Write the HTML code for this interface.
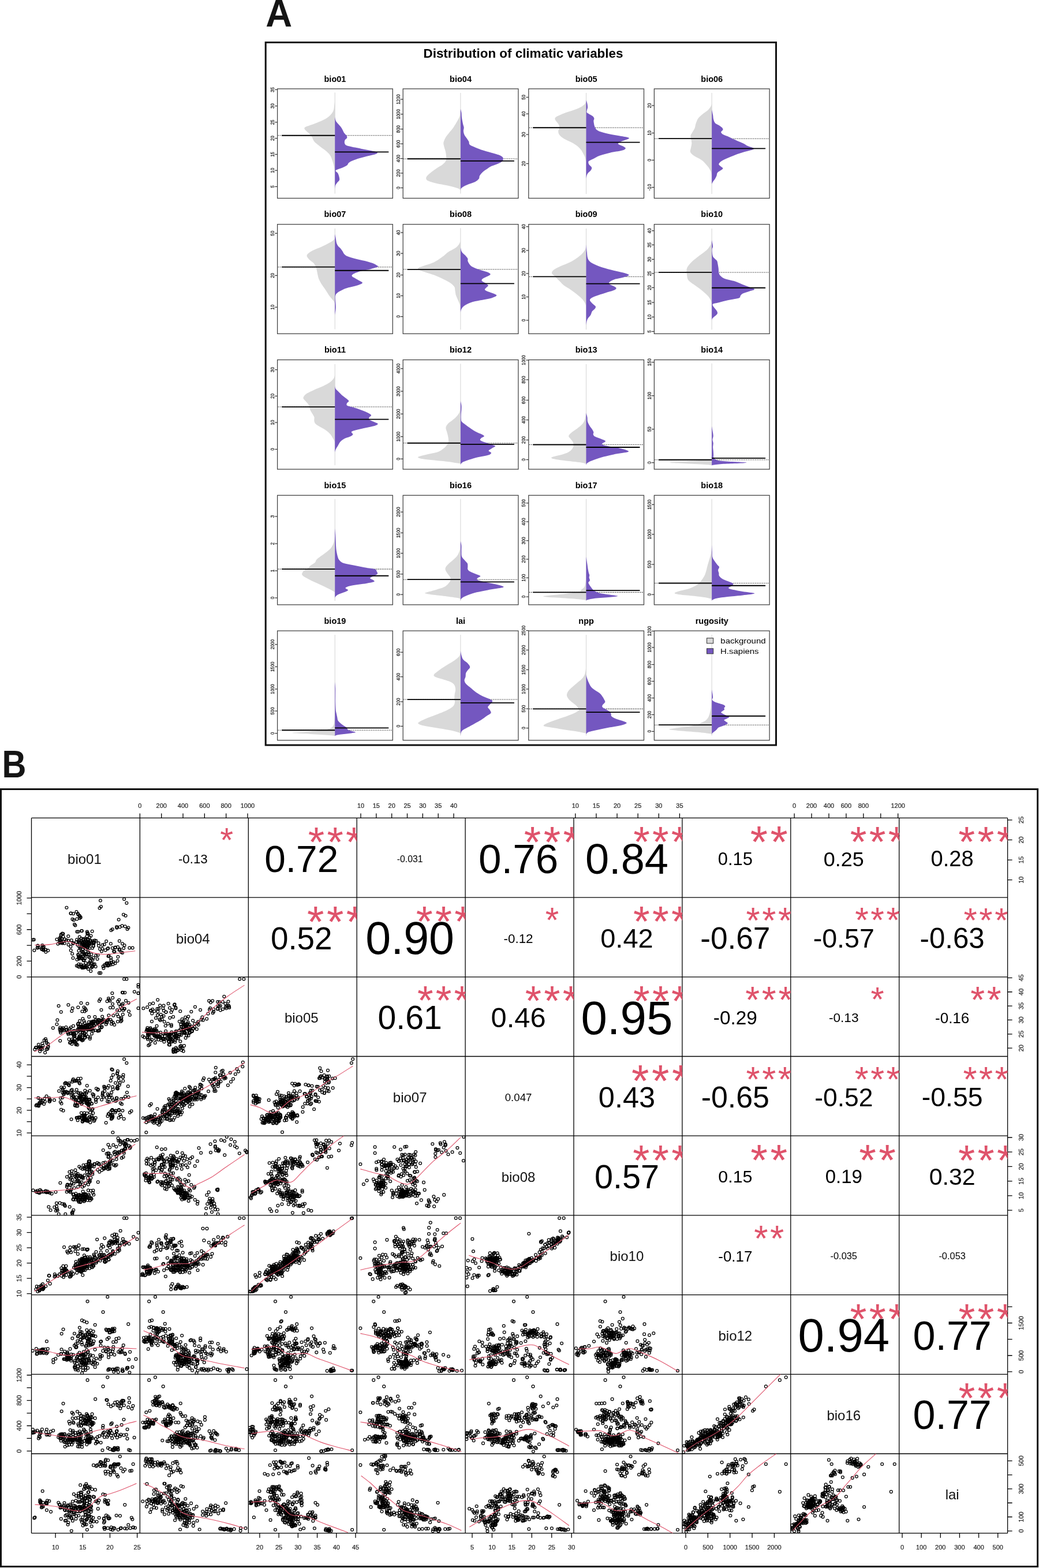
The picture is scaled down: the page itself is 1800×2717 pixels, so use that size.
<!DOCTYPE html>
<html><head><meta charset="utf-8"><title>Distribution of climatic variables</title>
<style>html,body{margin:0;padding:0;background:#fff;}svg{display:block;}.pt{fill:none;stroke:none;marker-start:url(#m);marker-mid:url(#m);marker-end:url(#m);}.lo{fill:none;stroke:#df536b;stroke-width:1.1;}</style></head>
<body><svg width="1800" height="2717" viewBox="0 0 1800 2717" font-family="'Liberation Sans', Arial, Helvetica, sans-serif">
<rect width="1800" height="2717" fill="#fff"/>
<defs><clipPath id="c12"><rect x="242.4" y="1417.4" width="187.9" height="137.7"/></clipPath><clipPath id="c13"><rect x="430.3" y="1417.4" width="187.9" height="137.7"/></clipPath><clipPath id="c14"><rect x="618.2" y="1417.4" width="187.9" height="137.7"/></clipPath><clipPath id="c15"><rect x="806.1" y="1417.4" width="187.9" height="137.7"/></clipPath><clipPath id="c16"><rect x="994" y="1417.4" width="187.9" height="137.7"/></clipPath><clipPath id="c17"><rect x="1181.9" y="1417.4" width="187.9" height="137.7"/></clipPath><clipPath id="c18"><rect x="1369.8" y="1417.4" width="187.9" height="137.7"/></clipPath><clipPath id="c19"><rect x="1557.7" y="1417.4" width="187.9" height="137.7"/></clipPath><clipPath id="c23"><rect x="430.3" y="1555.1" width="187.9" height="137.7"/></clipPath><clipPath id="c24"><rect x="618.2" y="1555.1" width="187.9" height="137.7"/></clipPath><clipPath id="c25"><rect x="806.1" y="1555.1" width="187.9" height="137.7"/></clipPath><clipPath id="c26"><rect x="994" y="1555.1" width="187.9" height="137.7"/></clipPath><clipPath id="c27"><rect x="1181.9" y="1555.1" width="187.9" height="137.7"/></clipPath><clipPath id="c28"><rect x="1369.8" y="1555.1" width="187.9" height="137.7"/></clipPath><clipPath id="c29"><rect x="1557.7" y="1555.1" width="187.9" height="137.7"/></clipPath><clipPath id="c34"><rect x="618.2" y="1692.8" width="187.9" height="137.7"/></clipPath><clipPath id="c35"><rect x="806.1" y="1692.8" width="187.9" height="137.7"/></clipPath><clipPath id="c36"><rect x="994" y="1692.8" width="187.9" height="137.7"/></clipPath><clipPath id="c37"><rect x="1181.9" y="1692.8" width="187.9" height="137.7"/></clipPath><clipPath id="c38"><rect x="1369.8" y="1692.8" width="187.9" height="137.7"/></clipPath><clipPath id="c39"><rect x="1557.7" y="1692.8" width="187.9" height="137.7"/></clipPath><clipPath id="c45"><rect x="806.1" y="1830.5" width="187.9" height="137.7"/></clipPath><clipPath id="c46"><rect x="994" y="1830.5" width="187.9" height="137.7"/></clipPath><clipPath id="c47"><rect x="1181.9" y="1830.5" width="187.9" height="137.7"/></clipPath><clipPath id="c48"><rect x="1369.8" y="1830.5" width="187.9" height="137.7"/></clipPath><clipPath id="c49"><rect x="1557.7" y="1830.5" width="187.9" height="137.7"/></clipPath><clipPath id="c56"><rect x="994" y="1968.2" width="187.9" height="137.7"/></clipPath><clipPath id="c57"><rect x="1181.9" y="1968.2" width="187.9" height="137.7"/></clipPath><clipPath id="c58"><rect x="1369.8" y="1968.2" width="187.9" height="137.7"/></clipPath><clipPath id="c59"><rect x="1557.7" y="1968.2" width="187.9" height="137.7"/></clipPath><clipPath id="c67"><rect x="1181.9" y="2105.9" width="187.9" height="137.7"/></clipPath><clipPath id="c68"><rect x="1369.8" y="2105.9" width="187.9" height="137.7"/></clipPath><clipPath id="c69"><rect x="1557.7" y="2105.9" width="187.9" height="137.7"/></clipPath><clipPath id="c78"><rect x="1369.8" y="2243.6" width="187.9" height="137.7"/></clipPath><clipPath id="c79"><rect x="1557.7" y="2243.6" width="187.9" height="137.7"/></clipPath><clipPath id="c89"><rect x="1557.7" y="2381.3" width="187.9" height="137.7"/></clipPath><clipPath id="s21"><rect x="54.5" y="1555.1" width="187.9" height="137.7"/></clipPath><clipPath id="s31"><rect x="54.5" y="1692.8" width="187.9" height="137.7"/></clipPath><clipPath id="s32"><rect x="242.4" y="1692.8" width="187.9" height="137.7"/></clipPath><clipPath id="s41"><rect x="54.5" y="1830.5" width="187.9" height="137.7"/></clipPath><clipPath id="s42"><rect x="242.4" y="1830.5" width="187.9" height="137.7"/></clipPath><clipPath id="s43"><rect x="430.3" y="1830.5" width="187.9" height="137.7"/></clipPath><clipPath id="s51"><rect x="54.5" y="1968.2" width="187.9" height="137.7"/></clipPath><clipPath id="s52"><rect x="242.4" y="1968.2" width="187.9" height="137.7"/></clipPath><clipPath id="s53"><rect x="430.3" y="1968.2" width="187.9" height="137.7"/></clipPath><clipPath id="s54"><rect x="618.2" y="1968.2" width="187.9" height="137.7"/></clipPath><clipPath id="s61"><rect x="54.5" y="2105.9" width="187.9" height="137.7"/></clipPath><clipPath id="s62"><rect x="242.4" y="2105.9" width="187.9" height="137.7"/></clipPath><clipPath id="s63"><rect x="430.3" y="2105.9" width="187.9" height="137.7"/></clipPath><clipPath id="s64"><rect x="618.2" y="2105.9" width="187.9" height="137.7"/></clipPath><clipPath id="s65"><rect x="806.1" y="2105.9" width="187.9" height="137.7"/></clipPath><clipPath id="s71"><rect x="54.5" y="2243.6" width="187.9" height="137.7"/></clipPath><clipPath id="s72"><rect x="242.4" y="2243.6" width="187.9" height="137.7"/></clipPath><clipPath id="s73"><rect x="430.3" y="2243.6" width="187.9" height="137.7"/></clipPath><clipPath id="s74"><rect x="618.2" y="2243.6" width="187.9" height="137.7"/></clipPath><clipPath id="s75"><rect x="806.1" y="2243.6" width="187.9" height="137.7"/></clipPath><clipPath id="s76"><rect x="994" y="2243.6" width="187.9" height="137.7"/></clipPath><clipPath id="s81"><rect x="54.5" y="2381.3" width="187.9" height="137.7"/></clipPath><clipPath id="s82"><rect x="242.4" y="2381.3" width="187.9" height="137.7"/></clipPath><clipPath id="s83"><rect x="430.3" y="2381.3" width="187.9" height="137.7"/></clipPath><clipPath id="s84"><rect x="618.2" y="2381.3" width="187.9" height="137.7"/></clipPath><clipPath id="s85"><rect x="806.1" y="2381.3" width="187.9" height="137.7"/></clipPath><clipPath id="s86"><rect x="994" y="2381.3" width="187.9" height="137.7"/></clipPath><clipPath id="s87"><rect x="1181.9" y="2381.3" width="187.9" height="137.7"/></clipPath><clipPath id="s91"><rect x="54.5" y="2519" width="187.9" height="137.7"/></clipPath><clipPath id="s92"><rect x="242.4" y="2519" width="187.9" height="137.7"/></clipPath><clipPath id="s93"><rect x="430.3" y="2519" width="187.9" height="137.7"/></clipPath><clipPath id="s94"><rect x="618.2" y="2519" width="187.9" height="137.7"/></clipPath><clipPath id="s95"><rect x="806.1" y="2519" width="187.9" height="137.7"/></clipPath><clipPath id="s96"><rect x="994" y="2519" width="187.9" height="137.7"/></clipPath><clipPath id="s97"><rect x="1181.9" y="2519" width="187.9" height="137.7"/></clipPath><clipPath id="s98"><rect x="1369.8" y="2519" width="187.9" height="137.7"/></clipPath><marker id="m" markerUnits="userSpaceOnUse" markerWidth="8" markerHeight="8" refX="4" refY="4" overflow="visible"><circle cx="4" cy="4" r="2.4" fill="none" stroke="#000" stroke-width="1.25"/></marker></defs>
<rect x="460.2" y="73.5" width="884.3" height="1217.6" fill="none" stroke="#111" stroke-width="3"/>
<text x="0" y="0" transform="translate(460.3,45.5) scale(0.96,1)" font-size="66.2" font-weight="bold" fill="#151515">A</text>
<text x="0" y="0" transform="translate(3.6,1347.4) scale(0.87,1)" font-size="66.7" font-weight="bold" fill="#151515">B</text>
<text x="733.5" y="100.3" font-size="22.4" font-weight="bold">Distribution of climatic variables</text>
<text x="580.45" y="141.5" font-size="14.5" font-weight="bold" text-anchor="middle">bio01</text>
<line x1="481.6" y1="234.77" x2="679.3" y2="234.77" stroke="#222" stroke-width="1.1" stroke-dasharray="1.5 1.6"/>
<line x1="580.23" y1="160.31" x2="580.23" y2="335.52" stroke="#d4d4d4" stroke-width="1"/>
<path d="M580.23 175.77C580.06 176.84 579.7 179.42 579.2 182.21C578.71 185 578.77 189.29 577.27 192.51C575.77 195.74 573.08 198.96 570.18 201.53C567.28 204.11 564.17 205.83 559.88 207.97C555.58 210.12 549.35 212.48 544.42 214.42C539.48 216.35 533.08 218.17 530.24 219.57C527.41 220.97 527.3 221.5 527.41 222.79C527.52 224.08 529.34 225.69 530.89 227.3C532.43 228.91 535.08 230.74 536.69 232.45C538.3 234.17 539.26 235.46 540.55 237.61C541.84 239.75 542.27 242.76 544.42 245.34C546.56 247.91 550.21 250.49 553.43 253.07C556.66 255.64 560.74 258.22 563.74 260.8C566.75 263.37 569.43 265.52 571.47 268.53C573.51 271.53 574.69 274.97 575.98 278.83C577.27 282.7 578.49 287.42 579.2 291.72C579.91 296.01 580.06 302.45 580.23 304.6Z" fill="#d9d9d9"/>
<path d="M580.23 202.82C580.49 203.9 580.88 207.33 581.78 209.26C582.68 211.2 584.25 212.7 585.64 214.42C587.04 216.13 588.86 217.85 590.15 219.57C591.44 221.29 592.41 223.01 593.37 224.72C594.34 226.44 594.77 228.16 595.95 229.88C597.13 231.59 599.6 233.53 600.46 235.03C601.32 236.53 601.6 237.61 601.1 238.89C600.61 240.18 598.18 241.26 597.5 242.76C596.81 244.26 596.59 246.41 596.98 247.91C597.37 249.42 597.84 250.7 599.81 251.78C601.79 252.85 604.11 253.28 608.83 254.35C613.56 255.43 621.72 256.93 628.16 258.22C634.6 259.51 643.19 261.01 647.48 262.08C651.78 263.16 653.49 263.8 653.92 264.66C654.35 265.52 653.28 266.16 650.06 267.24C646.84 268.31 640.18 269.6 634.6 271.1C629.02 272.61 621.5 274.54 616.56 276.26C611.62 277.97 607.54 279.69 604.97 281.41C602.39 283.13 603.04 285.06 601.1 286.56C599.17 288.07 596.38 289.14 593.37 290.43C590.37 291.72 585 293.22 583.07 294.29C581.13 295.37 581.35 295.8 581.78 296.87C582.21 297.94 584.57 298.37 585.64 300.73C586.72 303.1 588.43 308.46 588.22 311.04C588 313.62 585.54 314.48 584.35 316.19C583.17 317.91 581.82 319.42 581.13 321.35C580.45 323.28 580.38 326.72 580.23 327.79Z" fill="#7457c0"/>
<line x1="488.1" y1="234.77" x2="580.23" y2="234.77" stroke="#000" stroke-width="1.8"/>
<line x1="580.23" y1="263.37" x2="673.3" y2="263.37" stroke="#000" stroke-width="1.8"/>
<rect x="480.6" y="153.9" width="199.7" height="189.6" fill="none" stroke="#404040" stroke-width="1.25"/>
<line x1="476.2" y1="155.3" x2="480.6" y2="155.3" stroke="#333" stroke-width="1.2"/>
<text transform="translate(475.1,155.3) rotate(-90) scale(0.85,1)" font-size="9.2" text-anchor="middle" fill="#111" stroke="#111" stroke-width="0.25">35</text>
<line x1="476.2" y1="183.6" x2="480.6" y2="183.6" stroke="#333" stroke-width="1.2"/>
<text transform="translate(475.1,183.6) rotate(-90) scale(0.85,1)" font-size="9.2" text-anchor="middle" fill="#111" stroke="#111" stroke-width="0.25">30</text>
<line x1="476.2" y1="211.8" x2="480.6" y2="211.8" stroke="#333" stroke-width="1.2"/>
<text transform="translate(475.1,211.8) rotate(-90) scale(0.85,1)" font-size="9.2" text-anchor="middle" fill="#111" stroke="#111" stroke-width="0.25">25</text>
<line x1="476.2" y1="239.6" x2="480.6" y2="239.6" stroke="#333" stroke-width="1.2"/>
<text transform="translate(475.1,239.6) rotate(-90) scale(0.85,1)" font-size="9.2" text-anchor="middle" fill="#111" stroke="#111" stroke-width="0.25">20</text>
<line x1="476.2" y1="267.5" x2="480.6" y2="267.5" stroke="#333" stroke-width="1.2"/>
<text transform="translate(475.1,267.5) rotate(-90) scale(0.85,1)" font-size="9.2" text-anchor="middle" fill="#111" stroke="#111" stroke-width="0.25">15</text>
<line x1="476.2" y1="295.3" x2="480.6" y2="295.3" stroke="#333" stroke-width="1.2"/>
<text transform="translate(475.1,295.3) rotate(-90) scale(0.85,1)" font-size="9.2" text-anchor="middle" fill="#111" stroke="#111" stroke-width="0.25">10</text>
<line x1="476.2" y1="323.4" x2="480.6" y2="323.4" stroke="#333" stroke-width="1.2"/>
<text transform="translate(475.1,323.4) rotate(-90) scale(0.85,1)" font-size="9.2" text-anchor="middle" fill="#111" stroke="#111" stroke-width="0.25">5</text>
<text x="798.05" y="141.5" font-size="14.5" font-weight="bold" text-anchor="middle">bio04</text>
<line x1="699.2" y1="275.23" x2="896.9" y2="275.23" stroke="#222" stroke-width="1.1" stroke-dasharray="1.5 1.6"/>
<line x1="797.88" y1="160.95" x2="797.88" y2="335.52" stroke="#d4d4d4" stroke-width="1"/>
<path d="M797.88 188.65C797.6 190.8 797.34 197.67 796.2 201.53C795.06 205.4 792.98 208.4 791.05 211.84C789.12 215.28 786.75 219.14 784.61 222.15C782.46 225.15 780.2 227.3 778.16 229.88C776.12 232.45 773.98 234.81 772.37 237.61C770.76 240.4 769.04 244.05 768.5 246.62C767.97 249.2 768.61 250.49 769.15 253.07C769.68 255.64 771.08 259.08 771.72 262.08C772.37 265.09 772.9 268.31 773.01 271.1C773.12 273.89 773.44 276.47 772.37 278.83C771.29 281.19 769.25 283.13 766.57 285.27C763.89 287.42 759.48 289.57 756.26 291.72C753.04 293.86 749.93 296.01 747.24 298.16C744.56 300.3 741.66 302.67 740.16 304.6C738.66 306.53 737.9 308.25 738.23 309.75C738.55 311.26 739.3 312.33 742.09 313.62C744.88 314.91 749.61 316.19 754.97 317.48C760.34 318.77 768.5 320.06 774.3 321.35C780.1 322.64 786.11 324.14 789.76 325.21C793.41 326.29 794.85 326.93 796.2 327.79C797.55 328.65 797.6 329.94 797.88 330.37Z" fill="#d9d9d9"/>
<path d="M797.88 188.65C798.13 189.72 799.06 192.51 799.42 195.09C799.79 197.67 799.64 200.89 800.07 204.11C800.5 207.33 801.4 211.63 802 214.42C802.6 217.21 803.52 218.71 803.67 220.86C803.82 223.01 802.75 225.15 802.9 227.3C803.05 229.45 803.54 231.59 804.58 233.74C805.61 235.89 807.8 238.25 809.08 240.18C810.37 242.12 811.55 243.62 812.31 245.34C813.06 247.05 812.2 248.99 813.59 250.49C814.99 251.99 817.35 252.85 820.68 254.35C824.01 255.86 828.41 257.79 833.56 259.51C838.72 261.23 846.45 263.16 851.6 264.66C856.75 266.16 861.26 267.24 864.48 268.53C867.7 269.81 869.74 271.1 870.92 272.39C872.11 273.68 871.78 274.97 871.57 276.26C871.35 277.54 871.25 278.83 869.64 280.12C868.03 281.41 864.91 282.7 861.91 283.99C858.9 285.27 854.39 286.56 851.6 287.85C848.81 289.14 847.73 290 845.16 291.72C842.58 293.43 838.5 296.01 836.14 298.16C833.78 300.3 832.06 302.67 830.99 304.6C829.91 306.53 830.99 308.03 829.7 309.75C828.41 311.47 826.05 313.4 823.26 314.91C820.46 316.41 816.17 317.48 812.95 318.77C809.73 320.06 806.29 321.35 803.93 322.64C801.57 323.92 799.79 325.21 798.78 326.5C797.77 327.79 798.03 329.72 797.88 330.37Z" fill="#7457c0"/>
<line x1="705.7" y1="275.23" x2="797.88" y2="275.23" stroke="#000" stroke-width="1.8"/>
<line x1="797.88" y1="278.83" x2="890.9" y2="278.83" stroke="#000" stroke-width="1.8"/>
<rect x="698.2" y="153.9" width="199.7" height="189.6" fill="none" stroke="#404040" stroke-width="1.25"/>
<line x1="693.8" y1="172.1" x2="698.2" y2="172.1" stroke="#333" stroke-width="1.2"/>
<text transform="translate(692.7,172.1) rotate(-90) scale(0.85,1)" font-size="9.2" text-anchor="middle" fill="#111" stroke="#111" stroke-width="0.25">1200</text>
<line x1="693.8" y1="197.9" x2="698.2" y2="197.9" stroke="#333" stroke-width="1.2"/>
<text transform="translate(692.7,197.9) rotate(-90) scale(0.85,1)" font-size="9.2" text-anchor="middle" fill="#111" stroke="#111" stroke-width="0.25">1000</text>
<line x1="693.8" y1="223.7" x2="698.2" y2="223.7" stroke="#333" stroke-width="1.2"/>
<text transform="translate(692.7,223.7) rotate(-90) scale(0.85,1)" font-size="9.2" text-anchor="middle" fill="#111" stroke="#111" stroke-width="0.25">800</text>
<line x1="693.8" y1="249.2" x2="698.2" y2="249.2" stroke="#333" stroke-width="1.2"/>
<text transform="translate(692.7,249.2) rotate(-90) scale(0.85,1)" font-size="9.2" text-anchor="middle" fill="#111" stroke="#111" stroke-width="0.25">600</text>
<line x1="693.8" y1="274.7" x2="698.2" y2="274.7" stroke="#333" stroke-width="1.2"/>
<text transform="translate(692.7,274.7) rotate(-90) scale(0.85,1)" font-size="9.2" text-anchor="middle" fill="#111" stroke="#111" stroke-width="0.25">400</text>
<line x1="693.8" y1="300" x2="698.2" y2="300" stroke="#333" stroke-width="1.2"/>
<text transform="translate(692.7,300) rotate(-90) scale(0.85,1)" font-size="9.2" text-anchor="middle" fill="#111" stroke="#111" stroke-width="0.25">200</text>
<line x1="693.8" y1="325.5" x2="698.2" y2="325.5" stroke="#333" stroke-width="1.2"/>
<text transform="translate(692.7,325.5) rotate(-90) scale(0.85,1)" font-size="9.2" text-anchor="middle" fill="#111" stroke="#111" stroke-width="0.25">0</text>
<text x="1015.65" y="141.5" font-size="14.5" font-weight="bold" text-anchor="middle">bio05</text>
<line x1="916.8" y1="221.24" x2="1114.5" y2="221.24" stroke="#222" stroke-width="1.1" stroke-dasharray="1.5 1.6"/>
<line x1="1015.49" y1="160.95" x2="1015.49" y2="336.16" stroke="#d4d4d4" stroke-width="1"/>
<path d="M1015.49 173.19C1015.17 174.26 1015.27 177.48 1013.56 179.63C1011.84 181.78 1008.73 184.14 1005.18 186.07C1001.64 188.01 997.02 189.51 992.3 191.23C987.58 192.94 981.35 194.66 976.84 196.38C972.33 198.1 967.82 200.03 965.24 201.53C962.67 203.04 961.59 203.9 961.38 205.4C961.17 206.9 962.88 208.83 963.96 210.55C965.03 212.27 966.96 213.99 967.82 215.7C968.68 217.42 969.22 218.93 969.11 220.86C969 222.79 967.18 225.15 967.18 227.3C967.18 229.45 967.5 231.59 969.11 233.74C970.72 235.89 973.4 238.04 976.84 240.18C980.28 242.33 985.86 244.48 989.72 246.62C993.59 248.77 997.24 250.92 1000.03 253.07C1002.82 255.21 1004.75 257.36 1006.47 259.51C1008.19 261.66 1009.16 263.8 1010.34 265.95C1011.52 268.1 1012.81 270.24 1013.56 272.39C1014.31 274.54 1014.52 276.69 1014.85 278.83C1015.17 280.98 1015.38 284.2 1015.49 285.27Z" fill="#d9d9d9"/>
<path d="M1015.49 173.19C1015.81 174.26 1016.99 177.48 1017.42 179.63C1017.85 181.78 1018.17 184.14 1018.07 186.07C1017.96 188.01 1016.99 189.72 1016.78 191.23C1016.56 192.73 1016.13 194.02 1016.78 195.09C1017.42 196.17 1018.93 196.59 1020.64 197.67C1022.36 198.74 1025.62 200.24 1027.08 201.53C1028.54 202.82 1029.19 204.11 1029.4 205.4C1029.62 206.69 1028.44 207.76 1028.37 209.26C1028.31 210.77 1028.69 212.7 1029.02 214.42C1029.34 216.13 1029.55 217.85 1030.31 219.57C1031.06 221.29 1031.7 223.22 1033.53 224.72C1035.35 226.23 1037.39 227.3 1041.26 228.59C1045.12 229.88 1050.49 231.16 1056.72 232.45C1062.94 233.74 1073.14 235.24 1078.62 236.32C1084.09 237.39 1088.28 238.04 1089.57 238.89C1090.86 239.75 1088.6 240.4 1086.35 241.47C1084.09 242.54 1078.62 244.05 1076.04 245.34C1073.46 246.62 1070.46 247.91 1070.89 249.2C1071.32 250.49 1076.47 251.78 1078.62 253.07C1080.76 254.35 1083.99 255.64 1083.77 256.93C1083.56 258.22 1081.84 259.51 1077.33 260.8C1072.82 262.08 1063.16 263.16 1056.72 264.66C1050.27 266.16 1043.4 268.1 1038.68 269.81C1033.96 271.53 1031.38 273.46 1028.37 274.97C1025.37 276.47 1022.15 277.76 1020.64 278.83C1019.14 279.91 1019.35 280.34 1019.35 281.41C1019.35 282.48 1019.68 283.77 1020.64 285.27C1021.61 286.78 1024.72 288.71 1025.15 290.43C1025.58 292.15 1024.4 293.86 1023.22 295.58C1022.04 297.3 1019.25 299.02 1018.07 300.73C1016.89 302.45 1016.56 304.38 1016.13 305.89C1015.7 307.39 1015.6 309.11 1015.49 309.75Z" fill="#7457c0"/>
<line x1="923.3" y1="221.24" x2="1015.49" y2="221.24" stroke="#000" stroke-width="1.8"/>
<line x1="1015.49" y1="246.62" x2="1108.5" y2="246.62" stroke="#000" stroke-width="1.8"/>
<rect x="915.8" y="153.9" width="199.7" height="189.6" fill="none" stroke="#404040" stroke-width="1.25"/>
<line x1="911.4" y1="168.5" x2="915.8" y2="168.5" stroke="#333" stroke-width="1.2"/>
<text transform="translate(910.3,168.5) rotate(-90) scale(0.85,1)" font-size="9.2" text-anchor="middle" fill="#111" stroke="#111" stroke-width="0.25">50</text>
<line x1="911.4" y1="197.3" x2="915.8" y2="197.3" stroke="#333" stroke-width="1.2"/>
<text transform="translate(910.3,197.3) rotate(-90) scale(0.85,1)" font-size="9.2" text-anchor="middle" fill="#111" stroke="#111" stroke-width="0.25">40</text>
<line x1="911.4" y1="233.1" x2="915.8" y2="233.1" stroke="#333" stroke-width="1.2"/>
<text transform="translate(910.3,233.1) rotate(-90) scale(0.85,1)" font-size="9.2" text-anchor="middle" fill="#111" stroke="#111" stroke-width="0.25">30</text>
<line x1="911.4" y1="283.5" x2="915.8" y2="283.5" stroke="#333" stroke-width="1.2"/>
<text transform="translate(910.3,283.5) rotate(-90) scale(0.85,1)" font-size="9.2" text-anchor="middle" fill="#111" stroke="#111" stroke-width="0.25">20</text>
<text x="1233.25" y="141.5" font-size="14.5" font-weight="bold" text-anchor="middle">bio06</text>
<line x1="1134.4" y1="240.18" x2="1332.1" y2="240.18" stroke="#222" stroke-width="1.1" stroke-dasharray="1.5 1.6"/>
<line x1="1233.13" y1="160.95" x2="1233.13" y2="336.16" stroke="#d4d4d4" stroke-width="1"/>
<path d="M1233.13 179.63C1232.81 180.49 1232.38 182.85 1231.2 184.78C1230.02 186.72 1228.62 188.86 1226.05 191.23C1223.47 193.59 1218.53 196.59 1215.74 198.96C1212.95 201.32 1211.02 202.82 1209.3 205.4C1207.58 207.97 1206.4 211.63 1205.43 214.42C1204.47 217.21 1204.58 219.57 1203.5 222.15C1202.43 224.72 1200.17 227.73 1198.99 229.88C1197.81 232.02 1196.74 233.31 1196.42 235.03C1196.09 236.75 1196.74 238.04 1197.06 240.18C1197.38 242.33 1198.35 245.34 1198.35 247.91C1198.35 250.49 1197.49 253.28 1197.06 255.64C1196.63 258 1195.66 260.37 1195.77 262.08C1195.88 263.8 1196.31 264.45 1197.7 265.95C1199.1 267.45 1201.14 269.17 1204.15 271.1C1207.15 273.04 1212.52 275.18 1215.74 277.54C1218.96 279.91 1221.32 282.91 1223.47 285.27C1225.62 287.64 1227.23 289.57 1228.62 291.72C1230.02 293.86 1231.09 296.01 1231.85 298.16C1232.6 300.3 1232.92 303.53 1233.13 304.6Z" fill="#d9d9d9"/>
<path d="M1233.13 189.94C1233.46 191.44 1234.57 196.17 1235.07 198.96C1235.56 201.75 1235.45 204.32 1236.1 206.69C1236.74 209.05 1237.39 211.41 1238.93 213.13C1240.48 214.85 1243.44 215.7 1245.37 216.99C1247.31 218.28 1249.35 219.57 1250.53 220.86C1251.71 222.15 1252.67 223.43 1252.46 224.72C1252.24 226.01 1249.35 227.3 1249.24 228.59C1249.13 229.88 1249.88 231.16 1251.81 232.45C1253.75 233.74 1258.04 235.03 1260.83 236.32C1263.62 237.61 1265.34 238.68 1268.56 240.18C1271.78 241.69 1276.72 243.83 1280.16 245.34C1283.59 246.84 1286.6 247.91 1289.18 249.2C1291.75 250.49 1292.83 251.78 1295.62 253.07C1298.41 254.35 1304.64 255.86 1305.92 256.93C1307.21 258 1306.14 258.43 1303.35 259.51C1300.56 260.58 1294.11 261.87 1289.18 263.37C1284.24 264.88 1278.44 266.81 1273.72 268.53C1268.99 270.24 1264.7 271.96 1260.83 273.68C1256.97 275.4 1253.1 277.12 1250.53 278.83C1247.95 280.55 1245.8 282.48 1245.37 283.99C1244.94 285.49 1246.77 286.56 1247.95 287.85C1249.13 289.14 1252.46 290.43 1252.46 291.72C1252.46 293 1249.56 294.29 1247.95 295.58C1246.34 296.87 1243.87 297.94 1242.8 299.45C1241.72 300.95 1242.15 302.88 1241.51 304.6C1240.86 306.32 1240 308.03 1238.93 309.75C1237.86 311.47 1236.03 313.4 1235.07 314.91C1234.1 316.41 1233.46 318.13 1233.13 318.77Z" fill="#7457c0"/>
<line x1="1140.9" y1="240.18" x2="1233.13" y2="240.18" stroke="#000" stroke-width="1.8"/>
<line x1="1233.13" y1="257.32" x2="1326.1" y2="257.32" stroke="#000" stroke-width="1.8"/>
<rect x="1133.4" y="153.9" width="199.7" height="189.6" fill="none" stroke="#404040" stroke-width="1.25"/>
<line x1="1129" y1="182.9" x2="1133.4" y2="182.9" stroke="#333" stroke-width="1.2"/>
<text transform="translate(1127.9,182.9) rotate(-90) scale(0.85,1)" font-size="9.2" text-anchor="middle" fill="#111" stroke="#111" stroke-width="0.25">20</text>
<line x1="1129" y1="230.5" x2="1133.4" y2="230.5" stroke="#333" stroke-width="1.2"/>
<text transform="translate(1127.9,230.5) rotate(-90) scale(0.85,1)" font-size="9.2" text-anchor="middle" fill="#111" stroke="#111" stroke-width="0.25">10</text>
<line x1="1129" y1="277.5" x2="1133.4" y2="277.5" stroke="#333" stroke-width="1.2"/>
<text transform="translate(1127.9,277.5) rotate(-90) scale(0.85,1)" font-size="9.2" text-anchor="middle" fill="#111" stroke="#111" stroke-width="0.25">0</text>
<line x1="1129" y1="324.6" x2="1133.4" y2="324.6" stroke="#333" stroke-width="1.2"/>
<text transform="translate(1127.9,324.6) rotate(-90) scale(0.85,1)" font-size="9.2" text-anchor="middle" fill="#111" stroke="#111" stroke-width="0.25">-10</text>
<text x="580.45" y="376.3" font-size="14.5" font-weight="bold" text-anchor="middle">bio07</text>
<line x1="481.6" y1="462.69" x2="679.3" y2="462.69" stroke="#222" stroke-width="1.1" stroke-dasharray="1.5 1.6"/>
<line x1="580.23" y1="395.95" x2="580.23" y2="570.52" stroke="#d4d4d4" stroke-width="1"/>
<path d="M580.23 412.05C579.85 412.7 579.59 414.42 577.91 415.92C576.24 417.42 573.62 419.14 570.18 421.07C566.75 423.01 562.02 425.37 557.3 427.51C552.58 429.66 545.7 432.02 541.84 433.96C537.97 435.89 535.83 437.5 534.11 439.11C532.39 440.72 531.32 441.9 531.53 443.62C531.75 445.34 533.47 447.38 535.4 449.42C537.33 451.46 541.2 453.71 543.13 455.86C545.06 458.01 546.03 460.15 546.99 462.3C547.96 464.45 548.39 466.59 548.93 468.74C549.46 470.89 549.68 472.82 550.21 475.18C550.75 477.54 551.18 480.34 552.15 482.91C553.11 485.49 554.51 488.07 556.01 490.64C557.51 493.22 559.45 495.8 561.16 498.37C562.88 500.95 564.6 503.53 566.32 506.1C568.04 508.68 569.54 511.26 571.47 513.83C573.4 516.41 576.45 519.42 577.91 521.56C579.37 523.71 579.85 525.86 580.23 526.72Z" fill="#d9d9d9"/>
<path d="M580.23 405.61C580.49 406.9 581.31 410.77 581.78 413.34C582.25 415.92 582.42 418.93 583.07 421.07C583.71 423.22 584.57 424.72 585.64 426.23C586.72 427.73 588.22 428.59 589.51 430.09C590.8 431.59 592.19 433.53 593.37 435.24C594.55 436.96 595.09 438.9 596.59 440.4C598.1 441.9 599.28 442.97 602.39 444.26C605.5 445.55 610.34 446.84 615.27 448.13C620.21 449.42 627.08 450.7 632.02 451.99C636.96 453.28 641.47 454.57 644.91 455.86C648.34 457.15 651.03 458.65 652.64 459.72C654.25 460.8 656.29 461.23 654.57 462.3C652.85 463.37 647.38 464.88 642.33 466.16C637.28 467.45 629.45 468.53 624.29 470.03C619.14 471.53 613.77 473.68 611.41 475.18C609.05 476.69 609.26 477.76 610.12 479.05C610.98 480.34 613.99 481.41 616.56 482.91C619.14 484.42 623.76 486.78 625.58 488.07C627.41 489.35 628.59 489.57 627.51 490.64C626.44 491.72 623.11 493.22 619.14 494.51C615.17 495.8 607.97 497.08 603.68 498.37C599.39 499.66 596.59 500.73 593.37 502.24C590.15 503.74 586.39 505.67 584.35 507.39C582.31 509.11 581.67 510.4 581.13 512.54C580.6 514.69 581.03 516.84 581.13 520.27C581.24 523.71 581.93 528.86 581.78 533.16C581.63 537.45 580.49 543.89 580.23 546.04Z" fill="#7457c0"/>
<line x1="488.1" y1="462.69" x2="580.23" y2="462.69" stroke="#000" stroke-width="1.8"/>
<line x1="580.23" y1="468.74" x2="673.3" y2="468.74" stroke="#000" stroke-width="1.8"/>
<rect x="480.6" y="388.7" width="199.7" height="189.6" fill="none" stroke="#404040" stroke-width="1.25"/>
<line x1="476.2" y1="404.3" x2="480.6" y2="404.3" stroke="#333" stroke-width="1.2"/>
<text transform="translate(475.1,404.3) rotate(-90) scale(0.85,1)" font-size="9.2" text-anchor="middle" fill="#111" stroke="#111" stroke-width="0.25">50</text>
<line x1="476.2" y1="477.4" x2="480.6" y2="477.4" stroke="#333" stroke-width="1.2"/>
<text transform="translate(475.1,477.4) rotate(-90) scale(0.85,1)" font-size="9.2" text-anchor="middle" fill="#111" stroke="#111" stroke-width="0.25">20</text>
<line x1="476.2" y1="532.3" x2="480.6" y2="532.3" stroke="#333" stroke-width="1.2"/>
<text transform="translate(475.1,532.3) rotate(-90) scale(0.85,1)" font-size="9.2" text-anchor="middle" fill="#111" stroke="#111" stroke-width="0.25">10</text>
<text x="798.05" y="376.3" font-size="14.5" font-weight="bold" text-anchor="middle">bio08</text>
<line x1="699.2" y1="466.81" x2="896.9" y2="466.81" stroke="#222" stroke-width="1.1" stroke-dasharray="1.5 1.6"/>
<line x1="797.88" y1="395.31" x2="797.88" y2="571.16" stroke="#d4d4d4" stroke-width="1"/>
<path d="M797.88 417.21C797.38 418.28 796.48 421.5 794.91 423.65C793.35 425.8 791.48 427.94 788.47 430.09C785.47 432.24 780.1 434.39 776.88 436.53C773.66 438.68 771.94 440.83 769.15 442.97C766.35 445.12 763.56 447.27 760.13 449.42C756.69 451.56 753.04 453.93 748.53 455.86C744.02 457.79 737.05 459.62 733.07 461.01C729.1 462.41 725.99 463.16 724.7 464.23C723.41 465.31 723.52 466.27 725.34 467.45C727.17 468.63 730.71 469.6 735.65 471.32C740.59 473.04 749.39 475.61 754.97 477.76C760.56 479.91 764.85 482.05 769.15 484.2C773.44 486.35 777.74 488.5 780.74 490.64C783.75 492.79 785.89 494.94 787.18 497.08C788.47 499.23 788.04 501.16 788.47 503.53C788.9 505.89 789.01 508.68 789.76 511.26C790.51 513.83 791.91 516.41 792.98 518.99C794.05 521.56 795.39 524.14 796.2 526.72C797.02 529.29 797.6 533.16 797.88 534.45Z" fill="#d9d9d9"/>
<path d="M797.88 428.8C798.24 430.09 798.63 434.17 800.07 436.53C801.5 438.9 804.79 441.04 806.51 442.97C808.23 444.91 809.73 446.63 810.37 448.13C811.02 449.63 809.94 450.49 810.37 451.99C810.8 453.5 811.66 455.43 812.95 457.15C814.24 458.86 815.1 460.58 818.1 462.3C821.11 464.02 826.69 465.95 830.99 467.45C835.28 468.96 840.76 470.03 843.87 471.32C846.98 472.61 849.67 473.89 849.67 475.18C849.67 476.47 846.12 477.76 843.87 479.05C841.61 480.34 837.64 481.62 836.14 482.91C834.64 484.2 833.99 485.49 834.85 486.78C835.71 488.07 839.47 489.35 841.29 490.64C843.12 491.93 845.59 493.22 845.8 494.51C846.02 495.8 843.55 497.08 842.58 498.37C841.61 499.66 839.15 500.95 840 502.24C840.86 503.53 844.73 504.81 847.73 506.1C850.74 507.39 856 508.89 858.04 509.97C860.08 511.04 861.05 511.47 859.97 512.54C858.9 513.62 856.22 515.12 851.6 516.41C846.98 517.7 838.29 518.99 832.27 520.27C826.26 521.56 820.04 522.64 815.53 524.14C811.02 525.64 807.8 527.57 805.22 529.29C802.64 531.01 801.25 532.73 800.07 534.45C798.89 536.16 798.5 537.88 798.13 539.6C797.77 541.32 797.92 543.89 797.88 544.75Z" fill="#7457c0"/>
<line x1="705.7" y1="466.81" x2="797.88" y2="466.81" stroke="#000" stroke-width="1.8"/>
<line x1="797.88" y1="491.29" x2="890.9" y2="491.29" stroke="#000" stroke-width="1.8"/>
<rect x="698.2" y="388.7" width="199.7" height="189.6" fill="none" stroke="#404040" stroke-width="1.25"/>
<line x1="693.8" y1="403" x2="698.2" y2="403" stroke="#333" stroke-width="1.2"/>
<text transform="translate(692.7,403) rotate(-90) scale(0.85,1)" font-size="9.2" text-anchor="middle" fill="#111" stroke="#111" stroke-width="0.25">40</text>
<line x1="693.8" y1="439.1" x2="698.2" y2="439.1" stroke="#333" stroke-width="1.2"/>
<text transform="translate(692.7,439.1) rotate(-90) scale(0.85,1)" font-size="9.2" text-anchor="middle" fill="#111" stroke="#111" stroke-width="0.25">30</text>
<line x1="693.8" y1="476.5" x2="698.2" y2="476.5" stroke="#333" stroke-width="1.2"/>
<text transform="translate(692.7,476.5) rotate(-90) scale(0.85,1)" font-size="9.2" text-anchor="middle" fill="#111" stroke="#111" stroke-width="0.25">20</text>
<line x1="693.8" y1="512.5" x2="698.2" y2="512.5" stroke="#333" stroke-width="1.2"/>
<text transform="translate(692.7,512.5) rotate(-90) scale(0.85,1)" font-size="9.2" text-anchor="middle" fill="#111" stroke="#111" stroke-width="0.25">10</text>
<line x1="693.8" y1="548.6" x2="698.2" y2="548.6" stroke="#333" stroke-width="1.2"/>
<text transform="translate(692.7,548.6) rotate(-90) scale(0.85,1)" font-size="9.2" text-anchor="middle" fill="#111" stroke="#111" stroke-width="0.25">0</text>
<text x="1015.65" y="376.3" font-size="14.5" font-weight="bold" text-anchor="middle">bio09</text>
<line x1="916.8" y1="479.43" x2="1114.5" y2="479.43" stroke="#222" stroke-width="1.1" stroke-dasharray="1.5 1.6"/>
<line x1="1015.49" y1="395.95" x2="1015.49" y2="571.16" stroke="#d4d4d4" stroke-width="1"/>
<path d="M1015.49 424.94C1015.27 426.01 1015.27 429.02 1014.2 431.38C1013.13 433.74 1011.41 436.53 1009.05 439.11C1006.69 441.69 1003.68 444.26 1000.03 446.84C996.38 449.42 991.87 452.21 987.15 454.57C982.42 456.93 975.98 459.08 971.69 461.01C967.39 462.94 963.85 464.66 961.38 466.16C958.91 467.67 957.73 468.74 956.87 470.03C956.01 471.32 955.69 472.61 956.23 473.89C956.76 475.18 958.59 476.26 960.09 477.76C961.59 479.26 963.53 481.2 965.24 482.91C966.96 484.63 968.47 486.13 970.4 488.07C972.33 490 974.05 492.36 976.84 494.51C979.63 496.66 983.93 498.8 987.15 500.95C990.37 503.1 993.37 505.24 996.16 507.39C998.96 509.54 1001.53 511.69 1003.89 513.83C1006.26 515.98 1008.62 518.13 1010.34 520.27C1012.05 522.42 1013.34 524.57 1014.2 526.72C1015.06 528.86 1015.27 532.08 1015.49 533.16Z" fill="#d9d9d9"/>
<path d="M1015.49 423.65C1015.7 425.8 1016.35 432.67 1016.78 436.53C1017.21 440.4 1017.21 444.05 1018.07 446.84C1018.93 449.63 1019.78 451.35 1021.93 453.28C1024.08 455.21 1027.3 456.72 1030.95 458.43C1034.6 460.15 1038.46 461.87 1043.83 463.59C1049.2 465.31 1057.15 467.24 1063.16 468.74C1069.17 470.24 1075.5 471.32 1079.91 472.61C1084.31 473.89 1089.35 475.18 1089.57 476.47C1089.78 477.76 1085.38 479.05 1081.19 480.34C1077.01 481.62 1068.53 482.91 1064.45 484.2C1060.37 485.49 1058.22 486.78 1056.72 488.07C1055.21 489.35 1054.35 490.64 1055.43 491.93C1056.5 493.22 1061.12 494.51 1063.16 495.8C1065.2 497.08 1067.88 498.37 1067.67 499.66C1067.45 500.95 1064.98 502.24 1061.87 503.53C1058.76 504.81 1053.71 505.89 1048.99 507.39C1044.26 508.89 1037.61 511.04 1033.53 512.54C1029.45 514.05 1026.44 515.12 1024.51 516.41C1022.58 517.7 1021.72 518.77 1021.93 520.27C1022.15 521.78 1024.19 523.71 1025.8 525.43C1027.41 527.15 1030.73 529.08 1031.59 530.58C1032.45 532.08 1031.92 532.94 1030.95 534.45C1029.98 535.95 1027.08 537.67 1025.8 539.6C1024.51 541.53 1024.51 543.89 1023.22 546.04C1021.93 548.19 1019.25 550.34 1018.07 552.48C1016.89 554.63 1016.56 556.99 1016.13 558.92C1015.7 560.86 1015.6 563.22 1015.49 564.08Z" fill="#7457c0"/>
<line x1="923.3" y1="479.43" x2="1015.49" y2="479.43" stroke="#000" stroke-width="1.8"/>
<line x1="1015.49" y1="491.67" x2="1108.5" y2="491.67" stroke="#000" stroke-width="1.8"/>
<rect x="915.8" y="388.7" width="199.7" height="189.6" fill="none" stroke="#404040" stroke-width="1.25"/>
<line x1="911.4" y1="392.7" x2="915.8" y2="392.7" stroke="#333" stroke-width="1.2"/>
<text transform="translate(910.3,392.7) rotate(-90) scale(0.85,1)" font-size="9.2" text-anchor="middle" fill="#111" stroke="#111" stroke-width="0.25">40</text>
<line x1="911.4" y1="434" x2="915.8" y2="434" stroke="#333" stroke-width="1.2"/>
<text transform="translate(910.3,434) rotate(-90) scale(0.85,1)" font-size="9.2" text-anchor="middle" fill="#111" stroke="#111" stroke-width="0.25">30</text>
<line x1="911.4" y1="473.9" x2="915.8" y2="473.9" stroke="#333" stroke-width="1.2"/>
<text transform="translate(910.3,473.9) rotate(-90) scale(0.85,1)" font-size="9.2" text-anchor="middle" fill="#111" stroke="#111" stroke-width="0.25">20</text>
<line x1="911.4" y1="514.5" x2="915.8" y2="514.5" stroke="#333" stroke-width="1.2"/>
<text transform="translate(910.3,514.5) rotate(-90) scale(0.85,1)" font-size="9.2" text-anchor="middle" fill="#111" stroke="#111" stroke-width="0.25">10</text>
<line x1="911.4" y1="555" x2="915.8" y2="555" stroke="#333" stroke-width="1.2"/>
<text transform="translate(910.3,555) rotate(-90) scale(0.85,1)" font-size="9.2" text-anchor="middle" fill="#111" stroke="#111" stroke-width="0.25">0</text>
<text x="1233.25" y="376.3" font-size="14.5" font-weight="bold" text-anchor="middle">bio10</text>
<line x1="1134.4" y1="471.96" x2="1332.1" y2="471.96" stroke="#222" stroke-width="1.1" stroke-dasharray="1.5 1.6"/>
<line x1="1233.13" y1="395.95" x2="1233.13" y2="571.16" stroke="#d4d4d4" stroke-width="1"/>
<path d="M1233.13 415.92C1232.81 417.21 1232.38 421.07 1231.2 423.65C1230.02 426.23 1228.41 428.8 1226.05 431.38C1223.69 433.96 1220.25 436.53 1217.03 439.11C1213.81 441.69 1209.94 444.26 1206.72 446.84C1203.5 449.42 1200.28 451.99 1197.7 454.57C1195.13 457.15 1192.66 459.94 1191.26 462.3C1189.87 464.66 1189.55 466.59 1189.33 468.74C1189.12 470.89 1189.65 472.82 1189.97 475.18C1190.3 477.54 1190.4 480.77 1191.26 482.91C1192.12 485.06 1192.98 486.13 1195.13 488.07C1197.28 490 1201.14 492.36 1204.15 494.51C1207.15 496.66 1210.37 498.8 1213.16 500.95C1215.96 503.1 1218.53 505.24 1220.89 507.39C1223.26 509.54 1225.62 511.69 1227.34 513.83C1229.05 515.98 1230.23 518.13 1231.2 520.27C1232.17 522.42 1232.81 525.64 1233.13 526.72Z" fill="#d9d9d9"/>
<path d="M1233.13 415.92C1233.35 416.99 1234.1 420.43 1234.42 422.36C1234.74 424.29 1235.17 426.01 1235.07 427.51C1234.96 429.02 1233.99 429.88 1233.78 431.38C1233.56 432.88 1233.56 434.39 1233.78 436.53C1233.99 438.68 1234.31 442.33 1235.07 444.26C1235.82 446.2 1237.11 446.84 1238.29 448.13C1239.47 449.42 1241.29 450.49 1242.15 451.99C1243.01 453.5 1243.01 455 1243.44 457.15C1243.87 459.29 1244.41 462.3 1244.73 464.88C1245.05 467.45 1244.84 470.46 1245.37 472.61C1245.91 474.75 1246.23 476.04 1247.95 477.76C1249.67 479.48 1251.81 481.41 1255.68 482.91C1259.54 484.42 1266.84 485.49 1271.14 486.78C1275.43 488.07 1278.23 489.35 1281.45 490.64C1284.67 491.93 1287.24 493.22 1290.46 494.51C1293.69 495.8 1297.98 497.19 1300.77 498.37C1303.56 499.55 1307.64 500.52 1307.21 501.59C1306.78 502.67 1301.63 503.63 1298.19 504.81C1294.76 506 1289.18 507.39 1286.6 508.68C1284.02 509.97 1283.81 511.26 1282.73 512.54C1281.66 513.83 1283.81 515.12 1280.16 516.41C1276.51 517.7 1266.63 518.99 1260.83 520.27C1255.04 521.56 1249.67 523.07 1245.37 524.14C1241.08 525.21 1236.57 525.43 1235.07 526.72C1233.56 528 1235.28 529.94 1236.35 531.87C1237.43 533.8 1240.43 536.38 1241.51 538.31C1242.58 540.24 1243.44 541.75 1242.8 543.46C1242.15 545.18 1239.15 547.11 1237.64 548.62C1236.14 550.12 1234.53 551.19 1233.78 552.48C1233.03 553.77 1233.24 555.7 1233.13 556.35Z" fill="#7457c0"/>
<line x1="1140.9" y1="471.96" x2="1233.13" y2="471.96" stroke="#000" stroke-width="1.8"/>
<line x1="1233.13" y1="498.76" x2="1326.1" y2="498.76" stroke="#000" stroke-width="1.8"/>
<rect x="1133.4" y="388.7" width="199.7" height="189.6" fill="none" stroke="#404040" stroke-width="1.25"/>
<line x1="1129" y1="399.8" x2="1133.4" y2="399.8" stroke="#333" stroke-width="1.2"/>
<text transform="translate(1127.9,399.8) rotate(-90) scale(0.85,1)" font-size="9.2" text-anchor="middle" fill="#111" stroke="#111" stroke-width="0.25">40</text>
<line x1="1129" y1="424.3" x2="1133.4" y2="424.3" stroke="#333" stroke-width="1.2"/>
<text transform="translate(1127.9,424.3) rotate(-90) scale(0.85,1)" font-size="9.2" text-anchor="middle" fill="#111" stroke="#111" stroke-width="0.25">35</text>
<line x1="1129" y1="449.4" x2="1133.4" y2="449.4" stroke="#333" stroke-width="1.2"/>
<text transform="translate(1127.9,449.4) rotate(-90) scale(0.85,1)" font-size="9.2" text-anchor="middle" fill="#111" stroke="#111" stroke-width="0.25">30</text>
<line x1="1129" y1="473.9" x2="1133.4" y2="473.9" stroke="#333" stroke-width="1.2"/>
<text transform="translate(1127.9,473.9) rotate(-90) scale(0.85,1)" font-size="9.2" text-anchor="middle" fill="#111" stroke="#111" stroke-width="0.25">25</text>
<line x1="1129" y1="498.4" x2="1133.4" y2="498.4" stroke="#333" stroke-width="1.2"/>
<text transform="translate(1127.9,498.4) rotate(-90) scale(0.85,1)" font-size="9.2" text-anchor="middle" fill="#111" stroke="#111" stroke-width="0.25">20</text>
<line x1="1129" y1="524.1" x2="1133.4" y2="524.1" stroke="#333" stroke-width="1.2"/>
<text transform="translate(1127.9,524.1) rotate(-90) scale(0.85,1)" font-size="9.2" text-anchor="middle" fill="#111" stroke="#111" stroke-width="0.25">15</text>
<line x1="1129" y1="549.3" x2="1133.4" y2="549.3" stroke="#333" stroke-width="1.2"/>
<text transform="translate(1127.9,549.3) rotate(-90) scale(0.85,1)" font-size="9.2" text-anchor="middle" fill="#111" stroke="#111" stroke-width="0.25">10</text>
<line x1="1129" y1="574.4" x2="1133.4" y2="574.4" stroke="#333" stroke-width="1.2"/>
<text transform="translate(1127.9,574.4) rotate(-90) scale(0.85,1)" font-size="9.2" text-anchor="middle" fill="#111" stroke="#111" stroke-width="0.25">5</text>
<text x="580.45" y="611.1" font-size="14.5" font-weight="bold" text-anchor="middle">bio11</text>
<line x1="481.6" y1="705.03" x2="679.3" y2="705.03" stroke="#222" stroke-width="1.1" stroke-dasharray="1.5 1.6"/>
<line x1="580.23" y1="630.95" x2="580.23" y2="806.16" stroke="#d4d4d4" stroke-width="1"/>
<path d="M580.23 649.63C579.85 650.71 579.37 653.93 577.91 656.07C576.45 658.22 574.48 660.37 571.47 662.51C568.47 664.66 564.39 666.81 559.88 668.96C555.37 671.1 549.14 673.25 544.42 675.4C539.69 677.55 534.54 679.91 531.53 681.84C528.53 683.77 527.35 685.49 526.38 686.99C525.41 688.5 525.09 689.35 525.74 690.86C526.38 692.36 528.63 694.08 530.24 696.01C531.86 697.94 534.22 700.09 535.4 702.45C536.58 704.81 536.26 707.61 537.33 710.18C538.4 712.76 540.66 715.77 541.84 717.91C543.02 720.06 543.99 721.13 544.42 723.07C544.85 725 543.99 727.58 544.42 729.51C544.85 731.44 545.28 732.94 546.99 734.66C548.71 736.38 551.93 738.1 554.72 739.81C557.51 741.53 560.95 743.04 563.74 744.97C566.53 746.9 569.32 749.05 571.47 751.41C573.62 753.77 575.23 756.78 576.62 759.14C578.02 761.5 579.24 763.65 579.85 765.58C580.45 767.51 580.17 769.88 580.23 770.73Z" fill="#d9d9d9"/>
<path d="M580.23 668.96C580.49 669.82 580.66 672.39 581.78 674.11C582.89 675.83 585.21 677.55 586.93 679.26C588.65 680.98 590.15 682.7 592.08 684.42C594.02 686.13 596.49 687.85 598.53 689.57C600.57 691.29 603.89 693.22 604.32 694.72C604.75 696.23 601.64 697.3 601.1 698.59C600.57 699.88 599.81 701.38 601.1 702.45C602.39 703.53 605.4 703.96 608.83 705.03C612.27 706.1 617.42 707.39 621.72 708.89C626.01 710.4 631.06 712.33 634.6 714.05C638.14 715.77 642.11 717.7 642.97 719.2C643.83 720.7 640.29 721.78 639.75 723.07C639.22 724.35 638.46 725.64 639.75 726.93C641.04 728.22 645.01 729.51 647.48 730.8C649.95 732.08 654.78 733.37 654.57 734.66C654.35 735.95 650.6 737.24 646.19 738.53C641.79 739.81 633.74 741.1 628.16 742.39C622.57 743.68 615.92 745.18 612.7 746.26C609.48 747.33 609.05 747.76 608.83 748.83C608.62 749.91 611.84 751.41 611.41 752.7C610.98 753.99 608.83 755.27 606.26 756.56C603.68 757.85 598.74 758.92 595.95 760.43C593.16 761.93 591.23 763.65 589.51 765.58C587.79 767.51 586.93 769.88 585.64 772.02C584.35 774.17 582.68 776.53 581.78 778.46C580.88 780.4 580.49 782.76 580.23 783.62Z" fill="#7457c0"/>
<line x1="488.1" y1="705.03" x2="580.23" y2="705.03" stroke="#000" stroke-width="1.8"/>
<line x1="580.23" y1="726.67" x2="673.3" y2="726.67" stroke="#000" stroke-width="1.8"/>
<rect x="480.6" y="623.5" width="199.7" height="189.6" fill="none" stroke="#404040" stroke-width="1.25"/>
<line x1="476.2" y1="640.6" x2="480.6" y2="640.6" stroke="#333" stroke-width="1.2"/>
<text transform="translate(475.1,640.6) rotate(-90) scale(0.85,1)" font-size="9.2" text-anchor="middle" fill="#111" stroke="#111" stroke-width="0.25">30</text>
<line x1="476.2" y1="686.3" x2="480.6" y2="686.3" stroke="#333" stroke-width="1.2"/>
<text transform="translate(475.1,686.3) rotate(-90) scale(0.85,1)" font-size="9.2" text-anchor="middle" fill="#111" stroke="#111" stroke-width="0.25">20</text>
<line x1="476.2" y1="732.1" x2="480.6" y2="732.1" stroke="#333" stroke-width="1.2"/>
<text transform="translate(475.1,732.1) rotate(-90) scale(0.85,1)" font-size="9.2" text-anchor="middle" fill="#111" stroke="#111" stroke-width="0.25">10</text>
<line x1="476.2" y1="778.5" x2="480.6" y2="778.5" stroke="#333" stroke-width="1.2"/>
<text transform="translate(475.1,778.5) rotate(-90) scale(0.85,1)" font-size="9.2" text-anchor="middle" fill="#111" stroke="#111" stroke-width="0.25">0</text>
<text x="798.05" y="611.1" font-size="14.5" font-weight="bold" text-anchor="middle">bio12</text>
<line x1="699.2" y1="767.77" x2="896.9" y2="767.77" stroke="#222" stroke-width="1.1" stroke-dasharray="1.5 1.6"/>
<line x1="797.88" y1="630.31" x2="797.88" y2="805.52" stroke="#d4d4d4" stroke-width="1"/>
<path d="M797.88 703.74C797.7 704.81 797.34 708.04 796.85 710.18C796.35 712.33 796.09 714.48 794.91 716.62C793.73 718.77 791.91 720.92 789.76 723.07C787.61 725.21 784.39 727.58 782.03 729.51C779.67 731.44 777.2 732.73 775.59 734.66C773.98 736.59 772.58 738.74 772.37 741.1C772.15 743.46 773.66 746.26 774.3 748.83C774.94 751.41 775.8 753.99 776.23 756.56C776.66 759.14 777.31 761.72 776.88 764.29C776.45 766.87 775.37 769.66 773.66 772.02C771.94 774.38 769.25 776.53 766.57 778.46C763.89 780.4 762.06 782.11 757.55 783.62C753.04 785.12 744.88 786.19 739.51 787.48C734.15 788.77 727.49 790.27 725.34 791.35C723.2 792.42 723.84 793.07 726.63 793.92C729.42 794.78 735.22 795.64 742.09 796.5C748.96 797.36 760.34 798.22 767.86 799.08C775.37 799.94 782.46 801.01 787.18 801.65C791.91 802.3 794.42 802.51 796.2 802.94C797.98 803.37 797.6 804.02 797.88 804.23Z" fill="#d9d9d9"/>
<path d="M797.88 694.72C798.13 696.01 799.16 699.88 799.42 702.45C799.68 705.03 799.53 707.61 799.42 710.18C799.31 712.76 798.89 715.34 798.78 717.91C798.67 720.49 798.56 723.5 798.78 725.64C798.99 727.79 798.78 729.08 800.07 730.8C801.35 732.51 803.93 734.02 806.51 735.95C809.08 737.88 812.31 740.24 815.53 742.39C818.75 744.54 822.61 747.12 825.83 748.83C829.05 750.55 832.7 751.52 834.85 752.7C837 753.88 838.93 754.84 838.72 755.92C838.5 756.99 834.64 757.96 833.56 759.14C832.49 760.32 830.99 761.72 832.27 763C833.56 764.29 837.86 765.58 841.29 766.87C844.73 768.16 850.1 769.66 852.89 770.73C855.68 771.81 858.26 772.24 858.04 773.31C857.83 774.38 853.53 775.89 851.6 777.18C849.67 778.46 846.55 779.75 846.45 781.04C846.34 782.33 851.17 783.62 850.96 784.91C850.74 786.19 849.34 787.48 845.16 788.77C840.97 790.06 831.2 791.35 825.83 792.64C820.46 793.92 816.81 795.21 812.95 796.5C809.08 797.79 805.16 799.08 802.64 800.37C800.13 801.65 798.67 803.59 797.88 804.23Z" fill="#7457c0"/>
<line x1="705.7" y1="767.77" x2="797.88" y2="767.77" stroke="#000" stroke-width="1.8"/>
<line x1="797.88" y1="769.83" x2="890.9" y2="769.83" stroke="#000" stroke-width="1.8"/>
<rect x="698.2" y="623.5" width="199.7" height="189.6" fill="none" stroke="#404040" stroke-width="1.25"/>
<line x1="693.8" y1="638.7" x2="698.2" y2="638.7" stroke="#333" stroke-width="1.2"/>
<text transform="translate(692.7,638.7) rotate(-90) scale(0.85,1)" font-size="9.2" text-anchor="middle" fill="#111" stroke="#111" stroke-width="0.25">4000</text>
<line x1="693.8" y1="678" x2="698.2" y2="678" stroke="#333" stroke-width="1.2"/>
<text transform="translate(692.7,678) rotate(-90) scale(0.85,1)" font-size="9.2" text-anchor="middle" fill="#111" stroke="#111" stroke-width="0.25">3000</text>
<line x1="693.8" y1="717.3" x2="698.2" y2="717.3" stroke="#333" stroke-width="1.2"/>
<text transform="translate(692.7,717.3) rotate(-90) scale(0.85,1)" font-size="9.2" text-anchor="middle" fill="#111" stroke="#111" stroke-width="0.25">2000</text>
<line x1="693.8" y1="756.6" x2="698.2" y2="756.6" stroke="#333" stroke-width="1.2"/>
<text transform="translate(692.7,756.6) rotate(-90) scale(0.85,1)" font-size="9.2" text-anchor="middle" fill="#111" stroke="#111" stroke-width="0.25">1000</text>
<line x1="693.8" y1="795.2" x2="698.2" y2="795.2" stroke="#333" stroke-width="1.2"/>
<text transform="translate(692.7,795.2) rotate(-90) scale(0.85,1)" font-size="9.2" text-anchor="middle" fill="#111" stroke="#111" stroke-width="0.25">0</text>
<text x="1015.65" y="611.1" font-size="14.5" font-weight="bold" text-anchor="middle">bio13</text>
<line x1="916.8" y1="770.48" x2="1114.5" y2="770.48" stroke="#222" stroke-width="1.1" stroke-dasharray="1.5 1.6"/>
<line x1="1015.49" y1="630.95" x2="1015.49" y2="805.52" stroke="#d4d4d4" stroke-width="1"/>
<path d="M1015.49 710.18C1015.32 711.9 1015 717.27 1014.46 720.49C1013.92 723.71 1013.39 726.93 1012.27 729.51C1011.15 732.08 1009.8 733.8 1007.76 735.95C1005.72 738.1 1002.82 740.24 1000.03 742.39C997.24 744.54 993.48 746.69 991.01 748.83C988.54 750.98 985.64 753.34 985.21 755.27C984.78 757.21 987.25 758.71 988.43 760.43C989.62 762.15 991.44 763.86 992.3 765.58C993.16 767.3 993.7 768.8 993.59 770.73C993.48 772.67 993.16 775.03 991.66 777.18C990.15 779.32 987.47 781.9 984.57 783.62C981.67 785.34 978.56 786.19 974.26 787.48C969.97 788.77 961.92 790.27 958.8 791.35C955.69 792.42 954.29 793.07 955.58 793.92C956.87 794.78 961.49 795.64 966.53 796.5C971.58 797.36 978.99 798.22 985.86 799.08C992.73 799.94 1002.82 800.9 1007.76 801.65C1012.7 802.41 1014.2 803.26 1015.49 803.59Z" fill="#d9d9d9"/>
<path d="M1015.49 715.34C1015.81 716.62 1016.99 720.49 1017.42 723.07C1017.85 725.64 1017.31 728.22 1018.07 730.8C1018.82 733.37 1020.64 736.38 1021.93 738.53C1023.22 740.67 1024.72 741.96 1025.8 743.68C1026.87 745.4 1028.05 747.33 1028.37 748.83C1028.69 750.34 1027.3 751.41 1027.73 752.7C1028.16 753.99 1028.69 755.27 1030.95 756.56C1033.2 757.85 1038.25 759.14 1041.26 760.43C1044.26 761.72 1048.56 763 1048.99 764.29C1049.42 765.58 1044.69 767.08 1043.83 768.16C1042.97 769.23 1042.12 769.88 1043.83 770.73C1045.55 771.59 1048.77 772.24 1054.14 773.31C1059.51 774.38 1070.46 775.89 1076.04 777.18C1081.62 778.46 1085.92 779.97 1087.64 781.04C1089.35 782.11 1090.43 782.54 1086.35 783.62C1082.27 784.69 1069.81 786.19 1063.16 787.48C1056.5 788.77 1051.35 790.06 1046.41 791.35C1041.47 792.64 1037.39 793.92 1033.53 795.21C1029.66 796.5 1026.01 797.79 1023.22 799.08C1020.43 800.37 1018.07 801.87 1016.78 802.94C1015.49 804.02 1015.7 805.09 1015.49 805.52Z" fill="#7457c0"/>
<line x1="923.3" y1="770.48" x2="1015.49" y2="770.48" stroke="#000" stroke-width="1.8"/>
<line x1="1015.49" y1="774.99" x2="1108.5" y2="774.99" stroke="#000" stroke-width="1.8"/>
<rect x="915.8" y="623.5" width="199.7" height="189.6" fill="none" stroke="#404040" stroke-width="1.25"/>
<line x1="911.4" y1="624" x2="915.8" y2="624" stroke="#333" stroke-width="1.2"/>
<text transform="translate(910.3,624) rotate(-90) scale(0.85,1)" font-size="9.2" text-anchor="middle" fill="#111" stroke="#111" stroke-width="0.25">1000</text>
<line x1="911.4" y1="658" x2="915.8" y2="658" stroke="#333" stroke-width="1.2"/>
<text transform="translate(910.3,658) rotate(-90) scale(0.85,1)" font-size="9.2" text-anchor="middle" fill="#111" stroke="#111" stroke-width="0.25">800</text>
<line x1="911.4" y1="693.4" x2="915.8" y2="693.4" stroke="#333" stroke-width="1.2"/>
<text transform="translate(910.3,693.4) rotate(-90) scale(0.85,1)" font-size="9.2" text-anchor="middle" fill="#111" stroke="#111" stroke-width="0.25">600</text>
<line x1="911.4" y1="727.6" x2="915.8" y2="727.6" stroke="#333" stroke-width="1.2"/>
<text transform="translate(910.3,727.6) rotate(-90) scale(0.85,1)" font-size="9.2" text-anchor="middle" fill="#111" stroke="#111" stroke-width="0.25">400</text>
<line x1="911.4" y1="762.4" x2="915.8" y2="762.4" stroke="#333" stroke-width="1.2"/>
<text transform="translate(910.3,762.4) rotate(-90) scale(0.85,1)" font-size="9.2" text-anchor="middle" fill="#111" stroke="#111" stroke-width="0.25">200</text>
<line x1="911.4" y1="796.5" x2="915.8" y2="796.5" stroke="#333" stroke-width="1.2"/>
<text transform="translate(910.3,796.5) rotate(-90) scale(0.85,1)" font-size="9.2" text-anchor="middle" fill="#111" stroke="#111" stroke-width="0.25">0</text>
<text x="1233.25" y="611.1" font-size="14.5" font-weight="bold" text-anchor="middle">bio14</text>
<line x1="1134.4" y1="796.76" x2="1332.1" y2="796.76" stroke="#222" stroke-width="1.1" stroke-dasharray="1.5 1.6"/>
<line x1="1233.13" y1="629.66" x2="1233.13" y2="806.16" stroke="#d4d4d4" stroke-width="1"/>
<path d="M1233.13 787.48C1232.92 788.34 1232.38 791.13 1231.85 792.64C1231.31 794.14 1237.96 795.32 1229.91 796.5C1221.86 797.68 1195.24 798.86 1183.53 799.72C1171.83 800.58 1159.7 801.12 1159.7 801.65C1159.7 802.19 1173.12 802.41 1183.53 802.94C1193.95 803.48 1213.92 804.34 1222.18 804.88C1230.45 805.41 1231.31 805.95 1233.13 806.16Z" fill="#d9d9d9"/>
<path d="M1233.13 738.53C1233.35 739.81 1233.99 743.46 1234.42 746.26C1234.85 749.05 1235.71 752.7 1235.71 755.27C1235.71 757.85 1234.42 759.57 1234.42 761.72C1234.42 763.86 1235.6 766.01 1235.71 768.16C1235.82 770.3 1235.07 772.45 1235.07 774.6C1235.07 776.75 1235.54 778.89 1235.71 781.04C1235.88 783.19 1235.99 785.55 1236.1 787.48C1236.2 789.42 1235.67 791.13 1236.35 792.64C1237.04 794.14 1238.29 795.53 1240.22 796.5C1242.15 797.47 1242.37 797.79 1247.95 798.43C1253.53 799.08 1266.2 799.83 1273.72 800.37C1281.23 800.9 1293.04 801.22 1293.04 801.65C1293.04 802.08 1281.23 802.51 1273.72 802.94C1266.2 803.37 1254.71 803.69 1247.95 804.23C1241.19 804.77 1235.6 805.84 1233.13 806.16Z" fill="#7457c0"/>
<line x1="1140.9" y1="796.76" x2="1233.13" y2="796.76" stroke="#000" stroke-width="1.8"/>
<line x1="1233.13" y1="793.92" x2="1326.1" y2="793.92" stroke="#000" stroke-width="1.8"/>
<rect x="1133.4" y="623.5" width="199.7" height="189.6" fill="none" stroke="#404040" stroke-width="1.25"/>
<line x1="1129" y1="627.7" x2="1133.4" y2="627.7" stroke="#333" stroke-width="1.2"/>
<text transform="translate(1127.9,627.7) rotate(-90) scale(0.85,1)" font-size="9.2" text-anchor="middle" fill="#111" stroke="#111" stroke-width="0.25">150</text>
<line x1="1129" y1="685.7" x2="1133.4" y2="685.7" stroke="#333" stroke-width="1.2"/>
<text transform="translate(1127.9,685.7) rotate(-90) scale(0.85,1)" font-size="9.2" text-anchor="middle" fill="#111" stroke="#111" stroke-width="0.25">100</text>
<line x1="1129" y1="743.7" x2="1133.4" y2="743.7" stroke="#333" stroke-width="1.2"/>
<text transform="translate(1127.9,743.7) rotate(-90) scale(0.85,1)" font-size="9.2" text-anchor="middle" fill="#111" stroke="#111" stroke-width="0.25">50</text>
<line x1="1129" y1="801.7" x2="1133.4" y2="801.7" stroke="#333" stroke-width="1.2"/>
<text transform="translate(1127.9,801.7) rotate(-90) scale(0.85,1)" font-size="9.2" text-anchor="middle" fill="#111" stroke="#111" stroke-width="0.25">0</text>
<text x="580.45" y="845.9" font-size="14.5" font-weight="bold" text-anchor="middle">bio15</text>
<line x1="481.6" y1="986.15" x2="679.3" y2="986.15" stroke="#222" stroke-width="1.1" stroke-dasharray="1.5 1.6"/>
<line x1="580.23" y1="864.66" x2="580.23" y2="1041.16" stroke="#d4d4d4" stroke-width="1"/>
<path d="M580.23 927.15C580.06 928.43 579.7 932.3 579.2 934.88C578.71 937.45 578.34 940.03 577.27 942.61C576.2 945.18 575.01 947.76 572.76 950.34C570.51 952.91 566.75 955.7 563.74 958.07C560.74 960.43 557.3 962.58 554.72 964.51C552.15 966.44 549.78 967.94 548.28 969.66C546.78 971.38 547.42 973.1 545.7 974.81C543.99 976.53 539.91 978.46 537.97 979.97C536.04 981.47 536.04 982.33 534.11 983.83C532.18 985.34 528.2 987.27 526.38 988.99C524.55 990.7 523.37 992.64 523.16 994.14C522.94 995.64 523.27 996.5 525.09 998C526.92 999.51 530.46 1001.23 534.11 1003.16C537.76 1005.09 542.48 1007.45 546.99 1009.6C551.5 1011.75 556.66 1013.89 561.16 1016.04C565.67 1018.19 570.87 1020.76 574.05 1022.48C577.23 1024.2 579.2 1025.7 580.23 1026.35Z" fill="#d9d9d9"/>
<path d="M580.23 915.55C580.38 917.27 580.88 921.99 581.13 925.86C581.39 929.72 581.56 934.45 581.78 938.74C581.99 943.04 581.89 947.33 582.42 951.62C582.96 955.92 584.03 961.29 585 964.51C585.96 967.73 586.39 969.02 588.22 970.95C590.04 972.88 591.44 974.6 595.95 976.1C600.46 977.61 608.83 978.68 615.27 979.97C621.72 981.26 628.8 982.76 634.6 983.83C640.4 984.91 647.05 985.34 650.06 986.41C653.07 987.48 651.99 988.99 652.64 990.27C653.28 991.56 654.78 992.85 653.92 994.14C653.07 995.43 649.63 996.72 647.48 998C645.34 999.29 641.04 1000.58 641.04 1001.87C641.04 1003.16 646.41 1004.66 647.48 1005.73C648.56 1006.81 649.63 1007.45 647.48 1008.31C645.34 1009.17 641.04 1009.81 634.6 1010.89C628.16 1011.96 614.84 1013.46 608.83 1014.75C602.82 1016.04 599.49 1017.33 598.53 1018.62C597.56 1019.91 603.46 1021.19 603.04 1022.48C602.61 1023.77 598.85 1025.06 595.95 1026.35C593.05 1027.64 588.11 1028.92 585.64 1030.21C583.17 1031.5 582.04 1033 581.13 1034.08C580.23 1035.15 580.38 1036.22 580.23 1036.65Z" fill="#7457c0"/>
<line x1="488.1" y1="986.15" x2="580.23" y2="986.15" stroke="#000" stroke-width="1.8"/>
<line x1="580.23" y1="997.75" x2="673.3" y2="997.75" stroke="#000" stroke-width="1.8"/>
<rect x="480.6" y="858.3" width="199.7" height="189.6" fill="none" stroke="#404040" stroke-width="1.25"/>
<line x1="476.2" y1="894.9" x2="480.6" y2="894.9" stroke="#333" stroke-width="1.2"/>
<text transform="translate(475.1,894.9) rotate(-90) scale(0.85,1)" font-size="9.2" text-anchor="middle" fill="#111" stroke="#111" stroke-width="0.25">3</text>
<line x1="476.2" y1="942" x2="480.6" y2="942" stroke="#333" stroke-width="1.2"/>
<text transform="translate(475.1,942) rotate(-90) scale(0.85,1)" font-size="9.2" text-anchor="middle" fill="#111" stroke="#111" stroke-width="0.25">2</text>
<line x1="476.2" y1="989" x2="480.6" y2="989" stroke="#333" stroke-width="1.2"/>
<text transform="translate(475.1,989) rotate(-90) scale(0.85,1)" font-size="9.2" text-anchor="middle" fill="#111" stroke="#111" stroke-width="0.25">1</text>
<line x1="476.2" y1="1036" x2="480.6" y2="1036" stroke="#333" stroke-width="1.2"/>
<text transform="translate(475.1,1036) rotate(-90) scale(0.85,1)" font-size="9.2" text-anchor="middle" fill="#111" stroke="#111" stroke-width="0.25">0</text>
<text x="798.05" y="845.9" font-size="14.5" font-weight="bold" text-anchor="middle">bio16</text>
<line x1="699.2" y1="1004.19" x2="896.9" y2="1004.19" stroke="#222" stroke-width="1.1" stroke-dasharray="1.5 1.6"/>
<line x1="797.88" y1="864.66" x2="797.88" y2="1041.16" stroke="#d4d4d4" stroke-width="1"/>
<path d="M797.88 942.61C797.7 944.11 797.55 948.62 796.85 951.62C796.14 954.63 795.23 957.85 793.62 960.64C792.01 963.43 789.76 965.8 787.18 968.37C784.61 970.95 780.63 973.74 778.16 976.1C775.7 978.46 773.44 980.61 772.37 982.54C771.29 984.48 771.19 985.77 771.72 987.7C772.26 989.63 774.3 992.21 775.59 994.14C776.88 996.07 778.59 997.57 779.45 999.29C780.31 1001.01 781.17 1002.51 780.74 1004.45C780.31 1006.38 778.81 1008.74 776.88 1010.89C774.94 1013.03 773.01 1015.4 769.15 1017.33C765.28 1019.26 758.63 1020.98 753.69 1022.48C748.75 1023.99 742.31 1025.38 739.51 1026.35C736.72 1027.31 735.01 1027.53 736.94 1028.28C738.87 1029.03 744.88 1030 751.11 1030.86C757.34 1031.72 767.43 1032.57 774.3 1033.43C781.17 1034.29 788.41 1035.26 792.34 1036.01C796.27 1036.76 796.95 1037.62 797.88 1037.94Z" fill="#d9d9d9"/>
<path d="M797.88 937.45C798.13 938.74 799.16 942.18 799.42 945.18C799.68 948.19 799.31 952.27 799.42 955.49C799.53 958.71 799.1 961.93 800.07 964.51C801.03 967.08 803.61 969.02 805.22 970.95C806.83 972.88 808.87 974.39 809.73 976.1C810.59 977.82 810.27 979.54 810.37 981.26C810.48 982.97 809.73 984.91 810.37 986.41C811.02 987.91 812.09 988.99 814.24 990.27C816.39 991.56 820.25 992.85 823.26 994.14C826.26 995.43 831.63 996.72 832.27 998C832.92 999.29 827.98 1000.69 827.12 1001.87C826.26 1003.05 825.19 1004.02 827.12 1005.09C829.05 1006.16 833.56 1007.13 838.72 1008.31C843.87 1009.49 852.57 1010.89 858.04 1012.18C863.52 1013.46 869.85 1014.97 871.57 1016.04C873.29 1017.11 872.75 1017.54 868.35 1018.62C863.95 1019.69 852.24 1021.19 845.16 1022.48C838.07 1023.77 831.2 1025.06 825.83 1026.35C820.46 1027.64 816.6 1028.92 812.95 1030.21C809.3 1031.5 806.29 1032.79 803.93 1034.08C801.57 1035.37 799.79 1036.87 798.78 1037.94C797.77 1039.02 798.03 1040.09 797.88 1040.52Z" fill="#7457c0"/>
<line x1="705.7" y1="1004.19" x2="797.88" y2="1004.19" stroke="#000" stroke-width="1.8"/>
<line x1="797.88" y1="1008.31" x2="890.9" y2="1008.31" stroke="#000" stroke-width="1.8"/>
<rect x="698.2" y="858.3" width="199.7" height="189.6" fill="none" stroke="#404040" stroke-width="1.25"/>
<line x1="693.8" y1="887.2" x2="698.2" y2="887.2" stroke="#333" stroke-width="1.2"/>
<text transform="translate(692.7,887.2) rotate(-90) scale(0.85,1)" font-size="9.2" text-anchor="middle" fill="#111" stroke="#111" stroke-width="0.25">2000</text>
<line x1="693.8" y1="923.3" x2="698.2" y2="923.3" stroke="#333" stroke-width="1.2"/>
<text transform="translate(692.7,923.3) rotate(-90) scale(0.85,1)" font-size="9.2" text-anchor="middle" fill="#111" stroke="#111" stroke-width="0.25">1500</text>
<line x1="693.8" y1="958.7" x2="698.2" y2="958.7" stroke="#333" stroke-width="1.2"/>
<text transform="translate(692.7,958.7) rotate(-90) scale(0.85,1)" font-size="9.2" text-anchor="middle" fill="#111" stroke="#111" stroke-width="0.25">1000</text>
<line x1="693.8" y1="994.8" x2="698.2" y2="994.8" stroke="#333" stroke-width="1.2"/>
<text transform="translate(692.7,994.8) rotate(-90) scale(0.85,1)" font-size="9.2" text-anchor="middle" fill="#111" stroke="#111" stroke-width="0.25">500</text>
<line x1="693.8" y1="1030.2" x2="698.2" y2="1030.2" stroke="#333" stroke-width="1.2"/>
<text transform="translate(692.7,1030.2) rotate(-90) scale(0.85,1)" font-size="9.2" text-anchor="middle" fill="#111" stroke="#111" stroke-width="0.25">0</text>
<text x="1015.65" y="845.9" font-size="14.5" font-weight="bold" text-anchor="middle">bio17</text>
<line x1="916.8" y1="1026.35" x2="1114.5" y2="1026.35" stroke="#222" stroke-width="1.1" stroke-dasharray="1.5 1.6"/>
<line x1="1015.49" y1="864.66" x2="1015.49" y2="1041.16" stroke="#d4d4d4" stroke-width="1"/>
<path d="M1015.49 996.72C1015.32 998.86 1015 1006.16 1014.46 1009.6C1013.92 1013.03 1013.6 1015.18 1012.27 1017.33C1010.94 1019.48 1007.87 1021.19 1006.47 1022.48C1005.08 1023.77 1008.4 1023.99 1003.89 1025.06C999.39 1026.13 987.79 1027.85 979.42 1028.92C971.04 1030 959.98 1030.75 953.65 1031.5C947.32 1032.25 940.34 1032.79 941.41 1033.43C942.48 1034.08 950.54 1034.61 960.09 1035.37C969.65 1036.12 989.51 1037.19 998.74 1037.94C1007.97 1038.69 1012.7 1039.55 1015.49 1039.88Z" fill="#d9d9d9"/>
<path d="M1015.49 964.51C1015.81 966.66 1016.89 973.74 1017.42 977.39C1017.96 981.04 1018.28 983.83 1018.71 986.41C1019.14 988.99 1019.57 991.13 1020 992.85C1020.43 994.57 1021.18 995.43 1021.29 996.72C1021.39 998 1020.54 999.08 1020.64 1000.58C1020.75 1002.08 1022.15 1004.23 1021.93 1005.73C1021.72 1007.24 1019.35 1008.1 1019.35 1009.6C1019.35 1011.1 1020.86 1013.03 1021.93 1014.75C1023 1016.47 1024.51 1018.4 1025.8 1019.91C1027.08 1021.41 1027.51 1022.48 1029.66 1023.77C1031.81 1025.06 1034.6 1026.56 1038.68 1027.64C1042.76 1028.71 1048.88 1029.35 1054.14 1030.21C1059.4 1031.07 1069.81 1032.04 1070.24 1032.79C1070.67 1033.54 1063.27 1034.08 1056.72 1034.72C1050.17 1035.37 1037.39 1035.9 1030.95 1036.65C1024.51 1037.41 1020.64 1038.59 1018.07 1039.23C1015.49 1039.88 1015.92 1040.3 1015.49 1040.52Z" fill="#7457c0"/>
<line x1="923.3" y1="1026.35" x2="1015.49" y2="1026.35" stroke="#000" stroke-width="1.8"/>
<line x1="1015.49" y1="1023.13" x2="1108.5" y2="1023.13" stroke="#000" stroke-width="1.8"/>
<rect x="915.8" y="858.3" width="199.7" height="189.6" fill="none" stroke="#404040" stroke-width="1.25"/>
<line x1="911.4" y1="871.7" x2="915.8" y2="871.7" stroke="#333" stroke-width="1.2"/>
<text transform="translate(910.3,871.7) rotate(-90) scale(0.85,1)" font-size="9.2" text-anchor="middle" fill="#111" stroke="#111" stroke-width="0.25">500</text>
<line x1="911.4" y1="904" x2="915.8" y2="904" stroke="#333" stroke-width="1.2"/>
<text transform="translate(910.3,904) rotate(-90) scale(0.85,1)" font-size="9.2" text-anchor="middle" fill="#111" stroke="#111" stroke-width="0.25">400</text>
<line x1="911.4" y1="936.8" x2="915.8" y2="936.8" stroke="#333" stroke-width="1.2"/>
<text transform="translate(910.3,936.8) rotate(-90) scale(0.85,1)" font-size="9.2" text-anchor="middle" fill="#111" stroke="#111" stroke-width="0.25">300</text>
<line x1="911.4" y1="969" x2="915.8" y2="969" stroke="#333" stroke-width="1.2"/>
<text transform="translate(910.3,969) rotate(-90) scale(0.85,1)" font-size="9.2" text-anchor="middle" fill="#111" stroke="#111" stroke-width="0.25">200</text>
<line x1="911.4" y1="1001.2" x2="915.8" y2="1001.2" stroke="#333" stroke-width="1.2"/>
<text transform="translate(910.3,1001.2) rotate(-90) scale(0.85,1)" font-size="9.2" text-anchor="middle" fill="#111" stroke="#111" stroke-width="0.25">100</text>
<line x1="911.4" y1="1034.1" x2="915.8" y2="1034.1" stroke="#333" stroke-width="1.2"/>
<text transform="translate(910.3,1034.1) rotate(-90) scale(0.85,1)" font-size="9.2" text-anchor="middle" fill="#111" stroke="#111" stroke-width="0.25">0</text>
<text x="1233.25" y="845.9" font-size="14.5" font-weight="bold" text-anchor="middle">bio18</text>
<line x1="1134.4" y1="1010.5" x2="1332.1" y2="1010.5" stroke="#222" stroke-width="1.1" stroke-dasharray="1.5 1.6"/>
<line x1="1233.13" y1="864.66" x2="1233.13" y2="1041.16" stroke="#d4d4d4" stroke-width="1"/>
<path d="M1233.13 947.76C1232.92 949.48 1232.49 954.63 1231.85 958.07C1231.2 961.5 1230.23 964.94 1229.27 968.37C1228.3 971.81 1227.01 975.24 1226.05 978.68C1225.08 982.12 1224.33 985.98 1223.47 988.99C1222.61 991.99 1221.97 994.35 1220.89 996.72C1219.82 999.08 1218.53 1001.01 1217.03 1003.16C1215.53 1005.3 1213.81 1007.67 1211.88 1009.6C1209.94 1011.53 1208.44 1013.03 1205.43 1014.75C1202.43 1016.47 1198.35 1018.4 1193.84 1019.91C1189.33 1021.41 1182.57 1022.48 1178.38 1023.77C1174.19 1025.06 1168.93 1026.56 1168.72 1027.64C1168.5 1028.71 1171.4 1029.35 1177.09 1030.21C1182.78 1031.07 1195.34 1031.93 1202.86 1032.79C1210.37 1033.65 1217.14 1034.51 1222.18 1035.37C1227.23 1036.22 1231.31 1037.51 1233.13 1037.94Z" fill="#d9d9d9"/>
<path d="M1233.13 943.89C1233.24 945.83 1233.56 951.84 1233.78 955.49C1233.99 959.14 1233.56 962.79 1234.42 965.8C1235.28 968.8 1237.54 971.38 1238.93 973.53C1240.33 975.67 1241.62 977.18 1242.8 978.68C1243.98 980.18 1245.8 981.04 1246.02 982.54C1246.23 984.05 1244.19 985.98 1244.08 987.7C1243.98 989.42 1245.05 991.13 1245.37 992.85C1245.69 994.57 1244.94 996.29 1246.02 998C1247.09 999.72 1249.35 1001.65 1251.81 1003.16C1254.28 1004.66 1257.83 1005.73 1260.83 1007.02C1263.84 1008.31 1268.56 1009.6 1269.85 1010.89C1271.14 1012.18 1269.85 1013.46 1268.56 1014.75C1267.27 1016.04 1262.34 1017.54 1262.12 1018.62C1261.91 1019.69 1263.19 1020.12 1267.27 1021.19C1271.35 1022.27 1279.94 1023.88 1286.6 1025.06C1293.26 1026.24 1307.21 1027.21 1307.21 1028.28C1307.21 1029.35 1294.33 1030.53 1286.6 1031.5C1278.87 1032.47 1268.35 1033.22 1260.83 1034.08C1253.32 1034.94 1246.12 1035.69 1241.51 1036.65C1236.89 1037.62 1234.53 1039.34 1233.13 1039.88Z" fill="#7457c0"/>
<line x1="1140.9" y1="1010.5" x2="1233.13" y2="1010.5" stroke="#000" stroke-width="1.8"/>
<line x1="1233.13" y1="1014.75" x2="1326.1" y2="1014.75" stroke="#000" stroke-width="1.8"/>
<rect x="1133.4" y="858.3" width="199.7" height="189.6" fill="none" stroke="#404040" stroke-width="1.25"/>
<line x1="1129" y1="874.3" x2="1133.4" y2="874.3" stroke="#333" stroke-width="1.2"/>
<text transform="translate(1127.9,874.3) rotate(-90) scale(0.85,1)" font-size="9.2" text-anchor="middle" fill="#111" stroke="#111" stroke-width="0.25">1500</text>
<line x1="1129" y1="925.9" x2="1133.4" y2="925.9" stroke="#333" stroke-width="1.2"/>
<text transform="translate(1127.9,925.9) rotate(-90) scale(0.85,1)" font-size="9.2" text-anchor="middle" fill="#111" stroke="#111" stroke-width="0.25">1000</text>
<line x1="1129" y1="978" x2="1133.4" y2="978" stroke="#333" stroke-width="1.2"/>
<text transform="translate(1127.9,978) rotate(-90) scale(0.85,1)" font-size="9.2" text-anchor="middle" fill="#111" stroke="#111" stroke-width="0.25">500</text>
<line x1="1129" y1="1030.2" x2="1133.4" y2="1030.2" stroke="#333" stroke-width="1.2"/>
<text transform="translate(1127.9,1030.2) rotate(-90) scale(0.85,1)" font-size="9.2" text-anchor="middle" fill="#111" stroke="#111" stroke-width="0.25">0</text>
<text x="580.45" y="1080.7" font-size="14.5" font-weight="bold" text-anchor="middle">bio19</text>
<line x1="481.6" y1="1265.24" x2="679.3" y2="1265.24" stroke="#222" stroke-width="1.1" stroke-dasharray="1.5 1.6"/>
<line x1="580.23" y1="1099.95" x2="580.23" y2="1275.16" stroke="#d4d4d4" stroke-width="1"/>
<path d="M580.23 1237.16C580.06 1239.3 579.7 1246.61 579.2 1250.04C578.71 1253.48 578.34 1255.84 577.27 1257.77C576.2 1259.7 575.01 1260.56 572.76 1261.64C570.51 1262.71 569.54 1263.25 563.74 1264.21C557.94 1265.18 547.53 1266.47 537.97 1267.43C528.42 1268.4 506.41 1269.26 506.41 1270.01C506.41 1270.76 527.35 1271.3 537.97 1271.94C548.6 1272.59 563.14 1273.34 570.18 1273.88C577.23 1274.41 578.56 1274.95 580.23 1275.16Z" fill="#d9d9d9"/>
<path d="M580.23 1181.76C580.38 1183.48 580.98 1188.2 581.13 1192.07C581.28 1195.93 581.13 1200.66 581.13 1204.95C581.13 1209.24 581.03 1213.54 581.13 1217.83C581.24 1222.13 581.46 1227.5 581.78 1230.72C582.1 1233.94 582.64 1235.01 583.07 1237.16C583.5 1239.3 583.93 1241.67 584.35 1243.6C584.78 1245.53 584.57 1247.03 585.64 1248.75C586.72 1250.47 589.08 1252.4 590.8 1253.91C592.51 1255.41 594.23 1256.59 595.95 1257.77C597.67 1258.95 600.03 1259.92 601.1 1260.99C602.18 1262.07 601.1 1263.25 602.39 1264.21C603.68 1265.18 606.58 1265.97 608.83 1266.79C611.09 1267.61 616.99 1268.36 615.92 1269.11C614.84 1269.86 607.44 1270.61 602.39 1271.3C597.35 1271.99 589.34 1272.59 585.64 1273.23C581.95 1273.88 581.13 1274.84 580.23 1275.16Z" fill="#7457c0"/>
<line x1="488.1" y1="1265.24" x2="580.23" y2="1265.24" stroke="#000" stroke-width="1.8"/>
<line x1="580.23" y1="1261.38" x2="673.3" y2="1261.38" stroke="#000" stroke-width="1.8"/>
<rect x="480.6" y="1093.1" width="199.7" height="189.6" fill="none" stroke="#404040" stroke-width="1.25"/>
<line x1="476.2" y1="1116.7" x2="480.6" y2="1116.7" stroke="#333" stroke-width="1.2"/>
<text transform="translate(475.1,1116.7) rotate(-90) scale(0.85,1)" font-size="9.2" text-anchor="middle" fill="#111" stroke="#111" stroke-width="0.25">2000</text>
<line x1="476.2" y1="1155.3" x2="480.6" y2="1155.3" stroke="#333" stroke-width="1.2"/>
<text transform="translate(475.1,1155.3) rotate(-90) scale(0.85,1)" font-size="9.2" text-anchor="middle" fill="#111" stroke="#111" stroke-width="0.25">1500</text>
<line x1="476.2" y1="1194" x2="480.6" y2="1194" stroke="#333" stroke-width="1.2"/>
<text transform="translate(475.1,1194) rotate(-90) scale(0.85,1)" font-size="9.2" text-anchor="middle" fill="#111" stroke="#111" stroke-width="0.25">1000</text>
<line x1="476.2" y1="1232" x2="480.6" y2="1232" stroke="#333" stroke-width="1.2"/>
<text transform="translate(475.1,1232) rotate(-90) scale(0.85,1)" font-size="9.2" text-anchor="middle" fill="#111" stroke="#111" stroke-width="0.25">500</text>
<line x1="476.2" y1="1270.7" x2="480.6" y2="1270.7" stroke="#333" stroke-width="1.2"/>
<text transform="translate(475.1,1270.7) rotate(-90) scale(0.85,1)" font-size="9.2" text-anchor="middle" fill="#111" stroke="#111" stroke-width="0.25">0</text>
<text x="798.05" y="1080.7" font-size="14.5" font-weight="bold" text-anchor="middle">lai</text>
<line x1="699.2" y1="1212.04" x2="896.9" y2="1212.04" stroke="#222" stroke-width="1.1" stroke-dasharray="1.5 1.6"/>
<line x1="797.88" y1="1099.95" x2="797.88" y2="1274.52" stroke="#d4d4d4" stroke-width="1"/>
<path d="M797.88 1131.51C797.38 1132.59 796.7 1135.81 794.91 1137.96C793.13 1140.1 790.19 1142.25 787.18 1144.4C784.18 1146.55 780.31 1148.69 776.88 1150.84C773.44 1152.99 769.79 1155.13 766.57 1157.28C763.35 1159.43 760.02 1161.79 757.55 1163.72C755.08 1165.66 752.4 1167.37 751.75 1168.88C751.11 1170.38 751.43 1171.45 753.69 1172.74C755.94 1174.03 760.77 1175.1 765.28 1176.61C769.79 1178.11 777.09 1180.04 780.74 1181.76C784.39 1183.48 785.79 1184.77 787.18 1186.91C788.58 1189.06 789.01 1192.07 789.12 1194.64C789.22 1197.22 788.15 1199.8 787.83 1202.37C787.51 1204.95 787.18 1207.53 787.18 1210.1C787.18 1212.68 788.26 1215.47 787.83 1217.83C787.4 1220.19 786.86 1222.13 784.61 1224.27C782.35 1226.42 778.59 1228.57 774.3 1230.72C770.01 1232.86 764.21 1235.01 758.84 1237.16C753.47 1239.3 747.24 1241.45 742.09 1243.6C736.94 1245.75 730.82 1248.32 727.92 1250.04C725.02 1251.76 723.41 1252.62 724.7 1253.91C725.99 1255.19 729.96 1256.48 735.65 1257.77C741.34 1259.06 751.32 1260.35 758.84 1261.64C766.35 1262.92 774.73 1264.21 780.74 1265.5C786.75 1266.79 792.06 1268.29 794.91 1269.37C797.77 1270.44 797.38 1271.51 797.88 1271.94Z" fill="#d9d9d9"/>
<path d="M797.88 1127.65C798.13 1128.94 798.63 1132.8 799.42 1135.38C800.22 1137.96 800.82 1140.75 802.64 1143.11C804.47 1145.47 808.44 1147.4 810.37 1149.55C812.31 1151.7 814.24 1154.06 814.24 1155.99C814.24 1157.93 811.55 1159.43 810.37 1161.15C809.19 1162.86 807.8 1164.37 807.15 1166.3C806.51 1168.23 806.94 1170.59 806.51 1172.74C806.08 1174.89 804.36 1177.04 804.58 1179.18C804.79 1181.33 805.97 1183.48 807.8 1185.62C809.62 1187.77 812.95 1189.92 815.53 1192.07C818.1 1194.21 820.25 1196.36 823.26 1198.51C826.26 1200.66 829.91 1203.02 833.56 1204.95C837.21 1206.88 841.94 1208.6 845.16 1210.1C848.38 1211.61 851.81 1212.68 852.89 1213.97C853.96 1215.26 852.46 1216.54 851.6 1217.83C850.74 1219.12 848.81 1220.41 847.73 1221.7C846.66 1222.99 844.94 1224.06 845.16 1225.56C845.37 1227.07 848.16 1229 849.02 1230.72C849.88 1232.43 851.38 1234.15 850.31 1235.87C849.24 1237.59 845.37 1239.09 842.58 1241.02C839.79 1242.96 837 1245.32 833.56 1247.46C830.13 1249.61 825.83 1251.76 821.97 1253.91C818.1 1256.05 813.81 1258.42 810.37 1260.35C806.94 1262.28 803.29 1264 801.35 1265.5C799.42 1267 799.36 1268.08 798.78 1269.37C798.2 1270.65 798.03 1272.59 797.88 1273.23Z" fill="#7457c0"/>
<line x1="705.7" y1="1212.04" x2="797.88" y2="1212.04" stroke="#000" stroke-width="1.8"/>
<line x1="797.88" y1="1217.83" x2="890.9" y2="1217.83" stroke="#000" stroke-width="1.8"/>
<rect x="698.2" y="1093.1" width="199.7" height="189.6" fill="none" stroke="#404040" stroke-width="1.25"/>
<line x1="693.8" y1="1130.2" x2="698.2" y2="1130.2" stroke="#333" stroke-width="1.2"/>
<text transform="translate(692.7,1130.2) rotate(-90) scale(0.85,1)" font-size="9.2" text-anchor="middle" fill="#111" stroke="#111" stroke-width="0.25">600</text>
<line x1="693.8" y1="1172.7" x2="698.2" y2="1172.7" stroke="#333" stroke-width="1.2"/>
<text transform="translate(692.7,1172.7) rotate(-90) scale(0.85,1)" font-size="9.2" text-anchor="middle" fill="#111" stroke="#111" stroke-width="0.25">400</text>
<line x1="693.8" y1="1215.9" x2="698.2" y2="1215.9" stroke="#333" stroke-width="1.2"/>
<text transform="translate(692.7,1215.9) rotate(-90) scale(0.85,1)" font-size="9.2" text-anchor="middle" fill="#111" stroke="#111" stroke-width="0.25">200</text>
<line x1="693.8" y1="1258.4" x2="698.2" y2="1258.4" stroke="#333" stroke-width="1.2"/>
<text transform="translate(692.7,1258.4) rotate(-90) scale(0.85,1)" font-size="9.2" text-anchor="middle" fill="#111" stroke="#111" stroke-width="0.25">0</text>
<text x="1015.65" y="1080.7" font-size="14.5" font-weight="bold" text-anchor="middle">npp</text>
<line x1="916.8" y1="1228.4" x2="1114.5" y2="1228.4" stroke="#222" stroke-width="1.1" stroke-dasharray="1.5 1.6"/>
<line x1="1015.49" y1="1099.95" x2="1015.49" y2="1274.52" stroke="#d4d4d4" stroke-width="1"/>
<path d="M1015.49 1146.97C1015.38 1149.12 1015.27 1156.21 1014.85 1159.86C1014.42 1163.51 1014.09 1166.08 1012.91 1168.88C1011.73 1171.67 1010.12 1174.03 1007.76 1176.61C1005.4 1179.18 1001.75 1181.76 998.74 1184.34C995.74 1186.91 992.19 1189.7 989.72 1192.07C987.25 1194.43 985.21 1196.36 983.93 1198.51C982.64 1200.66 981.78 1202.8 981.99 1204.95C982.21 1207.1 983.5 1209.24 985.21 1211.39C986.93 1213.54 990.05 1215.9 992.3 1217.83C994.55 1219.77 997.24 1221.48 998.74 1222.99C1000.24 1224.49 1000.67 1225.56 1001.32 1226.85C1001.96 1228.14 1003.68 1229.21 1002.61 1230.72C1001.53 1232.22 998.31 1234.15 994.88 1235.87C991.44 1237.59 986.72 1239.3 981.99 1241.02C977.27 1242.74 971.47 1244.46 966.53 1246.18C961.59 1247.89 956.44 1249.61 952.36 1251.33C948.28 1253.05 943.13 1255.19 942.05 1256.48C940.98 1257.77 941.41 1257.99 945.92 1259.06C950.43 1260.13 960.95 1261.64 969.11 1262.92C977.27 1264.21 987.15 1265.5 994.88 1266.79C1002.61 1268.08 1012.05 1270.01 1015.49 1270.65Z" fill="#d9d9d9"/>
<path d="M1015.49 1168.88C1015.81 1170.16 1016.56 1174.03 1017.42 1176.61C1018.28 1179.18 1019.46 1181.97 1020.64 1184.34C1021.82 1186.7 1022.79 1188.85 1024.51 1190.78C1026.23 1192.71 1028.59 1194.21 1030.95 1195.93C1033.31 1197.65 1036.64 1199.37 1038.68 1201.08C1040.72 1202.8 1041.9 1204.52 1043.19 1206.24C1044.48 1207.96 1045.55 1209.67 1046.41 1211.39C1047.27 1213.11 1048.77 1214.83 1048.34 1216.54C1047.91 1218.26 1044.58 1220.19 1043.83 1221.7C1043.08 1223.2 1042.76 1224.27 1043.83 1225.56C1044.91 1226.85 1048.13 1228.14 1050.27 1229.43C1052.42 1230.72 1055.32 1232 1056.72 1233.29C1058.11 1234.58 1058.22 1235.87 1058.65 1237.16C1059.08 1238.45 1058.11 1239.73 1059.29 1241.02C1060.47 1242.31 1062.73 1243.6 1065.73 1244.89C1068.74 1246.18 1074 1247.46 1077.33 1248.75C1080.66 1250.04 1085.7 1251.33 1085.7 1252.62C1085.7 1253.91 1082.16 1255.19 1077.33 1256.48C1072.5 1257.77 1063.37 1259.06 1056.72 1260.35C1050.06 1261.64 1043.4 1262.92 1037.39 1264.21C1031.38 1265.5 1024.29 1266.79 1020.64 1268.08C1016.99 1269.37 1016.35 1271.3 1015.49 1271.94Z" fill="#7457c0"/>
<line x1="923.3" y1="1228.4" x2="1015.49" y2="1228.4" stroke="#000" stroke-width="1.8"/>
<line x1="1015.49" y1="1234.19" x2="1108.5" y2="1234.19" stroke="#000" stroke-width="1.8"/>
<rect x="915.8" y="1093.1" width="199.7" height="189.6" fill="none" stroke="#404040" stroke-width="1.25"/>
<line x1="911.4" y1="1092.6" x2="915.8" y2="1092.6" stroke="#333" stroke-width="1.2"/>
<text transform="translate(910.3,1092.6) rotate(-90) scale(0.85,1)" font-size="9.2" text-anchor="middle" fill="#111" stroke="#111" stroke-width="0.25">2500</text>
<line x1="911.4" y1="1126.4" x2="915.8" y2="1126.4" stroke="#333" stroke-width="1.2"/>
<text transform="translate(910.3,1126.4) rotate(-90) scale(0.85,1)" font-size="9.2" text-anchor="middle" fill="#111" stroke="#111" stroke-width="0.25">2000</text>
<line x1="911.4" y1="1160.5" x2="915.8" y2="1160.5" stroke="#333" stroke-width="1.2"/>
<text transform="translate(910.3,1160.5) rotate(-90) scale(0.85,1)" font-size="9.2" text-anchor="middle" fill="#111" stroke="#111" stroke-width="0.25">1500</text>
<line x1="911.4" y1="1194" x2="915.8" y2="1194" stroke="#333" stroke-width="1.2"/>
<text transform="translate(910.3,1194) rotate(-90) scale(0.85,1)" font-size="9.2" text-anchor="middle" fill="#111" stroke="#111" stroke-width="0.25">1000</text>
<line x1="911.4" y1="1228.1" x2="915.8" y2="1228.1" stroke="#333" stroke-width="1.2"/>
<text transform="translate(910.3,1228.1) rotate(-90) scale(0.85,1)" font-size="9.2" text-anchor="middle" fill="#111" stroke="#111" stroke-width="0.25">500</text>
<line x1="911.4" y1="1261.6" x2="915.8" y2="1261.6" stroke="#333" stroke-width="1.2"/>
<text transform="translate(910.3,1261.6) rotate(-90) scale(0.85,1)" font-size="9.2" text-anchor="middle" fill="#111" stroke="#111" stroke-width="0.25">0</text>
<text x="1233.25" y="1080.7" font-size="14.5" font-weight="bold" text-anchor="middle">rugosity</text>
<line x1="1134.4" y1="1256.22" x2="1332.1" y2="1256.22" stroke="#222" stroke-width="1.1" stroke-dasharray="1.5 1.6"/>
<line x1="1233.13" y1="1099.95" x2="1233.13" y2="1274.52" stroke="#d4d4d4" stroke-width="1"/>
<path d="M1233.13 1204.95C1232.98 1207.1 1232.55 1213.97 1232.23 1217.83C1231.91 1221.7 1231.7 1224.92 1231.2 1228.14C1230.71 1231.36 1230.02 1234.58 1229.27 1237.16C1228.52 1239.73 1227.87 1241.67 1226.69 1243.6C1225.51 1245.53 1224.22 1247.25 1222.18 1248.75C1220.14 1250.26 1216.6 1251.54 1214.45 1252.62C1212.31 1253.69 1213.38 1254.12 1209.3 1255.19C1205.22 1256.27 1197.06 1257.88 1189.97 1259.06C1182.89 1260.24 1171.83 1261.46 1166.78 1262.28C1161.74 1263.1 1157.98 1263.31 1159.7 1263.95C1161.42 1264.6 1168.82 1265.35 1177.09 1266.15C1185.36 1266.94 1200.5 1267.86 1209.3 1268.72C1218.1 1269.58 1225.94 1270.65 1229.91 1271.3C1233.89 1271.94 1232.6 1272.37 1233.13 1272.59Z" fill="#d9d9d9"/>
<path d="M1233.13 1194.64C1233.35 1195.93 1234.1 1200.01 1234.42 1202.37C1234.74 1204.73 1235.17 1207.1 1235.07 1208.81C1234.96 1210.53 1233.13 1211.39 1233.78 1212.68C1234.42 1213.97 1236.78 1215.47 1238.93 1216.54C1241.08 1217.62 1244.08 1218.26 1246.66 1219.12C1249.24 1219.98 1252.78 1220.84 1254.39 1221.7C1256 1222.56 1256.32 1223.42 1256.32 1224.27C1256.32 1225.13 1254.61 1225.99 1254.39 1226.85C1254.18 1227.71 1255.46 1228.57 1255.04 1229.43C1254.61 1230.29 1252.78 1231.15 1251.81 1232C1250.85 1232.86 1249.02 1233.72 1249.24 1234.58C1249.45 1235.44 1251.6 1236.3 1253.1 1237.16C1254.61 1238.02 1256.54 1238.88 1258.26 1239.73C1259.97 1240.59 1263.19 1241.45 1263.41 1242.31C1263.62 1243.17 1261.05 1244.03 1259.54 1244.89C1258.04 1245.75 1254.82 1246.61 1254.39 1247.46C1253.96 1248.32 1255.89 1249.07 1256.97 1250.04C1258.04 1251.01 1261.05 1252.19 1260.83 1253.26C1260.62 1254.34 1258.26 1255.3 1255.68 1256.48C1253.1 1257.66 1247.73 1259.06 1245.37 1260.35C1243.01 1261.64 1242.8 1263.03 1241.51 1264.21C1240.22 1265.39 1238.93 1266.36 1237.64 1267.43C1236.35 1268.51 1234.53 1269.69 1233.78 1270.65C1233.03 1271.62 1233.24 1272.8 1233.13 1273.23Z" fill="#7457c0"/>
<line x1="1140.9" y1="1256.22" x2="1233.13" y2="1256.22" stroke="#000" stroke-width="1.8"/>
<line x1="1233.13" y1="1240.77" x2="1326.1" y2="1240.77" stroke="#000" stroke-width="1.8"/>
<rect x="1133.4" y="1093.1" width="199.7" height="189.6" fill="none" stroke="#404040" stroke-width="1.25"/>
<line x1="1129" y1="1093.5" x2="1133.4" y2="1093.5" stroke="#333" stroke-width="1.2"/>
<text transform="translate(1127.9,1093.5) rotate(-90) scale(0.85,1)" font-size="9.2" text-anchor="middle" fill="#111" stroke="#111" stroke-width="0.25">1200</text>
<line x1="1129" y1="1121.9" x2="1133.4" y2="1121.9" stroke="#333" stroke-width="1.2"/>
<text transform="translate(1127.9,1121.9) rotate(-90) scale(0.85,1)" font-size="9.2" text-anchor="middle" fill="#111" stroke="#111" stroke-width="0.25">1000</text>
<line x1="1129" y1="1151.5" x2="1133.4" y2="1151.5" stroke="#333" stroke-width="1.2"/>
<text transform="translate(1127.9,1151.5) rotate(-90) scale(0.85,1)" font-size="9.2" text-anchor="middle" fill="#111" stroke="#111" stroke-width="0.25">800</text>
<line x1="1129" y1="1180.5" x2="1133.4" y2="1180.5" stroke="#333" stroke-width="1.2"/>
<text transform="translate(1127.9,1180.5) rotate(-90) scale(0.85,1)" font-size="9.2" text-anchor="middle" fill="#111" stroke="#111" stroke-width="0.25">600</text>
<line x1="1129" y1="1209.5" x2="1133.4" y2="1209.5" stroke="#333" stroke-width="1.2"/>
<text transform="translate(1127.9,1209.5) rotate(-90) scale(0.85,1)" font-size="9.2" text-anchor="middle" fill="#111" stroke="#111" stroke-width="0.25">400</text>
<line x1="1129" y1="1238.4" x2="1133.4" y2="1238.4" stroke="#333" stroke-width="1.2"/>
<text transform="translate(1127.9,1238.4) rotate(-90) scale(0.85,1)" font-size="9.2" text-anchor="middle" fill="#111" stroke="#111" stroke-width="0.25">200</text>
<line x1="1129" y1="1267.4" x2="1133.4" y2="1267.4" stroke="#333" stroke-width="1.2"/>
<text transform="translate(1127.9,1267.4) rotate(-90) scale(0.85,1)" font-size="9.2" text-anchor="middle" fill="#111" stroke="#111" stroke-width="0.25">0</text>
<rect x="1224.5" y="1105.7" width="11.2" height="9.1" fill="#d9d9d9" stroke="#333" stroke-width="1"/>
<rect x="1224.5" y="1123.8" width="11.2" height="9.0" fill="#7457c0" stroke="#333" stroke-width="1"/>
<text transform="translate(1248.3,1115.4) scale(1,0.9)" font-size="15">background</text>
<text transform="translate(1248.0,1133.4) scale(1,0.9)" font-size="15">H.sapiens</text>
<rect x="1.5" y="1367.5" width="1796.1" height="1347" fill="none" stroke="#111" stroke-width="3"/>
<path d="M54.5 1417.4V2656.7M242.4 1417.4V2656.7M430.3 1417.4V2656.7M618.2 1417.4V2656.7M806.1 1417.4V2656.7M994 1417.4V2656.7M1181.9 1417.4V2656.7M1369.8 1417.4V2656.7M1557.7 1417.4V2656.7M1745.6 1417.4V2656.7M54.5 1417.4H1745.6M54.5 1555.1H1745.6M54.5 1692.8H1745.6M54.5 1830.5H1745.6M54.5 1968.2H1745.6M54.5 2105.9H1745.6M54.5 2243.6H1745.6M54.5 2381.3H1745.6M54.5 2519H1745.6M54.5 2656.7H1745.6M96.1 2656.7V2664.7M143.29 2656.7V2664.7M190.49 2656.7V2664.7M237.68 2656.7V2664.7M242.4 1417.4V1409.4M279.72 1417.4V1409.4M317.04 1417.4V1409.4M354.36 1417.4V1409.4M391.68 1417.4V1409.4M428.99 1417.4V1409.4M449.9 2656.7V2664.7M483.12 2656.7V2664.7M516.34 2656.7V2664.7M549.56 2656.7V2664.7M582.79 2656.7V2664.7M616.01 2656.7V2664.7M625 1417.4V1409.4M651.84 1417.4V1409.4M678.68 1417.4V1409.4M705.51 1417.4V1409.4M732.35 1417.4V1409.4M759.19 1417.4V1409.4M786.03 1417.4V1409.4M818 2656.7V2664.7M852.44 2656.7V2664.7M886.88 2656.7V2664.7M921.33 2656.7V2664.7M955.77 2656.7V2664.7M990.21 2656.7V2664.7M996.8 1417.4V1409.4M1032.93 1417.4V1409.4M1069.05 1417.4V1409.4M1105.17 1417.4V1409.4M1141.3 1417.4V1409.4M1177.42 1417.4V1409.4M1188 2656.7V2664.7M1226.35 2656.7V2664.7M1264.7 2656.7V2664.7M1303.05 2656.7V2664.7M1341.4 2656.7V2664.7M1376.1 1417.4V1409.4M1406.03 1417.4V1409.4M1435.97 1417.4V1409.4M1465.9 1417.4V1409.4M1495.83 1417.4V1409.4M1525.76 1417.4V1409.4M1555.69 1417.4V1409.4M1563 2656.7V2664.7M1596.15 2656.7V2664.7M1629.29 2656.7V2664.7M1662.44 2656.7V2664.7M1695.58 2656.7V2664.7M1728.73 2656.7V2664.7M1745.6 1524.62H1753.6M1745.6 1490.03H1753.6M1745.6 1455.44H1753.6M1745.6 1420.86H1753.6M54.5 1692.8H46.5M54.5 1665.45H46.5M54.5 1638.1H46.5M54.5 1610.75H46.5M54.5 1583.41H46.5M54.5 1556.06H46.5M1745.6 1816.14H1753.6M1745.6 1791.79H1753.6M1745.6 1767.44H1753.6M1745.6 1743.1H1753.6M1745.6 1718.75H1753.6M1745.6 1694.41H1753.6M54.5 1963.22H46.5M54.5 1943.55H46.5M54.5 1923.88H46.5M54.5 1904.21H46.5M54.5 1884.55H46.5M54.5 1864.88H46.5M54.5 1845.21H46.5M1745.6 2097.18H1753.6M1745.6 2071.94H1753.6M1745.6 2046.7H1753.6M1745.6 2021.46H1753.6M1745.6 1996.22H1753.6M1745.6 1970.98H1753.6M54.5 2241.55H46.5M54.5 2215.07H46.5M54.5 2188.6H46.5M54.5 2162.13H46.5M54.5 2135.66H46.5M54.5 2109.18H46.5M1745.6 2376.83H1753.6M1745.6 2348.73H1753.6M1745.6 2320.62H1753.6M1745.6 2292.52H1753.6M1745.6 2264.41H1753.6M54.5 2514.38H46.5M54.5 2492.45H46.5M54.5 2470.51H46.5M54.5 2448.58H46.5M54.5 2426.64H46.5M54.5 2404.71H46.5M54.5 2382.77H46.5M1745.6 2652.81H1753.6M1745.6 2628.52H1753.6M1745.6 2604.23H1753.6M1745.6 2579.94H1753.6M1745.6 2555.65H1753.6M1745.6 2531.36H1753.6" stroke="#000" stroke-width="1.3" fill="none"/>
<g font-size="11" fill="#222" stroke="#222" stroke-width="0.2"><text x="96.1" y="2684.8" text-anchor="middle">10</text><text x="143.29" y="2684.8" text-anchor="middle">15</text><text x="190.49" y="2684.8" text-anchor="middle">20</text><text x="237.68" y="2684.8" text-anchor="middle">25</text><text x="242.4" y="1400.2" text-anchor="middle">0</text><text x="279.72" y="1400.2" text-anchor="middle">200</text><text x="317.04" y="1400.2" text-anchor="middle">400</text><text x="354.36" y="1400.2" text-anchor="middle">600</text><text x="391.68" y="1400.2" text-anchor="middle">800</text><text x="428.99" y="1400.2" text-anchor="middle">1000</text><text x="449.9" y="2684.8" text-anchor="middle">20</text><text x="483.12" y="2684.8" text-anchor="middle">25</text><text x="516.34" y="2684.8" text-anchor="middle">30</text><text x="549.56" y="2684.8" text-anchor="middle">35</text><text x="582.79" y="2684.8" text-anchor="middle">40</text><text x="616.01" y="2684.8" text-anchor="middle">45</text><text x="625" y="1400.2" text-anchor="middle">10</text><text x="651.84" y="1400.2" text-anchor="middle">15</text><text x="678.68" y="1400.2" text-anchor="middle">20</text><text x="705.51" y="1400.2" text-anchor="middle">25</text><text x="732.35" y="1400.2" text-anchor="middle">30</text><text x="759.19" y="1400.2" text-anchor="middle">35</text><text x="786.03" y="1400.2" text-anchor="middle">40</text><text x="818" y="2684.8" text-anchor="middle">5</text><text x="852.44" y="2684.8" text-anchor="middle">10</text><text x="886.88" y="2684.8" text-anchor="middle">15</text><text x="921.33" y="2684.8" text-anchor="middle">20</text><text x="955.77" y="2684.8" text-anchor="middle">25</text><text x="990.21" y="2684.8" text-anchor="middle">30</text><text x="996.8" y="1400.2" text-anchor="middle">10</text><text x="1032.93" y="1400.2" text-anchor="middle">15</text><text x="1069.05" y="1400.2" text-anchor="middle">20</text><text x="1105.17" y="1400.2" text-anchor="middle">25</text><text x="1141.3" y="1400.2" text-anchor="middle">30</text><text x="1177.42" y="1400.2" text-anchor="middle">35</text><text x="1188" y="2684.8" text-anchor="middle">0</text><text x="1226.35" y="2684.8" text-anchor="middle">500</text><text x="1264.7" y="2684.8" text-anchor="middle">1000</text><text x="1303.05" y="2684.8" text-anchor="middle">1500</text><text x="1341.4" y="2684.8" text-anchor="middle">2000</text><text x="1376.1" y="1400.2" text-anchor="middle">0</text><text x="1406.03" y="1400.2" text-anchor="middle">200</text><text x="1435.97" y="1400.2" text-anchor="middle">400</text><text x="1465.9" y="1400.2" text-anchor="middle">600</text><text x="1495.83" y="1400.2" text-anchor="middle">800</text><text x="1555.69" y="1400.2" text-anchor="middle">1200</text><text x="1563" y="2684.8" text-anchor="middle">0</text><text x="1596.15" y="2684.8" text-anchor="middle">100</text><text x="1629.29" y="2684.8" text-anchor="middle">200</text><text x="1662.44" y="2684.8" text-anchor="middle">300</text><text x="1695.58" y="2684.8" text-anchor="middle">400</text><text x="1728.73" y="2684.8" text-anchor="middle">500</text><text transform="translate(1772.5,1524.62) rotate(-90)" text-anchor="middle">10</text><text transform="translate(1772.5,1490.03) rotate(-90)" text-anchor="middle">15</text><text transform="translate(1772.5,1455.44) rotate(-90)" text-anchor="middle">20</text><text transform="translate(1772.5,1420.86) rotate(-90)" text-anchor="middle">25</text><text transform="translate(36.9,1692.8) rotate(-90)" text-anchor="middle">0</text><text transform="translate(36.9,1665.45) rotate(-90)" text-anchor="middle">200</text><text transform="translate(36.9,1610.75) rotate(-90)" text-anchor="middle">600</text><text transform="translate(36.9,1556.06) rotate(-90)" text-anchor="middle">1000</text><text transform="translate(1772.5,1816.14) rotate(-90)" text-anchor="middle">20</text><text transform="translate(1772.5,1791.79) rotate(-90)" text-anchor="middle">25</text><text transform="translate(1772.5,1767.44) rotate(-90)" text-anchor="middle">30</text><text transform="translate(1772.5,1743.1) rotate(-90)" text-anchor="middle">35</text><text transform="translate(1772.5,1718.75) rotate(-90)" text-anchor="middle">40</text><text transform="translate(1772.5,1694.41) rotate(-90)" text-anchor="middle">45</text><text transform="translate(36.9,1963.22) rotate(-90)" text-anchor="middle">10</text><text transform="translate(36.9,1923.88) rotate(-90)" text-anchor="middle">20</text><text transform="translate(36.9,1884.55) rotate(-90)" text-anchor="middle">30</text><text transform="translate(36.9,1845.21) rotate(-90)" text-anchor="middle">40</text><text transform="translate(1772.5,2097.18) rotate(-90)" text-anchor="middle">5</text><text transform="translate(1772.5,2071.94) rotate(-90)" text-anchor="middle">10</text><text transform="translate(1772.5,2046.7) rotate(-90)" text-anchor="middle">15</text><text transform="translate(1772.5,2021.46) rotate(-90)" text-anchor="middle">20</text><text transform="translate(1772.5,1996.22) rotate(-90)" text-anchor="middle">25</text><text transform="translate(1772.5,1970.98) rotate(-90)" text-anchor="middle">30</text><text transform="translate(36.9,2241.55) rotate(-90)" text-anchor="middle">10</text><text transform="translate(36.9,2215.07) rotate(-90)" text-anchor="middle">15</text><text transform="translate(36.9,2188.6) rotate(-90)" text-anchor="middle">20</text><text transform="translate(36.9,2162.13) rotate(-90)" text-anchor="middle">25</text><text transform="translate(36.9,2135.66) rotate(-90)" text-anchor="middle">30</text><text transform="translate(36.9,2109.18) rotate(-90)" text-anchor="middle">35</text><text transform="translate(1772.5,2376.83) rotate(-90)" text-anchor="middle">0</text><text transform="translate(1772.5,2348.73) rotate(-90)" text-anchor="middle">500</text><text transform="translate(1772.5,2292.52) rotate(-90)" text-anchor="middle">1500</text><text transform="translate(36.9,2514.38) rotate(-90)" text-anchor="middle">0</text><text transform="translate(36.9,2470.51) rotate(-90)" text-anchor="middle">400</text><text transform="translate(36.9,2426.64) rotate(-90)" text-anchor="middle">800</text><text transform="translate(36.9,2382.77) rotate(-90)" text-anchor="middle">1200</text><text transform="translate(1772.5,2652.81) rotate(-90)" text-anchor="middle">0</text><text transform="translate(1772.5,2628.52) rotate(-90)" text-anchor="middle">100</text><text transform="translate(1772.5,2579.94) rotate(-90)" text-anchor="middle">300</text><text transform="translate(1772.5,2531.36) rotate(-90)" text-anchor="middle">500</text></g>
<text x="146.45" y="1496.85" font-size="24" text-anchor="middle" fill="#111">bio01</text>
<text x="334.35" y="1634.55" font-size="24" text-anchor="middle" fill="#111">bio04</text>
<text x="522.25" y="1772.25" font-size="24" text-anchor="middle" fill="#111">bio05</text>
<text x="710.15" y="1909.95" font-size="24" text-anchor="middle" fill="#111">bio07</text>
<text x="898.05" y="2047.65" font-size="24" text-anchor="middle" fill="#111">bio08</text>
<text x="1085.95" y="2185.35" font-size="24" text-anchor="middle" fill="#111">bio10</text>
<text x="1273.85" y="2323.05" font-size="24" text-anchor="middle" fill="#111">bio12</text>
<text x="1461.75" y="2460.75" font-size="24" text-anchor="middle" fill="#111">bio16</text>
<text x="1649.65" y="2598.45" font-size="24" text-anchor="middle" fill="#111">lai</text>
<text x="334.35" y="1495.92" font-size="22.3" text-anchor="middle">-0.13</text>
<text clip-path="url(#c12)" x="394.42" y="1476.4" font-size="58.65" letter-spacing="3.41" text-anchor="middle" fill="#df536b">*</text>
<text x="522.25" y="1510.85" font-size="65.7" text-anchor="middle">0.72</text>
<text clip-path="url(#c13)" x="582.74" y="1483.68" font-size="72.85" letter-spacing="4.23" text-anchor="middle" fill="#df536b">***</text>
<text x="710.15" y="1493.69" font-size="15.8" text-anchor="middle">-0.031</text>
<text x="898.05" y="1512.67" font-size="71" text-anchor="middle">0.76</text>
<text clip-path="url(#c15)" x="958.62" y="1485.16" font-size="75.76" letter-spacing="4.4" text-anchor="middle" fill="#df536b">***</text>
<text x="1085.95" y="1513.71" font-size="74" text-anchor="middle">0.84</text>
<text clip-path="url(#c16)" x="1146.45" y="1483.97" font-size="73.42" letter-spacing="4.27" text-anchor="middle" fill="#df536b">***</text>
<text x="1273.85" y="1498.88" font-size="30.9" text-anchor="middle">0.15</text>
<text clip-path="url(#c17)" x="1334.48" y="1486.14" font-size="77.66" letter-spacing="4.51" text-anchor="middle" fill="#df536b">**</text>
<text x="1461.75" y="1500.6" font-size="35.9" text-anchor="middle">0.25</text>
<text clip-path="url(#c18)" x="1522.27" y="1484.17" font-size="73.82" letter-spacing="4.29" text-anchor="middle" fill="#df536b">***</text>
<text x="1649.65" y="1501.36" font-size="38.1" text-anchor="middle">0.28</text>
<text clip-path="url(#c19)" x="1710.18" y="1484.42" font-size="74.29" letter-spacing="4.32" text-anchor="middle" fill="#df536b">***</text>
<text x="522.25" y="1644.8" font-size="54.8" text-anchor="middle">0.52</text>
<text clip-path="url(#c23)" x="582.82" y="1622.78" font-size="75.58" letter-spacing="4.39" text-anchor="middle" fill="#df536b">***</text>
<text x="710.15" y="1653.13" font-size="79" text-anchor="middle">0.90</text>
<text clip-path="url(#c24)" x="770.68" y="1622.2" font-size="74.46" letter-spacing="4.33" text-anchor="middle" fill="#df536b">***</text>
<text x="898.05" y="1633.66" font-size="22.4" text-anchor="middle">-0.12</text>
<text clip-path="url(#c25)" x="958.17" y="1614.95" font-size="60.32" letter-spacing="3.51" text-anchor="middle" fill="#df536b">*</text>
<text x="1085.95" y="1642.12" font-size="47" text-anchor="middle">0.42</text>
<text clip-path="url(#c26)" x="1146.47" y="1621.88" font-size="73.83" letter-spacing="4.29" text-anchor="middle" fill="#df536b">***</text>
<text x="1273.85" y="1644.25" font-size="53.2" text-anchor="middle">-0.67</text>
<text clip-path="url(#c27)" x="1334.02" y="1615.83" font-size="62.03" letter-spacing="3.61" text-anchor="middle" fill="#df536b">***</text>
<text x="1461.75" y="1641.98" font-size="46.6" text-anchor="middle">-0.57</text>
<text clip-path="url(#c28)" x="1521.88" y="1615.09" font-size="60.58" letter-spacing="3.52" text-anchor="middle" fill="#df536b">***</text>
<text x="1649.65" y="1642.87" font-size="49.2" text-anchor="middle">-0.63</text>
<text clip-path="url(#c29)" x="1709.76" y="1614.7" font-size="59.83" letter-spacing="3.48" text-anchor="middle" fill="#df536b">***</text>
<text x="710.15" y="1783.29" font-size="57.1" text-anchor="middle">0.61</text>
<text clip-path="url(#c34)" x="770.58" y="1758.11" font-size="70.97" letter-spacing="4.13" text-anchor="middle" fill="#df536b">***</text>
<text x="898.05" y="1780.44" font-size="48.8" text-anchor="middle">0.46</text>
<text clip-path="url(#c35)" x="958.53" y="1758.96" font-size="72.62" letter-spacing="4.22" text-anchor="middle" fill="#df536b">***</text>
<text x="1085.95" y="1791.75" font-size="81.7" text-anchor="middle">0.95</text>
<text clip-path="url(#c36)" x="1146.47" y="1759.63" font-size="73.92" letter-spacing="4.3" text-anchor="middle" fill="#df536b">***</text>
<text x="1273.85" y="1775.14" font-size="33.4" text-anchor="middle">-0.29</text>
<text clip-path="url(#c37)" x="1334.08" y="1754.55" font-size="64.03" letter-spacing="3.72" text-anchor="middle" fill="#df536b">***</text>
<text x="1461.75" y="1771.42" font-size="22.6" text-anchor="middle">-0.13</text>
<text clip-path="url(#c38)" x="1521.85" y="1752.2" font-size="59.44" letter-spacing="3.46" text-anchor="middle" fill="#df536b">*</text>
<text x="1649.65" y="1772.59" font-size="26" text-anchor="middle">-0.16</text>
<text clip-path="url(#c39)" x="1709.88" y="1754.5" font-size="63.93" letter-spacing="3.72" text-anchor="middle" fill="#df536b">**</text>
<text x="898.05" y="1907.75" font-size="18.6" text-anchor="middle">0.047</text>
<text x="1085.95" y="1918.72" font-size="50.5" text-anchor="middle">0.43</text>
<text clip-path="url(#c46)" x="1146.59" y="1899.54" font-size="78.24" letter-spacing="4.55" text-anchor="middle" fill="#df536b">***</text>
<text x="1273.85" y="1919.2" font-size="51.9" text-anchor="middle">-0.65</text>
<text clip-path="url(#c47)" x="1334.02" y="1891.11" font-size="61.79" letter-spacing="3.59" text-anchor="middle" fill="#df536b">***</text>
<text x="1461.75" y="1916.62" font-size="44.4" text-anchor="middle">-0.52</text>
<text clip-path="url(#c48)" x="1521.9" y="1890.83" font-size="61.24" letter-spacing="3.56" text-anchor="middle" fill="#df536b">***</text>
<text x="1649.65" y="1917.31" font-size="46.4" text-anchor="middle">-0.55</text>
<text clip-path="url(#c49)" x="1709.81" y="1891.08" font-size="61.74" letter-spacing="3.59" text-anchor="middle" fill="#df536b">***</text>
<text x="1085.95" y="2058.86" font-size="57.6" text-anchor="middle">0.57</text>
<text clip-path="url(#c56)" x="1146.5" y="2035.52" font-size="74.88" letter-spacing="4.35" text-anchor="middle" fill="#df536b">***</text>
<text x="1273.85" y="2049.47" font-size="30.3" text-anchor="middle">0.15</text>
<text clip-path="url(#c57)" x="1334.43" y="2036.17" font-size="76.15" letter-spacing="4.43" text-anchor="middle" fill="#df536b">**</text>
<text x="1461.75" y="2050.4" font-size="33" text-anchor="middle">0.19</text>
<text clip-path="url(#c58)" x="1522.33" y="2036.18" font-size="76.17" letter-spacing="4.43" text-anchor="middle" fill="#df536b">**</text>
<text x="1649.65" y="2053.19" font-size="41.1" text-anchor="middle">0.32</text>
<text clip-path="url(#c59)" x="1710.2" y="2035.56" font-size="74.97" letter-spacing="4.36" text-anchor="middle" fill="#df536b">***</text>
<text x="1273.85" y="2185.66" font-size="25.9" text-anchor="middle">-0.17</text>
<text clip-path="url(#c67)" x="1334.03" y="2166.78" font-size="62.33" letter-spacing="3.62" text-anchor="middle" fill="#df536b">**</text>
<text x="1461.75" y="2182.39" font-size="16.4" text-anchor="middle">-0.035</text>
<text x="1649.65" y="2182.39" font-size="16.4" text-anchor="middle">-0.053</text>
<text x="1461.75" y="2342.49" font-size="81.5" text-anchor="middle">0.94</text>
<text clip-path="url(#c78)" x="1522.28" y="2310.64" font-size="74.34" letter-spacing="4.32" text-anchor="middle" fill="#df536b">***</text>
<text x="1649.65" y="2338.56" font-size="70.1" text-anchor="middle">0.77</text>
<text clip-path="url(#c79)" x="1710.17" y="2310.51" font-size="74.1" letter-spacing="4.31" text-anchor="middle" fill="#df536b">***</text>
<text x="1649.65" y="2476.23" font-size="70" text-anchor="middle">0.77</text>
<text clip-path="url(#c89)" x="1710.17" y="2448.16" font-size="73.99" letter-spacing="4.3" text-anchor="middle" fill="#df536b">***</text>
<path clip-path="url(#s21)" class="pt" d="M72.4 1644.9L73.4 1638.0L67.3 1641.7L79.4 1649.4L83.2 1646.9L74.1 1640.9L59.4 1646.8L79.4 1645.7L58.8 1628.3L64.7 1642.5L75.4 1646.6L65.4 1638.5L65.2 1642.2L75.9 1640.6L74.3 1641.9L78.7 1645.7L72.7 1644.7L56.8 1628.4L74.5 1645.3L98.5 1627.8L115.2 1629.1L105.6 1632.4L123.8 1629.2L106.6 1633.0L109.5 1623.0L108.1 1617.6L103.7 1634.0L105.6 1632.5L103.0 1626.2L108.0 1634.6L104.6 1628.7L104.8 1624.0L106.7 1633.1L109.4 1631.7L105.8 1619.3L109.3 1618.1L118.4 1629.9L106.8 1626.8L103.2 1632.2L112.3 1627.5L103.9 1628.8L105.7 1621.0L118.3 1622.3L100.4 1635.4L111.8 1634.5L148.7 1644.3L146.6 1638.5L154.7 1634.0L148.9 1640.8L153.9 1636.9L166.5 1630.2L136.7 1629.7L144.7 1635.7L150.7 1622.2L141.0 1626.3L152.2 1649.3L163.0 1633.1L151.4 1618.1L137.4 1629.5L132.4 1632.3L141.4 1634.1L143.8 1638.7L133.4 1614.4L122.8 1646.8L162.2 1632.5L141.0 1630.3L140.0 1641.4L143.2 1644.9L157.5 1621.4L126.4 1634.9L152.2 1629.0L141.2 1613.0L147.5 1625.9L146.7 1632.5L148.2 1628.7L150.9 1614.4L137.3 1640.7L155.1 1624.3L149.0 1636.6L155.1 1643.1L152.1 1636.1L159.7 1613.7L144.1 1626.9L126.9 1633.9L170.6 1634.3L133.2 1628.2L152.2 1632.9L143.8 1640.5L141.2 1638.2L141.8 1638.8L122.4 1640.3L138.0 1633.1L142.1 1648.5L162.5 1634.8L151.6 1616.6L138.9 1643.0L152.7 1627.5L161.7 1638.7L161.3 1633.4L140.6 1630.7L160.7 1630.4L146.5 1637.3L150.1 1639.4L135.5 1614.6L157.5 1630.9L146.1 1641.2L164.1 1629.4L143.0 1632.8L161.8 1639.5L144.2 1640.6L156.1 1629.3L152.6 1618.0L149.1 1632.6L149.6 1630.5L148.2 1628.1L146.4 1635.0L152.1 1641.8L137.8 1623.4L153.6 1650.7L135.7 1631.7L118.6 1637.1L153.1 1631.8L143.0 1635.1L151.0 1638.7L155.6 1636.3L144.1 1628.6L134.3 1637.3L155.3 1635.0L149.8 1653.1L159.1 1676.2L150.2 1676.2L148.9 1674.0L159.8 1669.6L157.3 1682.7L153.5 1670.1L148.6 1668.7L143.0 1676.9L155.1 1675.2L157.8 1669.2L135.0 1674.1L140.2 1671.2L163.9 1670.5L136.4 1670.8L160.6 1673.9L132.9 1673.4L141.1 1675.1L140.4 1674.0L145.1 1676.0L145.6 1672.8L152.8 1679.0L143.6 1675.3L142.2 1677.0L136.8 1675.6L159.9 1675.0L145.4 1676.7L147.6 1676.0L147.3 1674.9L165.7 1675.1L161.9 1671.2L138.6 1658.9L138.9 1657.7L138.1 1660.2L136.1 1657.3L149.0 1653.8L156.6 1664.9L142.8 1650.3L141.9 1652.8L143.6 1657.8L136.5 1660.0L141.2 1659.3L154.1 1654.3L161.8 1659.7L142.0 1660.6L126.5 1660.0L160.4 1663.2L136.5 1647.6L147.1 1660.9L144.6 1664.2L158.4 1661.4L142.6 1661.2L146.7 1653.0L155.1 1668.1L135.5 1655.0L144.5 1649.9L136.9 1661.4L135.4 1653.9L125.2 1652.8L153.0 1657.7L146.9 1655.1L155.3 1659.1L144.0 1657.0L145.6 1663.4L168.7 1661.7L133.5 1662.7L151.3 1642.4L130.4 1603.5L141.9 1612.9L115.4 1572.8L135.5 1584.7L127.0 1583.2L129.0 1601.7L139.8 1589.6L133.3 1592.4L122.5 1582.8L134.9 1583.2L137.5 1586.5L138.2 1591.0L138.3 1587.8L127.8 1594.2L125.5 1592.7L132.5 1580.0L122.9 1582.4L186.4 1643.9L173.2 1644.6L197.1 1648.6L177.2 1644.0L229.7 1642.5L210.0 1650.1L159.0 1633.4L204.1 1640.9L180.8 1636.5L191.9 1635.3L166.3 1655.6L198.5 1649.3L212.0 1651.0L204.4 1658.0L169.5 1655.1L203.6 1664.9L222.4 1607.6L188.6 1655.8L194.8 1642.8L214.2 1643.1L187.6 1656.9L215.6 1638.0L196.6 1667.1L206.9 1630.6L212.1 1635.3L158.4 1653.7L199.3 1642.2L206.5 1645.9L176.0 1648.6L224.3 1642.6L207.6 1644.7L160.0 1642.7L182.6 1646.5L171.0 1638.7L200.0 1641.6L184.2 1631.0L177.5 1637.4L187.3 1643.1L205.7 1593.5L214.0 1584.7L194.8 1610.3L220.6 1610.1L192.5 1612.1L172.6 1573.5L207.7 1606.3L211.5 1604.3L174.0 1560.6L217.6 1586.8L202.5 1607.8L202.2 1606.1L216.7 1605.2L175.0 1571.0L193.2 1667.7L184.4 1669.3L179.4 1677.7L188.9 1669.1L185.2 1670.0L186.4 1671.9L199.4 1669.2L191.5 1671.8L192.2 1659.9L186.0 1669.1L192.4 1663.4L178.7 1674.4L182.9 1673.2L188.7 1672.3L195.5 1670.9L190.2 1669.5L188.6 1669.3L181.1 1671.9L187.1 1673.4L215.1 1558.0L219.4 1564.7L171.9 1686.1L174.3 1686.1"/>
<path clip-path="url(#s21)" class="lo" d="M60.14 1637.72C64.83 1637.49 79.24 1637.42 88.32 1636.34C97.4 1635.26 108.36 1631.62 114.63 1631.25C120.89 1630.88 120.73 1632.26 125.9 1634.14C131.07 1636.02 139.99 1639.83 145.63 1642.54C151.27 1645.25 154.87 1648.6 159.72 1650.39C164.58 1652.18 169.93 1652.8 174.76 1653.28C179.58 1653.76 183.15 1653.67 188.66 1653.28C194.17 1652.89 200.22 1651.86 207.83 1650.94C215.44 1650.02 229.9 1648.3 234.32 1647.77"/>
<path clip-path="url(#s31)" class="pt" d="M70.5 1816.1L69.1 1821.8L60.3 1818.5L82.5 1817.6L66.8 1810.1L83.6 1813.6L70.3 1816.3L72.9 1815.3L66.8 1816.1L71.1 1815.7L63.2 1814.9L69.9 1818.0L69.6 1815.8L68.7 1813.9L83.3 1809.0L78.1 1823.9L73.1 1818.1L61.8 1815.3L80.5 1818.2L74.3 1812.0L73.3 1808.1L82.9 1814.8L76.7 1802.6L80.8 1807.0L79.0 1800.2L80.0 1803.6L108.4 1784.3L114.4 1780.0L91.9 1781.2L129.3 1805.3L105.8 1783.2L115.4 1783.7L122.1 1790.6L104.2 1803.5L105.1 1789.6L108.2 1784.1L118.0 1790.1L98.5 1774.7L106.0 1786.4L114.5 1785.2L122.8 1780.2L104.2 1780.4L109.0 1781.1L115.5 1784.7L127.8 1803.6L103.5 1783.2L131.5 1809.9L120.9 1782.8L129.0 1805.3L107.9 1782.9L120.5 1786.6L110.3 1785.7L99.4 1767.4L104.3 1786.5L145.3 1781.6L142.1 1779.0L152.3 1783.8L139.4 1775.0L169.8 1767.5L158.6 1778.3L156.8 1784.5L143.4 1765.2L169.5 1771.6L146.5 1798.6L134.5 1784.1L137.4 1784.1L160.7 1774.2L156.4 1783.0L151.2 1776.3L132.3 1789.9L129.6 1800.5L168.1 1768.9L159.1 1772.8L135.7 1786.3L142.0 1781.2L151.8 1780.5L154.0 1770.9L138.7 1788.4L136.0 1782.2L143.4 1786.1L141.1 1783.8L157.8 1784.6L149.2 1779.8L142.9 1788.4L151.5 1779.2L154.2 1762.0L152.5 1796.3L129.0 1786.1L161.6 1771.3L158.0 1770.8L149.3 1793.1L170.8 1785.7L162.4 1776.5L159.0 1791.3L145.9 1782.1L155.8 1799.9L139.8 1779.5L144.6 1786.0L134.1 1810.4L161.7 1785.9L160.0 1780.2L139.9 1779.3L146.1 1791.7L140.4 1779.8L145.0 1778.9L136.9 1779.4L127.0 1777.8L152.3 1775.8L146.7 1794.5L129.7 1795.6L141.5 1784.8L159.5 1783.4L160.3 1779.7L137.1 1796.2L142.8 1781.9L145.0 1784.8L165.0 1785.3L146.6 1772.6L159.6 1772.7L142.7 1790.1L141.7 1784.9L148.9 1776.5L139.5 1778.5L143.8 1793.3L138.1 1769.0L141.4 1778.7L152.2 1784.0L136.4 1777.9L169.5 1786.6L126.9 1786.6L163.4 1777.9L144.4 1783.9L153.9 1783.2L155.8 1774.4L152.4 1778.1L134.9 1774.9L117.4 1789.5L139.4 1796.8L143.7 1776.1L150.8 1783.8L138.3 1794.8L156.1 1783.1L166.6 1774.0L143.0 1784.7L146.5 1780.9L147.4 1797.7L147.7 1782.6L148.5 1781.3L148.3 1778.2L152.1 1778.1L156.0 1797.3L172.0 1785.7L138.3 1784.8L154.3 1783.1L143.4 1778.4L149.6 1786.9L145.4 1769.3L158.4 1773.2L152.8 1776.4L135.5 1773.5L153.8 1776.1L148.2 1777.2L137.9 1799.7L139.9 1780.7L144.0 1802.0L119.5 1800.7L127.7 1795.9L124.9 1804.0L137.2 1798.6L128.7 1794.6L140.0 1801.1L118.4 1792.2L121.0 1806.9L124.3 1801.2L133.6 1801.8L127.9 1792.8L131.2 1807.2L141.6 1801.0L136.8 1800.2L123.4 1790.8L122.4 1806.5L139.3 1799.5L129.1 1791.8L126.0 1803.7L125.6 1791.6L135.2 1800.1L132.2 1808.9L142.4 1802.9L124.5 1809.0L136.3 1800.3L145.4 1745.4L118.4 1741.2L124.3 1752.1L140.5 1738.0L105.8 1753.5L125.7 1747.0L147.5 1747.6L149.2 1750.3L151.4 1738.9L101.6 1742.9L142.5 1752.5L135.3 1745.5L146.7 1752.5L172.4 1775.5L188.4 1759.6L184.8 1771.6L196.0 1772.3L177.3 1767.8L174.0 1772.7L161.3 1769.8L196.4 1759.8L173.1 1780.1L187.0 1767.2L198.2 1775.7L209.3 1769.9L183.8 1775.1L159.0 1776.7L169.3 1773.5L176.4 1769.9L177.3 1771.4L171.0 1767.0L159.8 1772.2L187.6 1766.7L168.5 1771.2L180.4 1770.3L185.4 1772.1L176.6 1779.3L179.4 1766.7L162.7 1769.5L176.7 1768.4L193.4 1769.9L204.9 1761.2L204.0 1770.3L175.2 1771.5L185.8 1768.6L183.2 1769.0L159.6 1770.6L175.7 1780.4L209.4 1765.5L185.5 1768.0L191.5 1767.1L193.0 1774.2L175.5 1749.9L173.2 1767.7L212.8 1739.2L195.1 1739.8L239.6 1747.0L210.7 1768.2L194.4 1721.0L206.2 1739.5L213.5 1750.4L239.6 1709.8L203.1 1750.3L211.6 1747.4L232.9 1718.5L211.5 1741.4L212.0 1719.7L190.6 1734.2L215.8 1748.0L212.9 1719.9L206.3 1732.7L191.1 1746.1L212.8 1757.7L223.1 1752.5L164.4 1762.0L171.9 1734.4L195.8 1746.0L203.0 1757.6L204.1 1735.2L239.6 1720.9L239.6 1721.0L216.3 1719.9L224.9 1758.8L215.1 1747.8L177.2 1761.4L208.7 1744.4L218.0 1734.1L173.6 1731.6L185.6 1734.9L210.4 1763.5L222.7 1737.7L195.3 1728.9L207.1 1750.8L166.4 1767.1L239.6 1706.4L188.0 1730.0L188.9 1732.4L215.1 1696.4L219.4 1696.4"/>
<path clip-path="url(#s31)" class="lo" d="M59.39 1822.24C62.96 1820.63 71.6 1818.2 80.81 1812.6C90.01 1807 105.86 1793.23 114.63 1788.64C123.4 1784.05 125.9 1786.07 133.42 1785.06C140.93 1784.05 150.52 1786.39 159.72 1782.58C168.93 1778.77 179.89 1768.58 188.66 1762.2C197.43 1755.82 204.32 1749.49 212.34 1744.3C220.35 1739.11 232.69 1733.28 236.76 1731.08"/>
<path clip-path="url(#s32)" class="pt" d="M256.0 1793.6L260.3 1791.6L254.7 1783.8L263.3 1787.2L270.3 1784.5L264.0 1790.1L263.3 1801.8L266.0 1784.3L264.8 1787.8L259.6 1787.3L267.3 1794.1L253.5 1786.9L255.9 1784.9L266.5 1792.7L258.0 1787.9L250.0 1797.6L258.2 1784.6L259.6 1782.9L255.9 1800.7L271.7 1786.5L256.7 1792.0L255.7 1797.7L254.6 1784.4L258.8 1798.0L260.6 1781.3L262.4 1784.6L264.4 1789.8L268.0 1782.8L268.4 1785.0L262.2 1788.4L258.4 1792.0L260.6 1788.7L269.6 1787.7L260.6 1788.4L255.5 1798.3L255.6 1785.2L256.1 1790.5L255.4 1781.1L270.2 1800.5L285.4 1800.9L276.1 1795.4L304.4 1798.1L261.3 1804.3L302.4 1795.8L292.7 1810.2L319.7 1790.3L306.0 1794.7L309.7 1793.0L283.8 1799.9L296.0 1791.0L301.4 1792.4L270.2 1794.8L291.8 1804.6L267.7 1794.9L284.3 1805.3L247.4 1795.5L271.6 1777.8L279.0 1802.2L294.2 1800.7L287.2 1786.7L289.0 1791.4L312.9 1783.8L300.8 1798.0L285.9 1790.8L294.2 1793.7L303.5 1802.5L294.6 1793.8L268.8 1807.1L298.1 1805.0L294.1 1810.5L312.4 1804.4L287.4 1790.8L278.4 1799.0L274.5 1790.3L293.6 1795.5L291.0 1773.8L274.4 1801.5L272.0 1797.1L291.6 1800.9L283.0 1800.6L294.0 1797.3L281.7 1800.0L299.6 1803.1L283.1 1791.5L305.9 1799.0L270.8 1795.3L304.2 1791.8L297.9 1801.3L296.8 1778.1L309.2 1796.2L267.1 1786.0L292.0 1795.8L296.7 1805.3L295.5 1798.8L257.2 1811.5L293.0 1804.4L301.0 1792.5L285.4 1795.4L303.2 1805.4L308.8 1799.6L313.9 1793.4L278.1 1789.1L290.4 1798.8L275.7 1796.9L291.4 1792.8L259.1 1809.9L281.5 1794.9L305.7 1796.0L295.3 1802.0L294.6 1793.3L271.7 1797.1L269.6 1794.8L274.5 1796.5L277.5 1796.5L327.2 1784.6L321.6 1798.6L313.2 1775.4L332.5 1787.3L328.6 1789.7L340.9 1783.3L314.3 1779.4L324.6 1773.9L316.8 1771.1L326.2 1782.6L334.9 1781.9L322.3 1778.1L322.5 1774.4L324.0 1781.1L305.0 1787.1L328.4 1775.8L327.2 1778.2L320.0 1774.9L303.4 1789.5L315.6 1766.1L332.3 1778.7L329.9 1781.2L318.1 1768.8L305.0 1786.9L310.8 1769.9L323.4 1794.4L311.6 1792.8L326.5 1784.7L342.1 1773.3L320.8 1775.9L329.3 1783.2L315.5 1789.6L318.7 1784.1L319.8 1788.5L327.6 1789.7L316.9 1772.3L327.4 1779.2L325.1 1774.3L317.2 1780.1L315.6 1787.2L320.7 1776.0L324.3 1765.3L320.9 1778.6L305.9 1793.3L321.0 1790.0L332.5 1785.9L328.2 1784.5L317.0 1784.5L337.3 1773.9L297.3 1788.5L322.9 1782.2L326.4 1794.5L318.6 1789.1L323.9 1782.5L334.7 1782.5L326.3 1761.4L325.8 1771.5L310.6 1785.4L318.9 1784.2L329.4 1789.0L332.8 1786.7L319.2 1788.6L321.2 1762.7L318.4 1785.3L334.2 1768.6L318.1 1774.1L314.2 1778.7L317.6 1783.4L318.6 1790.0L323.4 1781.4L300.1 1761.9L287.6 1753.7L312.3 1752.3L273.2 1732.5L270.0 1764.1L260.9 1751.1L265.3 1738.4L283.5 1760.5L277.2 1742.2L302.0 1741.4L263.0 1770.1L282.3 1747.0L280.7 1766.4L296.9 1775.8L248.4 1747.3L296.6 1753.7L291.7 1738.9L294.3 1763.8L255.2 1745.2L275.0 1748.1L273.0 1759.0L303.4 1796.5L304.5 1747.3L261.8 1750.9L278.7 1757.9L280.4 1761.7L298.3 1750.0L264.3 1749.0L272.5 1747.9L276.3 1766.2L277.7 1767.9L293.5 1792.4L287.4 1753.7L267.4 1752.2L283.5 1742.5L263.3 1756.2L286.7 1777.4L259.5 1739.7L283.8 1751.2L284.8 1770.4L302.6 1740.2L294.0 1746.5L273.4 1753.0L304.4 1745.8L306.2 1817.4L313.7 1815.4L303.9 1822.1L317.7 1821.4L300.8 1818.1L312.0 1813.2L300.7 1818.1L316.4 1816.7L304.5 1822.6L307.5 1820.1L304.8 1815.6L300.1 1819.9L313.6 1811.9L303.5 1821.1L300.4 1823.1L319.0 1811.9L301.2 1822.0L308.7 1819.6L314.5 1819.8L350.5 1762.4L347.1 1750.1L370.1 1748.7L364.2 1747.1L365.0 1736.9L388.3 1726.8L385.8 1736.1L381.9 1750.5L338.0 1744.7L358.2 1765.6L337.1 1779.5L381.8 1743.1L377.2 1735.9L376.9 1748.4L385.9 1748.8L363.0 1749.4L379.7 1743.7L360.5 1756.4L351.8 1767.8L343.3 1770.4L395.5 1735.5L368.7 1755.2L376.9 1747.8L362.1 1734.2L343.8 1775.8L368.2 1734.2L348.6 1767.0L370.1 1753.1L331.4 1753.1L377.6 1742.5L392.0 1747.2L380.2 1736.3L395.9 1742.2L397.0 1744.0L390.4 1739.2L393.1 1742.4L390.9 1745.1L397.2 1745.9L415.2 1696.4L422.4 1696.4"/>
<path clip-path="url(#s32)" class="lo" d="M246.16 1788.64C250.17 1788.82 261.44 1789.83 270.21 1789.74C278.98 1789.65 290.88 1789.1 298.77 1788.09C306.66 1787.08 311.61 1785.4 317.56 1783.68C323.51 1781.96 329.59 1780.51 334.47 1777.76C339.36 1775.01 341.61 1771.91 346.87 1767.16C352.13 1762.41 358.08 1756.07 366.04 1749.26C373.99 1742.44 385.02 1733.28 394.6 1726.26C404.18 1719.24 418.71 1710.31 423.54 1707.12"/>
<path clip-path="url(#s41)" class="pt" d="M77.9 1908.9L64.9 1915.6L85.9 1905.7L94.0 1906.3L85.4 1902.9L68.4 1910.9L67.4 1914.8L63.8 1914.2L66.3 1902.4L86.0 1908.8L74.5 1907.3L68.3 1911.0L67.0 1916.4L80.6 1899.4L85.3 1908.2L87.1 1906.3L76.1 1913.0L62.5 1915.8L71.2 1907.0L77.1 1903.4L72.5 1911.1L69.6 1904.4L69.1 1912.0L70.7 1910.4L132.7 1888.3L111.0 1893.7L104.9 1902.8L106.2 1884.2L116.8 1892.7L119.7 1880.7L128.3 1893.0L125.2 1874.4L110.9 1892.2L102.2 1890.5L108.1 1902.0L118.6 1892.9L115.4 1877.2L110.8 1896.0L117.3 1894.4L119.7 1877.1L106.5 1912.3L124.8 1888.2L118.7 1879.4L128.3 1902.1L114.7 1891.4L108.5 1893.4L108.5 1886.5L108.8 1889.1L111.1 1884.3L123.3 1889.6L110.3 1896.0L112.0 1892.0L112.3 1877.6L126.9 1900.3L152.6 1911.3L146.3 1900.7L125.2 1895.1L160.4 1895.7L150.4 1904.7L146.0 1895.4L145.2 1909.4L149.2 1905.9L130.0 1914.7L138.4 1899.6L153.3 1905.2L166.3 1905.9L128.5 1905.5L150.6 1892.3L154.2 1914.4L138.9 1909.6L152.5 1914.2L139.4 1910.1L148.9 1900.8L141.3 1904.0L150.4 1911.5L131.1 1905.2L150.1 1911.9L159.1 1912.4L149.1 1901.3L134.5 1910.3L138.7 1903.2L155.0 1913.2L130.9 1911.5L141.7 1912.1L132.6 1900.9L142.9 1904.3L126.9 1899.6L159.6 1923.1L140.1 1901.0L134.9 1893.2L155.1 1921.4L139.9 1894.1L124.5 1902.0L145.7 1904.3L153.5 1911.7L130.0 1915.7L136.6 1906.5L140.4 1899.1L146.7 1907.1L139.7 1901.4L143.3 1896.6L147.3 1889.7L142.5 1906.8L141.4 1909.5L130.7 1906.9L162.2 1897.0L132.4 1916.4L154.3 1905.2L136.6 1894.2L137.4 1901.6L155.8 1889.9L142.8 1895.8L134.3 1916.4L141.3 1912.9L149.4 1894.4L158.7 1912.3L153.5 1919.8L134.6 1911.2L155.7 1905.2L147.8 1905.8L123.5 1897.1L151.9 1911.4L155.5 1909.1L147.4 1903.1L155.9 1910.1L147.1 1933.1L155.4 1935.0L151.8 1941.7L145.2 1933.2L147.8 1939.5L144.9 1939.2L140.7 1937.0L142.9 1943.7L162.9 1942.5L160.6 1921.5L123.6 1939.6L154.9 1939.7L148.6 1939.0L159.3 1939.1L133.1 1937.1L132.7 1936.7L164.0 1940.5L147.4 1932.1L143.8 1932.6L159.6 1937.0L150.5 1929.1L147.0 1940.0L153.6 1937.0L152.2 1942.8L145.6 1941.4L147.1 1938.8L144.2 1940.4L138.1 1936.6L149.9 1942.0L134.6 1941.3L136.1 1936.0L158.9 1934.0L161.3 1928.8L134.2 1937.0L149.8 1939.1L146.1 1935.5L165.7 1937.0L156.3 1927.8L141.7 1934.0L147.3 1933.1L156.5 1945.1L140.9 1928.5L149.7 1941.3L160.5 1937.3L142.7 1942.4L145.5 1937.9L146.5 1937.7L147.1 1934.2L145.9 1936.1L141.8 1937.2L146.2 1928.6L137.8 1935.7L139.9 1868.7L132.5 1872.8L150.8 1881.2L113.6 1876.3L126.0 1871.9L137.1 1875.7L129.3 1873.2L130.6 1873.1L135.3 1869.0L138.1 1877.6L126.9 1869.9L132.6 1872.1L136.5 1872.9L179.2 1900.8L166.9 1886.2L222.6 1900.9L203.9 1886.4L211.0 1913.3L202.1 1906.4L177.5 1898.2L201.9 1902.6L166.2 1909.4L169.8 1887.6L189.4 1901.4L181.3 1890.8L177.8 1895.2L220.0 1893.0L210.0 1904.0L176.1 1905.6L213.4 1903.7L169.8 1901.5L184.8 1902.2L202.6 1902.9L188.7 1909.1L195.6 1905.9L178.0 1892.9L186.2 1908.6L191.8 1897.7L194.3 1902.7L208.8 1911.5L162.0 1899.7L217.1 1900.0L186.7 1896.1L193.2 1892.9L180.9 1885.8L169.4 1888.4L200.1 1908.1L165.7 1905.3L221.8 1882.3L181.8 1883.7L195.1 1883.5L188.7 1897.9L186.7 1884.9L213.6 1862.6L196.0 1862.4L203.3 1859.3L195.7 1887.6L203.0 1860.8L212.8 1866.3L191.7 1872.8L203.8 1886.3L193.5 1852.7L206.6 1865.8L202.4 1885.5L205.8 1872.7L200.0 1876.6L188.4 1881.6L194.8 1853.8L180.1 1882.8L203.8 1883.9L213.1 1866.5L213.3 1872.9L207.7 1876.6L204.0 1856.1L206.9 1880.1L203.7 1882.5L205.0 1867.1L193.2 1867.2L187.8 1930.3L200.9 1925.1L195.0 1923.7L183.7 1945.5L194.4 1931.2L194.7 1932.6L191.2 1927.1L186.5 1934.1L193.1 1937.6L192.9 1934.1L192.8 1938.9L193.5 1924.2L194.6 1937.3L194.5 1923.1L188.9 1930.6L199.8 1927.6L195.3 1934.9L206.0 1923.1L191.8 1931.9L200.6 1924.5L208.1 1931.3L206.3 1924.1L214.7 1938.8L224.9 1927.7L227.6 1925.2L205.6 1937.1L209.7 1934.4L212.4 1924.6L215.1 1835.3L219.4 1842.0L195.4 1962.2L104.8 1909.5L106.0 1922.7L109.6 1924.4"/>
<path clip-path="url(#s41)" class="lo" d="M59.39 1902.38C63.36 1902.38 74.89 1902.59 83.25 1902.38C91.61 1902.17 102.35 1900.34 109.55 1901.14C116.76 1901.94 121.27 1905 126.47 1907.2C131.66 1909.4 135.58 1912.18 140.75 1914.36C145.91 1916.54 151.86 1919.89 157.47 1920.28C163.07 1920.67 167.58 1918.49 174.38 1916.7C181.18 1914.91 190.26 1911.93 198.24 1909.54C206.23 1907.15 215.91 1904.17 222.29 1902.38C228.68 1900.59 234.2 1899.4 236.58 1898.8"/>
<path clip-path="url(#s42)" class="pt" d="M266.5 1941.0L277.0 1934.1L273.3 1939.8L267.6 1943.3L253.4 1944.8L259.5 1935.3L262.8 1939.2L263.1 1938.5L254.7 1941.0L263.0 1934.4L266.6 1945.7L262.1 1937.6L280.2 1942.6L267.4 1935.5L272.6 1946.7L257.3 1942.8L261.3 1933.8L247.9 1937.2L270.5 1938.1L251.2 1938.0L253.8 1937.0L268.4 1930.7L265.4 1937.9L266.0 1937.7L268.5 1940.3L269.5 1940.0L269.7 1940.0L257.0 1935.3L263.9 1943.6L277.8 1939.3L255.8 1941.1L265.2 1937.2L265.7 1937.9L278.5 1937.0L263.8 1940.7L261.0 1938.6L283.6 1923.5L289.0 1927.6L298.4 1914.5L306.1 1924.9L302.2 1929.1L304.3 1920.0L285.3 1932.5L292.4 1913.0L276.5 1941.7L308.8 1920.9L289.5 1933.2L277.2 1943.6L315.2 1927.3L299.9 1926.3L294.3 1928.9L312.0 1926.0L286.1 1930.4L298.5 1928.9L283.8 1934.5L307.0 1924.3L300.2 1940.8L301.4 1919.0L295.2 1918.6L281.0 1928.1L296.9 1913.8L295.8 1921.7L313.1 1931.2L282.1 1931.7L308.2 1933.7L288.5 1933.9L275.4 1949.1L307.0 1930.2L300.1 1910.0L285.9 1938.4L293.4 1931.9L298.7 1921.2L307.8 1922.2L293.5 1924.6L289.3 1925.4L302.4 1936.8L310.6 1928.6L288.7 1938.4L281.2 1926.0L295.6 1932.2L315.9 1920.6L291.1 1930.5L285.6 1932.7L301.8 1915.7L302.3 1926.7L294.2 1941.3L275.3 1936.6L289.7 1939.2L296.7 1940.6L295.4 1924.6L277.5 1945.2L281.9 1923.4L288.9 1928.2L294.3 1914.6L307.6 1927.5L294.0 1927.2L293.3 1934.8L285.7 1922.5L302.8 1925.7L297.9 1924.1L284.7 1931.3L328.1 1911.3L292.6 1904.3L305.1 1912.5L343.2 1897.2L326.0 1909.3L294.0 1906.8L272.6 1921.5L307.8 1902.6L320.7 1897.1L330.0 1896.4L312.0 1927.5L313.1 1903.8L301.9 1912.1L325.4 1892.4L333.4 1913.5L333.5 1899.4L320.4 1904.9L306.1 1896.2L320.3 1904.0L348.3 1904.9L320.9 1901.5L301.5 1906.1L325.1 1902.6L322.6 1904.8L304.7 1907.4L296.4 1916.7L314.7 1896.2L330.5 1896.2L326.0 1900.3L341.6 1902.5L314.9 1904.1L317.3 1908.2L344.0 1892.0L297.4 1909.1L330.1 1893.6L308.2 1895.3L320.8 1904.7L315.2 1893.3L329.4 1884.8L323.6 1896.1L340.7 1899.3L313.4 1895.9L320.6 1898.5L321.9 1912.1L302.2 1900.0L336.5 1902.6L303.4 1897.5L309.4 1895.3L329.5 1898.0L305.9 1894.1L312.4 1903.6L329.8 1894.0L328.3 1907.1L326.8 1900.6L284.5 1918.4L315.4 1895.2L317.9 1898.1L303.9 1894.1L328.5 1917.6L305.4 1900.1L300.1 1903.4L316.6 1905.1L306.9 1894.8L346.4 1896.4L322.9 1904.0L349.4 1897.5L305.6 1902.2L315.7 1903.5L341.4 1905.2L314.6 1908.5L318.9 1914.4L319.0 1914.8L328.2 1906.3L318.1 1894.1L319.6 1903.5L355.6 1898.8L338.1 1893.7L313.5 1899.2L334.1 1896.8L290.4 1914.8L323.9 1898.4L311.3 1907.2L361.1 1891.1L315.9 1898.8L314.7 1916.4L327.9 1882.9L303.8 1916.8L334.6 1903.2L327.7 1900.0L286.2 1916.2L305.3 1892.7L337.8 1905.6L324.0 1900.8L306.8 1912.4L313.1 1910.3L327.1 1893.4L341.9 1895.1L322.4 1907.8L286.5 1919.7L307.2 1896.9L306.1 1913.5L330.2 1905.7L326.2 1907.8L313.7 1904.7L322.4 1906.5L315.9 1899.2L313.9 1905.3L326.9 1904.6L311.5 1913.1L304.5 1896.7L328.4 1903.2L315.1 1890.9L316.6 1913.4L313.3 1910.7L322.4 1901.6L338.0 1888.2L346.3 1883.8L333.8 1905.7L347.4 1879.4L349.2 1880.8L349.1 1886.3L353.2 1868.3L343.1 1893.8L320.3 1886.2L346.8 1879.3L338.1 1892.7L352.7 1900.2L342.4 1893.6L337.9 1895.7L338.7 1903.3L335.0 1889.3L338.3 1884.6L344.5 1890.2L329.9 1890.2L351.8 1871.4L340.3 1895.3L347.7 1902.3L353.4 1902.6L349.4 1886.3L354.1 1900.2L336.7 1889.4L332.7 1899.9L328.5 1895.6L339.7 1902.6L379.2 1870.8L381.9 1862.8L388.5 1868.9L387.2 1861.2L371.7 1869.4L370.5 1883.8L378.9 1875.3L390.9 1868.0L387.6 1866.2L362.1 1870.4L377.0 1878.8L364.6 1874.2L373.8 1850.1L382.4 1874.0L373.2 1867.7L373.5 1890.5L380.9 1863.1L378.6 1878.1L373.9 1871.3L371.7 1887.3L371.8 1878.6L377.8 1882.2L383.8 1856.3L370.2 1870.0L373.3 1858.2L389.4 1866.4L371.3 1890.6L385.9 1854.9L368.4 1881.3L382.1 1867.1L368.0 1870.9L366.9 1878.1L404.0 1869.5L398.8 1858.8L407.8 1861.3L420.8 1840.7L410.4 1852.3L413.1 1856.8L420.3 1848.2L394.9 1880.5L400.0 1874.6L259.4 1915.5L261.8 1913.1L253.4 1962.2"/>
<path clip-path="url(#s42)" class="lo" d="M248.6 1945.48C252.2 1943.87 263.41 1939.03 270.21 1935.84C277 1932.65 283.36 1930.36 289.38 1926.34C295.39 1922.32 300.34 1916.15 306.29 1911.74C312.24 1907.34 317.12 1904.26 325.08 1899.9C333.03 1895.54 345.18 1890.35 354.01 1885.58C362.84 1880.81 370.05 1876.06 378.06 1871.26C386.08 1866.46 394.54 1861.8 402.12 1856.8C409.69 1851.8 419.97 1843.83 423.54 1841.24"/>
<path clip-path="url(#s43)" class="pt" d="M445.0 1906.7L443.4 1903.9L447.0 1909.1L443.4 1901.7L443.2 1907.2L442.8 1912.3L443.9 1898.3L447.6 1903.8L445.0 1906.1L444.4 1902.5L439.1 1907.7L439.1 1899.5L449.1 1909.1L445.5 1910.3L439.2 1910.2L444.9 1903.9L444.2 1901.8L449.7 1904.3L441.9 1903.0L438.9 1897.9L446.2 1902.8L473.4 1939.7L463.5 1940.9L485.4 1936.6L478.7 1931.1L485.7 1936.2L460.2 1939.2L461.1 1937.9L459.9 1944.4L494.9 1936.3L468.0 1933.8L464.0 1940.4L482.2 1928.4L471.0 1932.6L484.6 1937.8L467.6 1943.6L473.0 1946.4L479.3 1946.5L469.8 1936.2L475.6 1934.4L485.9 1932.7L483.9 1942.1L463.3 1931.6L462.3 1932.3L477.5 1934.2L479.2 1937.8L473.4 1936.2L477.8 1931.5L464.9 1934.3L478.7 1928.7L482.3 1943.4L467.9 1932.9L469.7 1934.9L456.4 1945.7L496.9 1933.2L457.6 1938.6L475.0 1928.5L460.1 1938.3L466.8 1942.5L486.1 1933.9L454.0 1934.2L480.2 1941.8L481.5 1941.7L467.2 1934.0L467.1 1936.9L468.7 1926.9L480.2 1934.5L482.3 1937.0L457.5 1944.3L480.7 1930.5L456.0 1942.2L452.7 1939.1L473.1 1924.9L474.2 1945.7L465.5 1940.5L456.1 1937.2L469.2 1932.6L485.7 1932.2L485.4 1931.2L486.3 1935.9L465.6 1944.2L468.3 1936.8L481.3 1935.4L475.9 1935.8L462.4 1937.1L474.4 1940.0L467.6 1930.9L465.6 1941.4L484.2 1937.8L478.3 1944.9L470.0 1936.7L458.2 1946.2L461.0 1941.3L478.9 1940.3L474.4 1932.5L475.5 1943.8L472.4 1939.5L454.6 1945.5L496.3 1900.7L485.0 1901.0L476.9 1913.6L503.0 1904.0L491.6 1914.2L500.7 1916.1L507.0 1907.8L493.6 1912.9L475.6 1909.9L500.5 1913.9L491.4 1912.4L503.2 1901.8L490.8 1910.4L494.1 1913.3L507.5 1894.9L509.8 1906.4L510.4 1901.3L499.2 1907.4L500.0 1893.9L490.7 1911.9L485.4 1905.0L488.6 1909.7L492.8 1906.6L495.7 1916.8L491.4 1911.0L481.0 1891.7L487.1 1913.9L492.4 1899.5L483.5 1913.6L489.7 1917.6L501.8 1907.9L516.5 1901.4L502.4 1903.6L480.7 1913.3L490.4 1905.5L495.4 1904.0L506.9 1901.9L489.1 1907.9L490.5 1914.4L484.8 1898.0L465.7 1906.2L510.1 1905.5L492.4 1916.3L482.7 1911.3L489.9 1906.7L485.1 1909.2L503.8 1898.8L493.6 1909.7L478.5 1908.5L481.7 1919.5L498.1 1909.5L490.9 1914.9L498.3 1918.6L504.4 1900.5L494.4 1913.7L488.1 1913.4L503.6 1903.7L479.0 1895.9L495.4 1901.0L486.1 1908.3L488.1 1898.5L486.4 1907.2L500.2 1897.8L503.5 1915.6L513.8 1894.5L508.9 1901.2L494.1 1909.6L503.8 1914.0L491.6 1912.5L513.7 1898.6L500.0 1910.3L488.7 1905.6L477.5 1915.3L487.8 1914.7L505.6 1906.8L490.1 1912.5L509.9 1890.6L500.7 1899.6L515.3 1904.0L491.4 1911.9L485.6 1910.8L505.0 1901.7L504.9 1900.5L494.4 1913.7L504.0 1936.2L508.4 1931.5L515.4 1933.4L506.5 1938.9L507.0 1937.4L514.9 1932.1L505.9 1935.4L508.4 1928.8L499.9 1929.8L493.0 1941.5L508.9 1932.7L507.0 1930.4L503.7 1930.4L510.0 1934.9L504.3 1931.6L506.4 1926.8L507.0 1928.9L496.3 1940.9L506.9 1934.9L496.1 1936.8L502.8 1935.1L507.8 1929.1L508.7 1930.1L506.1 1931.3L510.5 1933.1L528.8 1895.2L528.3 1912.2L536.6 1894.0L550.8 1882.9L547.7 1908.0L532.6 1912.2L548.7 1882.8L539.3 1912.0L537.9 1913.5L536.6 1901.9L524.7 1918.3L546.4 1907.4L548.9 1907.9L527.5 1895.3L538.6 1889.7L544.1 1921.9L519.6 1890.8L546.5 1896.1L536.0 1905.9L533.2 1907.3L541.3 1889.5L558.3 1892.8L554.1 1889.1L539.8 1900.1L533.6 1907.6L531.4 1899.8L551.2 1901.4L560.3 1881.8L531.2 1900.6L534.9 1896.7L538.8 1903.4L524.4 1926.8L552.8 1909.0L546.6 1897.6L538.1 1894.4L562.8 1874.5L563.5 1869.8L580.5 1868.3L553.0 1868.3L569.6 1891.1L561.9 1893.7L566.6 1869.3L556.3 1864.6L558.3 1867.0L556.5 1856.2L568.4 1885.3L566.7 1864.7L568.0 1854.7L570.2 1864.7L565.6 1876.6L563.6 1884.6L569.5 1876.0L557.6 1887.9L561.6 1863.0L554.4 1868.3L569.9 1874.3L565.8 1871.1L575.9 1868.8L567.3 1866.3L566.6 1890.3L562.3 1869.1L567.5 1869.9L554.7 1865.5L576.7 1885.3L554.2 1850.8L561.9 1894.3L540.5 1881.7L529.4 1879.2L518.4 1879.2L506.2 1877.4L509.7 1881.0L511.2 1877.8L534.9 1880.7L534.2 1880.5L514.5 1879.9L516.0 1879.8L517.3 1878.6L611.2 1835.3L608.9 1842.0L489.0 1961.7L514.2 1944.3"/>
<path clip-path="url(#s43)" class="lo" d="M433.87 1914.36C436.47 1915.14 443.27 1916.65 449.47 1919.04C455.67 1921.43 465.09 1928.27 471.07 1928.68C477.06 1929.09 480.16 1925.1 485.35 1921.52C490.55 1917.94 496.25 1910.8 502.27 1907.2C508.28 1903.6 514.64 1902.7 521.43 1899.9C528.23 1897.1 535.87 1894.39 543.04 1890.4C550.21 1886.41 556.88 1880.74 564.46 1875.94C572.04 1871.14 580.71 1866.39 588.51 1861.62C596.31 1856.85 607.46 1849.69 611.25 1847.3"/>
<path clip-path="url(#s51)" class="pt" d="M64.8 2063.3L82.0 2065.9L82.4 2064.6L57.4 2062.5L89.6 2068.4L83.2 2065.9L78.8 2065.2L63.8 2065.8L71.1 2063.7L80.5 2066.2L79.0 2063.5L67.0 2066.4L62.2 2064.6L83.8 2065.7L76.0 2065.2L66.3 2065.9L72.3 2065.3L86.3 2067.1L68.3 2067.3L69.4 2061.9L96.5 2065.5L135.9 2071.1L135.8 2070.7L143.9 2070.8L139.3 2083.3L127.4 2078.8L146.5 2069.4L142.7 2079.3L139.7 2082.0L151.9 2079.8L131.4 2068.4L152.9 2062.6L133.0 2075.4L146.2 2081.2L121.7 2065.7L135.5 2080.7L142.3 2078.9L137.3 2070.8L129.8 2074.2L138.6 2073.8L150.3 2075.5L144.5 2075.3L146.3 2077.0L142.8 2056.6L132.1 2075.4L115.7 2065.2L139.6 2071.2L126.5 2069.4L153.8 2076.6L135.1 2073.9L143.7 2064.6L146.9 2078.9L153.7 2070.0L143.3 2074.9L143.4 2074.2L161.4 2062.9L145.4 2078.8L130.6 2078.4L146.1 2074.6L140.8 2072.6L136.5 2079.3L148.0 2074.4L136.2 2078.0L156.0 2076.3L155.8 2080.0L148.5 2070.7L157.7 2075.9L162.3 2070.3L119.5 2063.8L117.3 2062.3L126.5 2078.3L141.2 2078.9L141.1 2078.9L144.9 2071.0L154.2 2072.4L158.6 2077.5L131.8 2071.9L148.6 2076.3L144.0 2069.2L136.6 2082.7L148.1 2068.9L128.0 2073.7L127.7 2069.7L160.8 2067.1L144.8 2072.8L139.3 2078.4L157.4 2063.2L123.5 2060.7L151.3 2073.6L137.5 2070.4L145.3 2081.6L122.3 2063.6L132.4 2074.0L137.3 2021.5L143.7 2039.4L104.4 2049.7L147.7 2050.2L127.4 2051.1L143.8 2042.1L131.9 2047.4L132.6 2041.1L120.3 2037.5L154.7 2048.2L124.6 2049.4L139.8 2023.7L128.6 2058.5L139.5 2038.8L157.4 2041.0L134.1 2037.0L131.6 2032.8L120.4 2030.8L137.4 2041.4L160.0 2020.3L115.8 2056.4L124.2 2029.2L121.5 2043.4L120.6 2053.2L152.9 2052.5L146.5 2036.5L116.0 2039.3L153.2 2045.5L139.1 2038.6L139.7 2037.1L124.6 2033.9L116.3 2053.9L155.7 2045.2L155.7 2047.5L156.0 2030.4L122.4 2054.0L123.0 2041.6L141.3 2048.6L134.8 2034.0L169.8 2048.2L135.1 2056.5L138.9 2052.8L137.6 2048.1L130.5 2027.6L154.7 2036.5L145.8 2054.6L139.0 2051.1L135.5 2046.8L132.0 2035.9L116.9 2052.6L132.2 2040.6L134.2 2038.4L130.4 2039.0L143.0 2040.3L151.8 2041.3L133.9 2046.7L125.1 2036.6L141.8 2039.5L125.5 2044.2L163.3 2017.1L155.6 2021.0L144.5 2019.0L157.0 2017.8L154.1 2021.2L154.8 2012.0L154.6 2022.5L156.5 2019.8L162.6 2021.5L143.2 2025.8L155.5 2026.4L152.8 2016.6L147.8 2025.4L160.3 2031.9L153.7 2012.5L154.6 2015.8L150.5 2022.0L150.6 2026.1L158.9 2029.9L153.0 2018.1L154.4 2026.6L155.2 2012.3L147.9 2021.9L146.0 2024.4L156.4 2022.7L154.0 2022.9L154.9 2024.2L160.3 2034.8L148.6 2018.7L150.5 2031.1L164.5 2017.2L155.5 2022.8L155.1 2026.7L187.3 2019.9L195.3 2011.0L188.3 2018.7L178.8 2019.8L189.0 2017.5L168.6 2014.9L183.2 2024.1L188.0 2003.9L176.4 2027.8L178.9 2015.1L169.3 2027.1L201.6 2018.4L170.7 2017.3L210.8 2006.5L201.7 2008.7L184.3 2022.3L192.0 2009.4L171.7 2016.4L187.2 2026.0L152.7 2035.2L189.7 2015.5L192.0 2016.6L192.0 2003.0L179.0 2024.2L197.0 2018.5L188.2 2017.5L191.0 2011.5L180.1 2025.5L172.3 2030.6L190.0 2022.4L185.2 2020.2L180.9 2024.2L189.5 2024.7L199.5 2020.0L202.2 2003.0L175.4 2021.1L189.5 2013.0L189.8 2025.2L182.3 2014.2L215.8 1976.9L198.8 2000.2L188.6 1998.5L178.8 1993.0L186.9 1998.2L215.8 1991.0L217.0 1990.6L210.5 1993.8L217.4 1989.7L218.7 1985.2L220.5 1975.0L207.7 1976.2L214.0 1995.6L213.6 2004.7L190.2 1988.2L226.0 1987.5L221.7 1975.1L213.6 1981.1L205.9 1996.1L207.9 1983.3L204.6 1972.5L199.5 1995.6L237.6 1975.0L205.4 1976.8L214.9 1998.1L187.5 1983.5L213.4 1978.9L216.3 1983.0L227.3 1976.5L203.7 1997.2L232.9 1976.7L218.8 1981.9L187.5 2004.9L184.7 1999.2L216.1 1984.8L204.2 1999.5L225.0 1989.6L217.3 1982.6L207.1 1997.6L197.7 1997.0L223.6 1985.5L208.9 1977.8L201.5 1986.9L211.4 1993.5L214.2 1993.1L196.3 1984.1L84.3 2091.3L113.3 2103.8L94.3 2091.7L98.0 2090.6L125.9 2100.1L96.9 2098.0L98.0 2084.9L107.9 2086.0L98.8 2094.9L111.9 2088.4L127.3 2096.8L111.2 2086.5L120.7 2091.2L87.6 2097.0L125.4 2103.3L101.7 2103.8L99.6 2097.3L112.9 2089.7L103.6 2084.5L124.7 2101.6"/>
<path clip-path="url(#s51)" class="lo" d="M59.39 2066.38C63.36 2065.99 76.08 2064.64 83.25 2064.04C90.42 2063.44 95.62 2063.4 102.41 2062.8C109.21 2062.2 118.04 2061.26 124.02 2060.46C130 2059.66 133.1 2061.38 138.3 2057.98C143.5 2054.58 150.39 2045.47 155.21 2040.08C160.04 2034.69 161.67 2030.42 167.24 2025.62C172.81 2020.82 181.46 2015.68 188.66 2011.3C195.86 2006.92 202.85 2004.12 210.46 1999.32C218.07 1994.52 230.34 1985.32 234.32 1982.52"/>
<path clip-path="url(#s52)" class="pt" d="M258.4 2048.1L259.8 2040.4L252.4 2038.8L256.9 2045.0L253.0 2032.7L266.9 2039.6L259.0 2048.9L261.5 2036.6L262.5 2042.9L253.0 2041.6L264.1 2041.3L256.9 2041.3L252.5 2045.4L259.3 2042.6L266.8 2035.4L259.8 2041.1L259.5 2042.1L253.1 2037.7L257.4 2046.0L250.4 2035.8L250.5 2036.8L250.2 2034.3L261.0 2036.9L259.1 2039.1L262.9 2042.7L306.3 2024.7L314.8 2025.4L268.6 2014.0L265.3 2031.1L280.4 2005.8L296.4 2011.3L300.2 2002.9L289.7 2007.0L294.7 2013.7L322.1 2019.0L298.4 2018.9L310.2 2009.7L299.5 2011.1L280.1 1991.4L264.6 2025.7L288.8 2013.2L279.7 2018.1L279.3 2004.8L324.3 2008.7L295.0 2018.7L315.8 1998.1L295.8 2002.2L333.2 2005.1L304.4 2019.8L293.6 2027.7L266.0 2009.8L299.8 2019.5L285.6 2022.3L284.7 2012.1L262.0 2006.1L280.1 2027.3L271.8 1988.1L280.5 2008.1L303.1 2011.6L261.6 2019.5L276.1 2024.6L316.1 2018.6L301.3 2008.7L298.4 2023.0L291.6 2035.3L283.0 2009.6L274.9 2009.5L317.6 2001.9L267.9 2014.8L266.8 2024.4L312.6 2005.4L270.4 2027.7L253.9 2016.5L257.4 2016.7L275.2 2006.4L299.4 2018.2L264.3 2017.4L283.2 2016.4L309.0 2013.4L283.8 2017.8L295.6 2020.9L321.0 2003.2L307.0 1996.7L313.0 2018.9L324.9 2022.8L275.6 2008.9L286.5 1991.1L276.4 2023.1L284.4 2011.3L282.4 2022.9L305.8 2008.0L297.0 2020.4L300.5 2008.2L293.3 2008.9L315.4 2007.4L328.2 2015.1L273.9 2008.6L279.0 2030.4L267.8 2018.4L292.9 2008.9L280.6 2027.6L299.8 2015.9L280.8 2018.5L257.3 2009.7L253.5 2011.1L278.3 2002.6L301.5 2004.7L285.8 2033.3L306.5 2011.6L318.7 2011.6L337.7 2020.4L294.3 2026.0L295.6 2017.7L255.2 2007.5L300.0 2032.7L307.0 2013.6L299.1 2006.5L294.8 2015.9L330.1 2007.6L298.6 2009.1L341.9 2011.9L282.0 2000.4L302.5 2011.1L271.4 2008.7L287.2 2047.2L320.5 2044.3L303.9 2061.9L315.3 2052.7L319.6 2053.2L306.6 2044.5L323.0 2047.5L278.6 2051.8L336.1 2058.6L292.1 2056.1L326.5 2046.5L284.7 2038.4L308.0 2056.4L290.4 2040.9L296.0 2043.5L289.0 2037.7L295.2 2050.6L294.3 2047.8L312.0 2048.1L313.4 2051.9L328.8 2071.2L293.2 2054.8L285.2 2054.5L272.4 2048.1L292.1 2048.8L337.1 2056.4L279.2 2048.1L287.5 2046.3L287.1 2050.7L309.6 2041.4L285.7 2059.8L298.6 2044.2L331.3 2053.1L273.3 2047.0L329.4 2074.9L293.5 2037.9L296.6 2033.3L280.8 2050.4L281.8 2048.5L288.6 2060.8L289.6 2051.3L327.7 2036.0L314.3 2057.8L307.0 2042.6L312.6 2044.7L298.0 2054.0L290.3 2050.2L280.6 2053.9L300.2 2039.9L315.4 2072.1L309.0 2060.6L301.4 2059.4L317.4 2068.5L309.5 2066.9L312.8 2069.5L321.6 2074.5L315.4 2061.6L319.2 2074.6L306.5 2063.8L313.0 2067.8L309.0 2062.4L326.7 2081.0L313.7 2075.6L312.9 2065.8L314.9 2063.9L305.5 2063.6L327.7 2061.1L324.4 2068.7L309.6 2057.8L337.8 2079.1L312.8 2066.0L307.6 2067.1L315.3 2078.5L319.4 2077.4L308.1 2067.5L314.3 2060.2L342.0 2086.0L320.2 2068.6L312.9 2058.5L323.0 2069.6L317.0 2068.9L303.1 2061.8L318.4 2071.5L318.9 2074.5L320.2 2073.3L309.1 2063.6L321.2 2075.9L317.8 2068.0L325.3 2075.3L315.7 2068.6L319.4 2066.6L312.1 2061.9L315.4 2072.4L312.1 2065.0L323.8 2066.7L312.0 2067.8L308.5 2065.3L325.6 2071.5L318.9 2075.4L320.1 2075.2L318.0 2076.2L329.5 2063.2L326.9 2075.1L342.5 2082.2L321.4 2074.7L312.8 2066.6L313.1 2067.1L318.3 2071.8L318.0 2065.4L332.5 2073.5L320.0 2074.7L321.9 2067.9L319.2 2062.9L375.8 2061.6L365.1 2092.7L377.1 2096.1L366.2 2087.6L358.3 2070.7L364.9 2080.4L372.0 2090.4L367.0 2100.3L368.8 2081.4L356.7 2103.8L363.3 2076.9L371.2 2085.2L377.4 2060.9L371.6 2090.5L372.8 2095.7L368.3 2077.4L357.2 2093.8L359.2 2086.2L365.6 2083.7L377.1 2062.4L365.5 2086.3L377.6 2103.8L362.3 2081.6L361.7 2065.7L367.1 2081.9L348.2 1997.7L389.3 2001.5L399.1 1984.1L372.4 1977.6L344.5 1989.2L379.6 1992.8L372.8 1987.7L425.0 1993.6L383.1 1975.5L406.8 1978.5L410.4 1988.6L377.5 1993.3L414.8 1998.5L365.0 1997.1L373.0 1986.0L427.2 1995.5L378.6 1994.7L400.5 1973.9L406.9 1986.1L389.0 1977.0L364.6 1982.6L427.5 1997.0L392.8 1969.9L377.1 1990.9L374.0 1993.5"/>
<path clip-path="url(#s52)" class="lo" d="M248.6 2032.92C252.2 2032.99 263.41 2033.26 270.21 2033.33C277 2033.4 283.77 2032.21 289.38 2033.33C294.98 2034.46 299.05 2036.96 303.84 2040.08C308.63 2043.2 313.74 2049.08 318.12 2052.06C322.51 2055.04 326.17 2057.98 330.15 2057.98C334.13 2057.98 336.01 2055.04 341.99 2052.06C347.97 2049.08 358.02 2044.88 366.04 2040.08C374.06 2035.28 380.51 2029.87 390.09 2023.28C399.67 2016.69 417.96 2004.35 423.54 2000.56"/>
<path clip-path="url(#s53)" class="pt" d="M447.0 2065.0L447.8 2060.6L439.7 2065.1L438.6 2068.4L436.9 2069.9L443.6 2062.3L447.3 2060.3L448.5 2062.0L453.0 2065.3L435.0 2076.6L446.5 2061.3L441.2 2068.8L437.5 2065.2L436.0 2071.6L442.0 2067.7L437.9 2065.9L434.0 2074.7L451.4 2066.8L442.3 2068.5L467.5 2045.3L481.1 2049.2L470.5 2043.0L496.6 2047.2L481.3 2052.8L474.9 2047.4L477.5 2050.9L460.3 2050.1L487.4 2047.4L472.5 2062.5L496.6 2050.3L477.3 2046.1L480.2 2048.7L470.6 2055.6L468.0 2045.8L493.2 2043.9L479.0 2047.7L489.0 2044.4L481.7 2051.5L499.8 2055.2L473.8 2055.1L477.9 2050.7L472.5 2049.1L461.5 2048.0L484.2 2062.1L494.5 2048.8L479.9 2037.2L463.3 2048.1L477.4 2041.8L477.4 2060.0L477.3 2042.0L478.1 2049.1L492.5 2055.0L477.1 2044.9L468.5 2053.7L491.9 2042.8L479.3 2046.7L459.4 2048.4L459.2 2047.1L474.1 2045.3L480.2 2045.2L485.5 2043.0L477.5 2047.9L471.1 2048.8L494.0 2044.6L494.0 2058.4L471.7 2062.8L486.6 2045.3L472.7 2042.9L488.0 2046.9L474.7 2048.8L486.3 2050.8L470.9 2058.6L474.8 2055.1L481.0 2023.2L487.4 2031.1L464.9 2034.1L484.1 2020.7L483.1 2026.7L492.7 2032.8L482.9 2039.5L492.9 2019.9L495.8 2028.7L477.7 2020.6L476.5 2020.8L485.2 2027.4L483.4 2033.4L489.5 2024.7L469.6 2034.6L469.4 2044.7L476.8 2026.7L472.5 2014.5L471.0 2037.3L484.3 2024.7L497.1 2024.3L477.3 2015.5L479.4 2021.4L478.4 2016.4L488.4 2020.9L489.4 2036.3L470.4 2029.9L486.2 2027.6L488.5 2029.0L479.0 2012.3L466.7 2015.3L483.1 2026.0L489.8 2034.8L483.2 2008.1L494.5 2016.6L482.5 2030.6L472.1 2021.9L485.2 2029.3L481.0 2037.1L496.4 2036.6L475.6 2021.2L467.3 2046.8L488.3 2024.5L466.8 2048.4L470.9 2042.1L485.1 2031.4L495.3 2033.2L512.0 2015.4L519.1 2006.9L515.4 2019.5L510.4 2013.2L506.5 2024.8L508.6 2014.5L515.0 2013.0L503.2 2016.3L522.9 2017.4L505.7 2023.1L494.4 2005.9L507.3 2008.4L524.5 2020.6L517.2 2016.9L509.9 2013.8L492.7 2015.7L497.7 2011.9L514.3 2012.5L502.8 2013.9L495.0 2012.6L516.3 2016.4L505.7 2010.0L508.8 2018.1L523.0 2019.1L517.5 2020.6L520.1 2015.1L490.0 2015.6L520.6 2014.8L504.4 2007.1L507.0 2020.5L507.6 2011.2L520.2 2021.7L503.7 2007.1L493.5 2014.1L511.4 2008.5L497.6 2014.5L511.8 2009.3L519.4 2012.9L519.8 2004.5L498.4 2019.8L523.7 2065.3L499.4 2073.2L480.2 2068.0L496.0 2065.8L482.9 2064.7L498.7 2068.6L504.6 2075.0L508.9 2073.9L503.9 2083.3L505.5 2066.1L504.5 2072.0L510.1 2071.5L495.5 2067.6L491.7 2074.0L501.8 2071.1L490.3 2073.1L487.1 2072.7L517.7 2073.3L498.3 2069.1L501.2 2067.7L519.4 2072.1L489.3 2069.5L511.4 2062.4L498.8 2063.1L515.1 2070.3L514.7 2072.1L500.8 2079.3L504.8 2082.1L508.2 2065.6L510.6 2072.7L498.3 2080.3L485.4 2066.5L506.9 2073.5L501.8 2064.6L509.1 2067.7L504.6 2082.5L496.7 2066.9L504.0 2074.9L489.0 2066.9L497.7 2072.5L510.6 2074.1L488.3 2069.1L490.8 2078.2L515.1 2072.3L498.5 2076.0L492.7 2072.6L499.9 2060.7L509.4 2079.5L504.6 2072.5L506.9 2078.7L486.1 2069.9L515.1 2073.0L506.4 2064.2L523.6 2062.7L495.9 2065.6L506.9 2071.3L506.8 2069.7L505.5 2071.7L502.5 2076.1L513.4 2068.9L570.3 1976.0L549.9 1998.1L560.4 1983.8L555.6 1996.2L548.2 1987.3L574.0 1978.7L552.6 2005.4L570.7 1989.9L541.4 2000.4L547.8 1996.8L555.1 1988.6L545.8 2008.7L555.1 1996.8L567.9 1982.1L561.1 1982.4L553.0 2005.0L569.4 2004.5L547.2 1980.1L562.6 1988.7L533.0 2014.0L564.3 1996.8L588.9 1981.4L550.2 1982.1L547.5 1982.4L564.3 1992.8L556.8 2004.0L549.0 2009.7L564.4 1991.3L556.6 1991.9L564.4 1986.7L574.1 2003.7L541.9 2001.9L548.3 1975.5L556.0 2003.9L562.8 1986.3L587.0 1993.5L564.1 1988.4L544.9 1975.7L563.9 1994.4L555.8 1981.0L558.0 2004.1L555.7 1992.6L559.8 1994.9L550.0 1983.4L549.4 1982.1L565.1 1976.3L541.0 2000.7L481.4 2089.1L511.0 2086.5L524.5 2086.8L467.6 2095.0L516.4 2089.4L512.5 2080.8L508.8 2088.7L534.3 2096.7L506.9 2101.6L488.5 2086.5L539.4 2098.1L525.8 2101.9L519.2 2090.1L499.8 2086.7L518.7 2088.9L525.2 2090.2L470.2 2098.7L479.4 2098.6L528.0 2085.7L566.9 2023.8L610.1 1980.2L608.9 1984.5"/>
<path clip-path="url(#s53)" class="lo" d="M435.19 2067.62C438.38 2065.81 447.18 2060.53 454.35 2056.74C461.52 2052.95 471.45 2046.28 478.21 2044.9C484.98 2043.52 490.15 2048.09 494.94 2048.48C499.73 2048.87 502.55 2049.83 506.96 2047.24C511.38 2044.65 516.23 2038.11 521.43 2032.92C526.63 2027.73 532.58 2021.33 538.15 2016.12C543.73 2010.91 548.9 2007.05 554.88 2001.66C560.86 1996.27 567.25 1989.34 574.04 1983.76C580.84 1978.18 592.05 1970.79 595.65 1968.2"/>
<path clip-path="url(#s54)" class="pt" d="M681.9 2024.7L675.3 2018.9L688.5 2009.0L652.3 2027.4L685.1 2020.8L661.0 2012.2L672.4 2018.8L661.3 2013.5L664.8 2014.3L652.1 2013.9L668.5 2029.1L683.4 2023.8L662.1 2022.4L665.4 2020.5L673.0 2020.5L677.5 2032.3L661.4 2027.2L655.6 2012.6L675.1 2015.2L668.0 2021.0L661.7 2017.7L673.7 2018.3L665.0 2009.0L671.0 2034.0L652.2 2024.9L667.4 2018.5L668.0 2019.9L681.0 2030.7L677.8 2017.7L676.4 2018.3L681.4 2017.9L668.8 2014.8L665.6 2020.7L664.8 2020.5L673.4 2030.9L661.1 2018.0L674.8 2029.8L675.0 2025.3L677.1 2014.5L688.0 2023.7L678.4 2029.3L675.4 2023.2L670.4 2023.8L668.9 2035.9L657.0 2040.0L671.1 2039.2L676.2 2047.0L664.0 2052.7L656.9 2048.7L662.7 2044.5L664.2 2065.4L635.6 2045.6L668.0 2051.0L656.7 2058.3L651.4 2053.4L663.9 2053.0L648.4 2047.2L664.3 2046.3L660.0 2055.2L656.4 2063.9L661.4 2045.3L652.6 2045.5L652.2 2059.0L657.5 2040.5L662.2 2060.3L658.3 2053.7L664.6 2056.1L656.6 2040.3L665.0 2054.0L652.6 2049.4L654.2 2051.1L660.9 2052.8L653.8 2053.7L658.5 2037.7L664.9 2049.2L660.4 2054.4L668.2 2058.3L629.9 2052.0L672.2 2041.7L663.1 2051.7L656.0 2060.0L658.6 2051.1L650.6 2052.8L665.0 2049.0L668.5 2042.2L661.4 2038.0L646.9 2043.4L662.5 2056.0L659.2 2056.8L660.8 2050.5L660.9 2067.0L659.1 2056.2L650.8 2060.6L655.8 2051.2L660.0 2048.7L660.3 2069.7L656.0 2058.1L672.5 2038.4L698.9 2010.9L720.5 2012.4L695.8 2011.4L704.6 2008.8L701.4 1987.3L707.8 2010.9L714.7 2016.0L713.6 2005.9L712.5 2005.4L720.2 1995.9L700.4 2010.4L699.9 2029.0L701.3 2017.2L715.0 2013.9L708.8 2017.2L708.8 2023.1L690.6 2011.7L720.8 2022.3L698.7 2001.7L719.4 2001.9L717.0 2000.5L715.1 2009.5L694.0 1991.7L703.0 2012.7L698.5 2025.1L702.5 2021.0L718.9 2017.5L712.4 2007.1L701.8 2024.3L728.1 2015.8L704.6 2014.0L708.3 2017.6L696.3 2000.7L708.4 2000.8L704.9 2021.1L706.7 2006.3L690.9 2012.0L704.4 2020.6L694.3 2018.7L710.2 2009.7L702.2 2030.3L717.5 2008.7L694.4 2007.1L701.7 2000.5L704.2 1986.8L713.5 2017.8L710.9 2001.3L703.8 2014.2L698.0 2006.6L698.1 2072.0L721.3 2067.6L687.2 2062.6L705.6 2064.3L697.5 2067.2L695.0 2066.7L693.3 2061.6L702.9 2064.6L693.5 2069.3L681.0 2069.9L704.9 2070.4L699.3 2069.8L709.7 2064.6L716.4 2065.2L699.2 2064.3L695.0 2071.2L712.1 2071.5L695.7 2072.1L707.4 2061.3L702.7 2068.9L712.1 2069.0L702.0 2066.4L708.8 2072.7L696.5 2073.4L714.6 2062.3L698.3 2071.5L694.1 2067.2L695.8 2072.2L706.1 2066.4L707.4 2069.7L726.0 2068.0L700.6 2072.4L680.9 2067.9L719.6 2065.9L712.2 2059.7L692.1 2065.0L700.9 2066.6L695.8 2060.0L710.4 2064.9L715.2 2070.0L705.7 2065.7L698.1 2066.5L703.4 2071.4L705.0 2067.3L697.7 2069.2L696.4 2067.2L703.4 2066.7L681.8 2066.9L706.7 2063.5L686.5 2068.4L735.7 2061.9L698.0 2063.6L693.8 2073.8L688.3 2072.7L678.7 2062.8L695.3 2073.6L705.1 2061.7L697.6 2062.0L680.0 2074.8L693.2 2071.0L717.1 2064.9L704.8 2071.9L691.7 2074.6L719.7 2061.2L703.5 2064.7L717.5 2064.2L697.3 2070.6L694.8 2065.0L696.1 2066.0L724.3 2068.4L698.4 2073.9L696.2 2062.6L719.2 2072.4L710.0 2044.8L699.1 2036.6L719.4 2054.6L696.6 2053.3L705.4 2033.4L703.3 2056.8L734.0 2048.9L691.0 2036.3L695.9 2034.2L718.0 2050.0L711.4 2037.6L720.8 2045.4L705.9 2046.0L723.0 2029.9L718.6 2031.2L709.9 2037.0L722.9 2047.1L712.5 2048.2L694.5 2038.9L718.1 2040.5L718.4 2042.3L716.3 2041.9L690.4 2037.5L715.5 2052.2L718.2 2030.5L690.8 2057.6L717.4 2046.7L772.6 1994.3L802.9 2011.3L754.9 1991.0L768.7 1988.5L783.6 1996.2L771.8 1982.8L754.3 1998.9L759.9 1992.4L769.9 1978.6L803.3 1969.9L754.9 1992.5L757.7 1993.5L776.5 2000.2L797.2 1997.9L763.5 1982.8L771.9 1984.6L749.3 1982.2L765.2 1996.7L792.4 1989.0L771.3 1983.9L762.8 1980.5L754.4 2005.1L756.4 2081.7L742.4 2090.3L769.2 2070.4L739.5 2088.9L751.4 2073.4L722.0 2085.3L729.8 2079.6L744.4 2083.5L759.1 2077.6L742.6 2089.5L723.1 2072.0L743.1 2081.7L752.1 2090.4L753.2 2079.1L742.6 2079.6L624.4 2017.3L649.6 1987.4L649.6 1998.1L683.2 1987.4"/>
<path clip-path="url(#s54)" class="lo" d="M624.4 2025.62C628 2026.63 638.4 2029.68 646.01 2031.68C653.62 2033.68 662.86 2035.01 670.06 2037.6C677.26 2040.19 683.24 2044.83 689.23 2047.24C695.21 2049.65 701.16 2052.45 705.95 2052.06C710.74 2051.67 713.18 2048.89 717.97 2044.9C722.77 2040.91 729.09 2033.7 734.7 2028.1C740.3 2022.5 744.81 2017.29 751.61 2011.3C758.4 2005.31 767.71 1998.95 775.47 1992.16C783.24 1985.37 794.42 1974.14 798.21 1970.54"/>
<path clip-path="url(#s61)" class="pt" d="M74.2 2234.3L75.6 2231.1L65.9 2233.5L86.7 2224.4L68.8 2235.6L68.8 2234.1L67.2 2229.7L79.3 2228.7L68.3 2236.5L68.6 2235.0L73.3 2230.9L75.6 2230.6L70.6 2229.6L63.7 2229.0L73.3 2230.4L75.5 2232.6L62.4 2234.1L71.5 2227.2L74.9 2232.6L72.8 2230.4L74.0 2225.1L72.2 2233.0L65.3 2237.9L82.9 2218.8L85.4 2210.6L84.7 2210.4L102.9 2208.0L110.7 2201.1L96.2 2210.8L107.9 2200.9L109.5 2193.9L106.4 2205.9L121.8 2205.7L107.7 2201.6L94.6 2212.3L116.8 2203.6L114.8 2209.4L110.1 2213.1L112.6 2200.3L114.2 2204.1L111.9 2201.5L106.3 2197.6L110.3 2207.0L110.7 2209.5L115.2 2201.1L111.4 2202.1L112.1 2199.6L122.7 2207.7L106.7 2210.7L114.5 2193.8L100.2 2211.1L111.1 2203.3L115.3 2201.8L112.8 2198.5L109.1 2205.9L94.9 2208.0L107.5 2202.6L138.8 2188.8L150.4 2180.9L148.6 2188.6L142.9 2196.6L137.7 2202.4L162.5 2189.9L133.2 2205.6L151.3 2178.3L155.8 2190.6L156.0 2178.1L128.0 2196.6L149.7 2186.6L142.6 2199.0L132.6 2196.6L133.3 2189.5L136.9 2197.2L124.2 2204.4L147.3 2195.1L138.5 2188.5L142.0 2196.5L152.0 2186.5L130.3 2192.5L144.3 2188.4L167.5 2185.7L159.4 2185.6L131.4 2190.7L143.9 2180.9L122.1 2211.9L135.7 2195.1L141.6 2180.9L152.8 2182.3L149.7 2184.8L151.0 2194.7L159.1 2190.6L145.1 2200.5L149.3 2183.3L150.9 2190.7L142.6 2189.6L142.1 2183.1L155.9 2180.5L143.9 2183.9L133.7 2195.9L158.2 2194.9L138.2 2185.1L137.6 2195.4L151.1 2184.8L162.2 2193.4L142.9 2182.4L160.4 2189.3L150.2 2194.9L134.3 2195.2L153.2 2183.9L158.7 2184.4L143.3 2209.6L143.8 2201.1L141.3 2195.5L136.7 2194.4L166.5 2169.3L141.0 2194.8L160.8 2187.6L135.6 2201.4L137.2 2199.7L160.0 2196.0L133.0 2200.1L126.9 2207.2L163.6 2178.8L163.4 2176.1L120.9 2212.4L166.7 2188.1L138.4 2189.3L153.8 2186.6L141.3 2186.1L147.3 2200.9L138.0 2191.6L147.1 2183.5L140.6 2194.8L146.2 2189.4L145.0 2196.8L133.4 2196.3L147.6 2192.9L140.7 2191.9L142.8 2197.9L152.1 2184.2L139.6 2202.7L139.7 2191.4L146.8 2179.1L123.5 2210.3L137.6 2183.2L162.6 2173.7L141.5 2188.2L141.8 2203.0L161.1 2193.0L148.3 2183.2L145.4 2186.0L131.4 2198.2L139.8 2197.5L139.8 2185.8L156.8 2190.9L141.9 2190.2L140.2 2201.6L148.0 2178.5L147.9 2194.8L147.8 2192.6L147.8 2189.2L140.3 2204.1L145.4 2182.2L150.3 2197.4L147.7 2188.3L152.2 2191.4L155.1 2197.7L158.7 2182.9L130.7 2195.4L160.0 2181.5L154.8 2182.5L131.6 2186.4L166.0 2185.2L145.8 2195.9L151.1 2197.8L143.3 2184.1L143.0 2182.2L145.9 2175.2L131.4 2160.6L136.6 2157.7L111.1 2161.1L117.6 2170.8L121.7 2161.4L152.0 2164.8L120.9 2167.0L123.0 2169.9L145.5 2164.2L116.3 2168.5L150.9 2165.4L150.7 2165.7L135.4 2163.9L129.7 2162.1L130.4 2168.2L150.4 2165.2L127.9 2160.5L134.9 2172.9L142.7 2164.5L181.3 2185.7L177.9 2178.7L195.9 2169.0L173.2 2175.0L187.6 2175.5L173.5 2177.9L179.9 2175.0L182.2 2186.6L180.3 2174.2L190.4 2173.4L191.4 2173.8L191.1 2176.1L171.5 2174.9L184.3 2184.9L194.0 2174.1L206.8 2166.6L170.6 2181.9L161.9 2183.2L179.8 2179.1L169.9 2181.4L175.9 2176.7L177.9 2179.2L187.1 2177.2L169.1 2183.5L188.1 2182.1L175.0 2181.0L183.6 2177.8L181.4 2186.6L199.0 2172.7L177.6 2174.6L182.4 2186.4L188.7 2182.8L195.2 2171.4L173.7 2184.4L183.6 2179.6L180.2 2180.5L183.7 2179.1L165.4 2179.6L184.6 2178.3L203.9 2163.4L181.3 2145.6L198.4 2147.2L194.7 2172.0L174.9 2163.0L193.3 2151.4L203.8 2144.5L194.0 2152.5L168.2 2147.8L195.4 2167.7L239.6 2136.1L190.1 2154.1L223.7 2155.2L203.7 2154.2L216.3 2152.1L200.3 2150.8L191.3 2150.3L207.4 2159.0L237.5 2147.3L197.7 2143.8L176.1 2157.0L218.9 2153.0L174.9 2169.8L208.7 2132.8L217.6 2154.1L204.2 2168.5L201.8 2139.4L200.1 2154.6L207.7 2158.1L185.4 2167.5L190.5 2161.7L212.9 2146.9L198.5 2138.8L194.4 2140.9L197.8 2152.6L189.1 2157.6L211.1 2153.3L202.1 2152.3L188.8 2152.9L203.7 2149.4L201.9 2149.6L231.2 2143.1L214.1 2151.4L206.4 2164.1L196.0 2153.9L194.4 2155.6L179.0 2160.2L187.4 2158.4L215.7 2156.5L215.1 2110.7L219.4 2110.7"/>
<path clip-path="url(#s61)" class="lo" d="M59.39 2237.68C62.58 2235.68 71.38 2230.11 78.55 2225.7C85.72 2221.29 94.43 2215.83 102.41 2211.24C110.4 2206.65 118.48 2201.56 126.47 2198.16C134.45 2194.76 143.94 2192.86 150.33 2190.86C156.72 2188.86 158.41 2188.96 164.8 2186.18C171.19 2183.4 180.67 2179 188.66 2174.2C196.65 2169.4 204.73 2162.59 212.71 2157.4C220.7 2152.21 232.6 2145.47 236.58 2143.08"/>
<path clip-path="url(#s62)" class="pt" d="M256.2 2192.6L260.1 2196.2L257.3 2205.1L247.2 2209.4L254.7 2198.5L252.4 2209.3L255.7 2194.8L260.1 2204.8L257.8 2207.7L253.9 2202.7L274.1 2203.5L268.0 2206.3L259.6 2201.5L259.8 2204.9L245.0 2209.2L256.7 2195.7L260.8 2202.2L250.4 2195.5L259.4 2197.3L259.6 2206.9L254.1 2199.4L267.2 2201.5L260.5 2202.2L261.1 2203.7L261.5 2200.1L260.7 2204.6L253.9 2204.3L250.8 2210.0L253.5 2196.2L247.6 2209.0L248.3 2196.0L246.9 2207.1L262.3 2199.6L255.2 2202.9L261.4 2199.4L255.0 2198.7L260.9 2199.5L247.5 2195.6L304.7 2195.9L307.9 2180.9L321.0 2203.3L305.6 2201.6L298.0 2184.9L339.4 2190.2L306.5 2188.6L332.8 2195.2L325.0 2197.6L312.1 2204.7L326.4 2194.6L328.2 2188.2L269.3 2200.2L320.3 2185.5L303.4 2180.3L282.4 2190.8L316.8 2199.7L309.0 2201.4L306.4 2191.7L283.3 2189.8L314.5 2185.4L336.1 2188.5L315.4 2184.5L318.2 2180.3L324.0 2192.2L314.5 2179.7L338.2 2188.2L341.8 2171.0L286.9 2211.7L331.1 2191.0L321.0 2193.4L311.8 2198.4L289.9 2179.7L300.8 2199.9L307.2 2185.0L304.3 2191.4L324.5 2191.5L284.1 2201.1L330.4 2183.2L289.2 2197.9L315.1 2194.4L271.0 2199.7L318.0 2193.1L323.2 2185.1L328.2 2196.5L316.6 2204.5L299.2 2192.4L295.9 2200.5L302.0 2204.3L325.6 2194.3L351.7 2191.6L316.6 2200.2L314.0 2194.9L311.3 2200.6L301.3 2179.5L324.9 2194.1L300.9 2185.9L303.0 2200.7L314.3 2188.1L308.9 2189.0L307.6 2193.8L310.5 2174.9L300.5 2197.8L294.8 2197.5L312.2 2196.7L291.7 2189.4L318.1 2186.4L317.0 2191.9L337.4 2190.4L306.1 2190.8L337.8 2176.3L295.5 2199.6L318.9 2193.2L313.8 2181.1L318.9 2196.7L329.6 2197.6L304.3 2202.0L315.4 2182.1L328.2 2205.2L300.0 2188.8L295.7 2200.4L312.1 2191.3L271.5 2180.6L303.5 2178.8L322.3 2191.8L311.6 2193.8L296.3 2184.0L315.7 2191.6L308.5 2197.5L296.4 2185.8L306.4 2178.1L344.5 2190.3L342.6 2201.0L342.3 2187.4L319.3 2200.8L294.9 2187.3L291.7 2194.7L299.9 2204.2L301.7 2200.9L309.1 2201.3L308.8 2196.2L297.4 2201.3L301.1 2172.2L318.4 2180.5L299.2 2195.5L297.8 2186.4L306.8 2196.0L315.7 2191.8L301.8 2196.1L323.5 2190.4L312.4 2197.3L339.9 2185.3L312.0 2183.2L314.9 2185.2L322.2 2196.5L333.4 2189.9L299.8 2191.9L333.1 2194.9L322.3 2200.4L317.9 2184.6L300.7 2197.8L311.4 2203.6L322.0 2188.4L313.8 2185.3L323.1 2189.6L312.4 2191.0L319.0 2185.3L339.5 2193.7L304.8 2177.5L278.3 2165.9L271.2 2166.7L296.0 2152.6L271.6 2157.6L296.7 2156.9L315.0 2158.9L268.2 2180.9L302.3 2159.4L275.1 2148.0L260.1 2160.4L278.8 2154.1L295.0 2150.3L301.7 2157.9L308.2 2167.3L314.5 2180.2L283.0 2161.2L290.6 2159.5L296.3 2150.1L290.5 2161.7L288.2 2154.7L316.7 2170.6L286.8 2143.4L271.8 2154.0L263.7 2154.1L329.2 2172.1L296.6 2146.8L262.3 2152.4L290.4 2148.9L278.2 2165.5L287.6 2145.6L300.5 2146.4L295.6 2150.7L310.7 2153.2L303.5 2158.8L272.5 2161.1L279.5 2153.7L298.3 2163.6L322.1 2184.5L293.4 2153.5L280.0 2155.7L323.4 2181.9L287.9 2140.0L306.0 2166.9L331.6 2171.2L304.7 2158.0L260.3 2157.7L258.5 2160.7L290.1 2154.0L267.7 2168.8L314.0 2151.3L299.3 2146.7L288.5 2163.0L295.3 2150.4L333.1 2185.3L314.1 2232.7L296.2 2234.2L298.5 2224.7L314.3 2231.3L305.0 2233.1L303.6 2233.3L319.1 2231.3L305.2 2229.7L311.5 2228.5L306.8 2229.5L316.7 2229.6L296.4 2228.6L318.0 2230.7L309.6 2229.5L304.7 2233.1L312.3 2232.2L308.5 2225.8L311.2 2231.1L308.4 2227.8L323.8 2230.0L353.2 2174.8L343.4 2183.1L365.9 2158.7L347.4 2178.5L352.7 2170.6L355.6 2180.9L351.4 2178.3L345.0 2181.2L356.7 2175.3L349.1 2167.9L342.0 2190.5L353.4 2175.6L358.0 2174.2L348.9 2181.8L365.2 2177.9L351.9 2176.0L359.1 2181.4L367.5 2172.5L351.7 2180.9L359.8 2174.3L390.4 2157.4L387.0 2145.3L394.3 2142.9L370.9 2155.8L358.5 2128.9L377.3 2153.6L379.4 2153.5L371.6 2157.2L369.3 2157.6L361.9 2153.1L353.4 2149.4L377.8 2143.5L372.7 2154.3L370.3 2155.3L382.9 2149.0L351.5 2128.7L373.1 2158.5L384.2 2153.5L372.7 2157.3L386.1 2144.3L374.7 2153.9L390.9 2152.5L369.8 2158.0L370.2 2148.3L415.2 2110.7L422.4 2110.7"/>
<path clip-path="url(#s62)" class="lo" d="M248.6 2200.5C252.2 2199.7 263.41 2197.29 270.21 2195.68C277 2194.07 282.99 2191.85 289.38 2190.86C295.76 2189.87 302.15 2190.03 308.54 2189.76C314.93 2189.48 322.1 2190.4 327.71 2189.21C333.31 2188.02 336.57 2186.32 342.17 2182.6C347.78 2178.88 354.17 2172.5 361.34 2166.9C368.51 2161.3 378.82 2153.77 385.2 2149C391.59 2144.23 393.28 2142.64 399.67 2138.26C406.06 2133.88 419.56 2125.29 423.54 2122.7"/>
<path clip-path="url(#s63)" class="pt" d="M441.5 2230.7L439.9 2235.9L450.4 2228.4L438.2 2233.5L439.0 2233.7L440.9 2230.8L439.8 2234.2L432.6 2237.9L442.3 2229.7L442.8 2236.0L439.8 2235.8L440.6 2231.8L434.1 2238.2L438.8 2233.4L438.6 2233.0L437.3 2238.0L447.8 2226.1L451.7 2226.6L452.5 2227.7L443.8 2229.6L444.5 2233.9L452.2 2226.9L445.3 2229.7L442.0 2233.1L439.0 2237.4L486.3 2201.0L469.5 2207.0L486.9 2197.2L469.4 2194.7L494.3 2193.0L460.7 2203.8L477.8 2216.6L466.4 2209.5L477.4 2198.2L472.8 2199.8L476.8 2200.2L466.4 2193.4L478.0 2200.6L493.8 2195.1L479.2 2206.5L488.9 2200.5L479.6 2207.2L471.6 2202.1L491.0 2187.5L468.9 2216.9L461.7 2217.2L492.5 2186.7L470.6 2199.3L477.3 2201.5L481.8 2196.6L481.8 2194.0L443.8 2212.7L489.1 2211.2L488.0 2206.4L489.1 2190.5L466.3 2208.9L473.5 2198.0L474.8 2200.1L483.0 2208.2L485.8 2207.0L460.8 2204.0L459.8 2208.0L467.3 2203.1L481.8 2205.5L470.6 2212.4L470.3 2213.0L473.1 2201.3L471.6 2194.9L498.9 2185.9L474.0 2194.8L478.6 2189.7L492.4 2192.2L483.5 2198.5L464.3 2206.2L480.6 2201.8L466.4 2207.5L469.9 2205.1L484.8 2197.3L495.3 2191.1L471.1 2202.3L461.0 2216.7L474.4 2213.4L481.8 2194.0L459.6 2208.3L465.3 2209.2L483.0 2192.6L449.6 2210.9L476.4 2193.1L475.7 2195.0L485.5 2205.8L468.8 2202.2L477.5 2204.5L468.6 2217.9L474.6 2191.5L449.8 2205.2L459.1 2207.5L461.1 2204.4L480.9 2199.4L461.0 2204.7L493.8 2187.1L496.5 2188.2L472.6 2205.3L491.4 2186.3L487.1 2206.4L463.0 2218.6L481.7 2209.1L473.1 2195.3L479.3 2204.3L472.0 2194.3L462.9 2200.9L485.4 2198.2L474.8 2204.1L489.2 2192.2L472.4 2203.0L442.3 2209.4L475.9 2198.3L489.0 2196.7L483.9 2202.7L471.7 2198.1L470.5 2206.8L487.0 2193.5L466.3 2212.6L502.3 2177.3L515.3 2165.6L513.7 2177.5L492.6 2184.3L507.3 2177.9L500.5 2191.3L500.5 2189.1L516.6 2182.4L502.2 2186.9L513.4 2166.9L529.7 2169.8L509.7 2170.7L512.2 2187.1L497.3 2186.0L507.3 2186.5L496.4 2173.6L506.6 2184.4L506.8 2178.1L525.3 2164.4L509.1 2177.5L498.3 2180.1L500.3 2188.7L491.8 2177.0L511.6 2167.9L484.7 2189.8L495.2 2182.1L503.9 2179.4L507.1 2178.3L510.9 2180.3L508.8 2174.3L517.1 2181.3L498.0 2200.4L502.4 2180.6L502.7 2187.7L499.6 2184.0L503.6 2191.3L497.1 2184.2L508.3 2177.9L506.6 2179.2L505.5 2185.6L513.5 2176.8L529.7 2156.6L522.9 2179.0L512.5 2176.4L514.7 2168.8L512.5 2170.8L491.6 2188.3L504.9 2185.7L494.4 2180.3L508.0 2184.9L510.5 2184.4L499.3 2181.6L498.7 2185.0L520.9 2177.6L505.5 2186.5L517.6 2170.1L527.1 2172.8L507.5 2183.9L526.9 2183.4L510.6 2178.0L505.7 2184.3L509.3 2176.9L509.0 2184.8L499.2 2192.8L488.9 2204.8L512.0 2167.1L517.7 2183.2L509.4 2179.4L513.3 2174.7L492.0 2194.5L508.7 2172.8L492.2 2186.3L499.4 2189.4L518.3 2188.8L508.8 2175.4L516.3 2168.5L507.4 2179.7L504.4 2175.3L500.8 2180.5L509.0 2186.1L506.9 2171.9L498.0 2187.9L499.7 2178.8L492.3 2187.6L505.4 2188.6L492.2 2181.0L519.9 2184.8L485.5 2186.7L502.8 2185.3L491.5 2201.1L495.7 2186.5L510.5 2181.6L499.6 2195.7L516.1 2176.4L517.9 2153.8L498.1 2174.0L498.4 2180.6L504.4 2183.1L507.6 2165.6L522.5 2162.3L504.1 2177.8L515.0 2176.3L498.9 2192.6L496.9 2184.2L515.7 2165.1L493.9 2182.9L537.5 2154.5L559.1 2146.2L541.6 2167.0L538.1 2146.1L549.2 2151.8L533.1 2166.2L545.0 2152.2L527.6 2162.6L538.5 2159.6L533.6 2160.1L541.0 2152.4L551.1 2147.3L534.0 2153.0L537.6 2161.0L523.0 2162.7L539.7 2155.9L552.7 2141.8L539.3 2156.3L544.4 2149.2L541.1 2145.8L553.4 2148.1L541.2 2163.5L547.1 2141.4L541.1 2163.9L541.3 2160.1L556.0 2138.1L551.9 2147.8L538.5 2160.0L539.0 2144.7L549.2 2151.9L528.4 2169.2L538.7 2157.3L542.8 2149.8L521.6 2161.3L535.0 2161.9L572.9 2138.9L567.3 2139.7L571.8 2135.9L577.8 2133.6L569.2 2134.0L571.8 2140.6L566.6 2137.7L573.3 2139.1L572.1 2139.4L571.3 2134.8L569.9 2135.9L574.8 2136.9L572.5 2138.7L576.7 2137.2L567.3 2137.1L571.2 2133.2L567.0 2136.9L573.8 2136.5L571.2 2137.3L569.1 2134.7L570.4 2135.9L610.1 2110.7L608.9 2111.2L514.2 2152.6L514.2 2163.4"/>
<path clip-path="url(#s63)" class="lo" d="M435.19 2237.68C439.57 2233.69 452.32 2220.51 461.49 2213.72C470.67 2206.93 480.25 2203.32 490.24 2196.92C500.23 2190.52 511.44 2182.09 521.43 2175.3C531.42 2168.51 540.63 2162.93 550.18 2156.16C559.73 2149.39 568.75 2142.07 578.74 2134.68C588.73 2127.29 604.89 2115.63 610.12 2111.82"/>
<path clip-path="url(#s64)" class="pt" d="M655.2 2190.4L663.1 2173.8L660.5 2198.3L658.4 2213.0L656.9 2175.8L661.6 2192.2L657.5 2206.0L651.5 2204.8L651.8 2192.8L657.8 2199.7L651.7 2182.4L673.7 2200.0L656.7 2205.7L663.1 2195.5L657.4 2182.5L658.6 2199.3L648.6 2182.3L652.1 2203.4L653.9 2193.5L647.6 2184.5L654.7 2189.0L656.0 2199.8L666.0 2195.2L645.7 2216.4L667.7 2203.7L665.8 2193.2L650.2 2200.5L640.5 2207.2L652.4 2187.6L662.9 2209.6L661.7 2194.9L663.5 2206.8L674.5 2213.9L659.4 2208.8L656.8 2203.5L667.9 2174.4L653.8 2197.3L641.8 2208.3L655.0 2188.8L658.7 2197.7L662.3 2204.7L660.7 2202.3L656.1 2206.2L662.3 2194.0L660.5 2211.2L654.5 2188.5L654.9 2195.7L659.0 2194.1L666.2 2207.1L657.1 2201.8L656.1 2200.5L659.1 2186.6L658.5 2201.4L665.1 2184.7L666.5 2214.3L659.5 2216.9L658.6 2204.9L655.9 2208.1L667.5 2203.9L661.3 2179.3L648.9 2189.1L658.9 2190.5L658.9 2201.0L650.7 2190.0L649.4 2193.7L654.2 2214.1L709.4 2199.9L701.9 2186.8L700.7 2199.2L669.5 2206.0L706.4 2195.0L699.1 2189.2L711.2 2199.7L706.4 2206.8L719.3 2185.1L686.8 2196.8L687.8 2201.8L704.3 2190.9L681.4 2193.4L688.3 2188.2L683.1 2174.9L710.3 2202.9L695.6 2177.4L688.9 2194.6L701.8 2186.3L708.2 2179.8L696.9 2191.5L700.8 2191.2L694.7 2192.2L715.0 2191.2L682.7 2202.7L699.1 2208.0L692.9 2197.2L693.1 2187.6L697.7 2198.0L702.2 2191.5L703.8 2199.6L694.3 2187.7L701.1 2192.0L699.4 2197.8L712.4 2175.9L708.6 2196.4L728.7 2183.8L700.9 2201.8L691.1 2174.5L685.8 2177.6L715.2 2180.7L716.3 2196.0L670.1 2179.1L702.5 2198.7L700.0 2203.1L698.5 2181.5L673.6 2195.3L699.0 2197.0L697.4 2192.3L694.5 2188.9L708.2 2194.4L702.8 2178.3L719.7 2196.8L694.4 2192.7L705.8 2200.6L715.3 2191.2L705.2 2182.9L702.0 2194.6L704.0 2197.9L676.3 2186.6L680.5 2202.7L699.6 2192.7L702.2 2187.4L687.9 2189.2L701.0 2190.6L689.1 2197.3L697.4 2182.4L696.5 2194.0L684.0 2193.5L700.3 2199.9L675.2 2196.2L678.1 2203.6L673.8 2196.7L701.8 2178.3L699.4 2196.8L699.3 2194.6L686.2 2189.5L675.8 2189.1L698.7 2184.8L694.5 2205.5L693.3 2200.8L696.4 2171.5L693.8 2196.3L701.7 2186.7L704.8 2190.5L695.8 2191.2L700.4 2191.1L699.3 2193.7L700.3 2204.0L696.7 2199.2L704.1 2195.9L693.4 2195.2L696.6 2188.5L723.7 2179.8L694.9 2191.5L671.7 2196.1L710.6 2191.7L707.4 2194.7L707.3 2191.0L706.0 2202.6L684.2 2194.3L685.5 2197.6L684.3 2191.1L687.6 2197.0L681.3 2195.1L714.3 2198.7L677.6 2200.9L691.5 2177.0L697.9 2198.9L691.7 2200.5L720.0 2186.3L692.9 2163.6L688.7 2146.3L686.7 2153.1L689.5 2156.0L698.9 2151.2L715.7 2147.6L710.4 2157.3L712.8 2151.1L699.0 2127.5L691.1 2159.4L717.9 2158.6L684.4 2156.3L696.5 2169.1L695.8 2170.1L731.7 2182.3L713.4 2171.8L697.0 2154.5L692.8 2148.7L700.9 2164.6L706.7 2150.9L716.5 2154.7L698.4 2159.5L682.8 2150.3L706.5 2149.0L701.3 2168.5L732.0 2160.5L699.8 2130.0L684.7 2160.0L684.2 2149.5L707.7 2156.7L691.1 2160.0L710.9 2165.4L697.0 2160.9L692.4 2155.4L709.2 2159.7L685.8 2142.8L691.0 2151.4L696.6 2154.6L715.1 2151.6L680.2 2172.9L700.6 2165.1L726.5 2148.3L719.6 2147.9L706.3 2153.7L695.1 2159.6L710.1 2152.7L726.0 2182.2L713.3 2155.6L706.5 2172.4L670.4 2148.4L697.9 2169.8L718.6 2150.3L757.6 2166.8L745.5 2171.8L744.6 2173.9L741.8 2153.3L761.3 2193.7L757.7 2131.1L749.8 2187.8L766.0 2159.7L750.6 2185.0L753.5 2148.3L743.2 2127.4L752.7 2148.7L740.6 2149.1L743.0 2138.1L742.1 2165.6L753.5 2146.4L746.1 2159.9L756.7 2168.0L736.5 2162.0L753.3 2138.6L759.8 2162.0L745.8 2118.6L743.8 2160.3L739.3 2160.2L752.2 2160.2L755.8 2157.8L739.0 2158.6L747.2 2175.0L745.9 2160.1L755.0 2153.9L699.2 2227.3L703.5 2239.5L688.0 2227.7L686.0 2230.2L702.0 2231.2L692.6 2229.6L696.6 2234.7L703.4 2230.0L702.5 2228.9L699.2 2227.6L693.9 2225.8L697.1 2225.2L703.5 2234.0L700.5 2227.7L707.4 2231.3L701.1 2231.7L695.5 2231.1L694.6 2227.2L710.4 2234.4L697.0 2231.5L701.7 2240.1L624.4 2180.1L649.6 2152.6L649.6 2163.4L683.2 2151.4L768.2 2137.0L773.0 2137.0L789.8 2110.7L797.0 2110.7L753.9 2190.9"/>
<path clip-path="url(#s64)" class="lo" d="M624.4 2200.5C628 2199.7 638.4 2197.29 646.01 2195.68C653.62 2194.07 662.07 2192.26 670.06 2190.86C678.05 2189.46 685.94 2188.27 693.92 2187.28C701.91 2186.29 710.77 2187.72 717.97 2184.94C725.18 2182.16 730.75 2175.81 737.14 2170.62C743.53 2165.43 749.92 2159.42 756.31 2153.82C762.7 2148.22 768.49 2142.8 775.47 2137.02C782.46 2131.24 794.42 2122.1 798.21 2119.12"/>
<path clip-path="url(#s65)" class="pt" d="M850.2 2186.7L843.3 2181.6L856.9 2197.4L859.8 2180.2L856.5 2170.9L852.0 2187.3L845.2 2186.3L847.6 2177.3L854.6 2192.5L859.9 2185.0L852.8 2183.2L861.1 2179.8L850.5 2192.4L835.5 2179.8L853.6 2188.1L850.9 2180.8L852.2 2181.8L848.5 2189.3L853.0 2182.3L858.8 2179.8L849.5 2177.1L866.8 2182.4L865.3 2179.0L843.1 2183.3L857.4 2187.4L843.7 2186.3L850.0 2183.8L855.5 2171.8L858.5 2183.9L862.4 2180.6L861.6 2192.0L850.6 2190.4L851.7 2195.2L857.3 2182.8L852.6 2192.2L843.1 2182.7L852.9 2185.7L851.2 2183.0L852.9 2195.3L850.1 2179.6L854.1 2189.4L851.1 2184.2L854.3 2183.8L864.2 2189.3L861.8 2171.5L848.8 2180.0L860.1 2181.7L846.0 2190.0L855.1 2183.3L858.1 2195.4L848.6 2181.7L853.2 2189.4L848.8 2171.4L846.2 2189.7L859.6 2187.3L853.0 2181.3L841.5 2180.3L854.0 2187.5L852.9 2178.2L853.6 2184.9L849.4 2182.4L862.2 2184.3L857.3 2180.5L862.7 2175.3L856.6 2181.8L865.8 2182.7L834.5 2185.3L857.3 2184.0L856.3 2188.4L857.9 2174.8L858.5 2183.5L855.7 2182.2L852.3 2179.6L856.2 2195.5L846.7 2182.6L845.9 2194.9L847.8 2186.3L854.9 2182.8L849.2 2180.5L848.5 2184.0L854.5 2172.7L885.1 2202.8L889.8 2210.3L895.2 2199.6L870.1 2203.0L882.7 2199.9L880.3 2208.6L881.5 2197.5L881.8 2202.0L874.8 2202.5L869.3 2207.3L877.6 2206.2L877.9 2204.6L869.9 2201.2L884.5 2200.7L883.8 2203.1L891.3 2198.9L872.6 2197.1L874.7 2203.0L885.7 2203.2L880.6 2200.4L880.8 2205.7L892.4 2205.9L867.6 2195.8L879.1 2205.0L880.9 2203.8L884.9 2202.7L892.0 2207.8L857.1 2202.2L880.8 2203.6L883.8 2207.7L900.5 2202.4L882.5 2204.5L875.1 2205.0L878.6 2206.1L887.7 2208.4L887.9 2211.1L891.4 2208.3L883.6 2202.2L875.1 2200.7L875.6 2207.3L871.5 2203.0L864.1 2201.2L878.8 2206.5L888.0 2206.4L878.0 2208.3L878.3 2210.8L874.0 2204.5L887.6 2206.3L886.2 2199.7L881.4 2201.1L878.0 2196.0L883.2 2200.0L883.7 2207.3L891.7 2197.4L883.8 2202.6L894.0 2203.4L893.6 2198.2L887.1 2207.4L876.5 2198.3L899.5 2201.6L880.5 2202.7L868.0 2203.8L871.7 2203.8L882.5 2204.7L895.2 2208.7L874.7 2197.4L907.0 2192.9L934.6 2169.9L908.8 2187.5L910.9 2196.1L928.1 2174.4L938.8 2174.9L916.7 2185.4L916.6 2188.2L921.7 2186.0L924.1 2182.9L944.7 2171.8L909.8 2190.0L923.7 2184.0L906.0 2189.0L901.5 2198.3L899.3 2191.7L916.2 2181.6L929.0 2179.4L933.3 2181.4L928.6 2184.9L913.3 2189.6L914.5 2186.7L918.2 2189.0L913.8 2185.5L913.3 2183.1L936.5 2174.1L902.4 2195.2L896.0 2203.8L896.9 2197.1L921.0 2179.9L908.6 2194.4L910.4 2187.0L917.0 2181.1L936.1 2180.0L919.8 2183.6L912.1 2191.3L929.6 2180.3L938.8 2168.3L916.2 2183.1L910.4 2184.0L905.5 2190.5L910.4 2187.5L900.8 2194.1L914.1 2189.6L934.3 2179.0L912.0 2192.9L918.9 2182.9L912.3 2190.9L909.1 2193.9L909.8 2191.8L921.3 2186.2L919.4 2185.9L906.7 2195.0L933.7 2178.9L922.0 2184.5L909.6 2192.5L914.5 2190.5L912.2 2191.5L907.4 2188.0L967.5 2145.6L970.9 2133.2L967.8 2145.1L947.2 2160.4L959.0 2154.7L944.5 2156.4L967.5 2151.7L975.4 2144.3L985.6 2135.4L950.7 2148.6L944.3 2156.7L936.8 2165.5L958.7 2153.0L958.1 2153.9L948.2 2154.3L959.7 2147.0L970.0 2151.7L961.2 2162.1L955.2 2156.3L940.2 2162.9L942.5 2163.2L966.9 2148.9L982.1 2144.1L965.7 2155.3L951.1 2158.4L984.8 2136.4L968.7 2146.3L955.4 2150.0L938.8 2150.5L965.7 2148.6L965.9 2150.5L936.9 2151.9L956.4 2160.9L971.2 2148.3L966.0 2144.2L965.2 2149.6L967.7 2148.2L949.0 2163.3L961.9 2154.5L951.0 2153.6L971.1 2149.8L955.9 2163.4L963.0 2150.1L964.6 2152.8L958.2 2145.7L974.0 2142.2L959.9 2153.7L960.0 2157.5L955.6 2147.6L954.9 2155.2L937.4 2152.6L809.0 2203.9L830.1 2196.3L818.4 2146.9L821.4 2209.2L810.8 2184.3L827.2 2212.4L821.5 2182.1L809.8 2228.9L820.0 2168.3L818.5 2214.8L818.7 2185.4L808.4 2196.8L808.4 2213.9L824.0 2188.8L814.1 2198.6L829.7 2210.1L827.3 2210.3L811.7 2207.9L849.0 2237.1L857.9 2235.6L855.3 2236.3L861.4 2230.0L858.6 2236.0L854.2 2233.6L855.3 2233.2L855.4 2235.8L854.2 2235.7L969.1 2110.7L976.7 2110.7L916.3 2137.8L846.8 2208.9L845.6 2210.1"/>
<path clip-path="url(#s65)" class="lo" d="M812.11 2175.3C815.9 2176.52 827.87 2180.4 834.85 2182.6C841.83 2184.8 848.03 2186.34 854.01 2188.52C860 2190.7 865.13 2193.89 870.74 2195.68C876.34 2197.47 882.45 2199.26 887.65 2199.26C892.85 2199.26 896.73 2198.07 901.93 2195.68C907.13 2193.29 912.89 2188.73 918.84 2184.94C924.79 2181.15 930.87 2177.34 937.63 2172.96C944.39 2168.58 951.38 2164.24 959.43 2158.64C967.47 2153.04 981.5 2142.57 985.92 2139.36"/>
<path clip-path="url(#s71)" class="pt" d="M80.6 2345.2L82.8 2337.2L74.8 2338.1L67.9 2342.5L78.5 2338.1L56.8 2340.6L76.1 2343.8L72.5 2340.2L69.7 2344.8L73.6 2338.1L82.0 2343.6L70.8 2339.5L64.1 2341.7L64.3 2340.8L64.9 2345.6L72.3 2344.2L67.6 2339.8L75.5 2344.6L72.6 2338.6L79.3 2341.9L72.1 2341.9L63.6 2346.2L72.3 2340.4L62.8 2337.1L118.5 2355.1L123.0 2357.8L120.2 2355.0L110.5 2345.7L122.7 2354.1L116.8 2345.1L121.5 2337.4L119.8 2348.7L106.1 2346.3L135.3 2367.6L111.9 2355.1L92.4 2360.7L116.7 2348.4L105.7 2345.7L116.7 2345.9L122.9 2354.5L110.6 2355.1L117.3 2349.8L113.3 2354.7L123.5 2351.0L116.2 2351.4L96.3 2354.4L112.1 2341.9L114.7 2347.5L142.1 2361.7L115.6 2356.6L120.1 2355.3L106.6 2338.2L126.9 2347.5L117.5 2355.8L120.1 2352.2L122.7 2353.5L117.0 2351.1L92.3 2356.3L133.5 2351.3L100.9 2347.7L118.9 2354.6L118.7 2352.7L116.8 2343.1L123.3 2346.7L139.8 2321.4L159.7 2329.5L152.4 2312.4L129.0 2310.7L151.8 2325.3L144.5 2313.5L139.5 2320.9L131.0 2329.3L153.5 2331.6L144.6 2317.2L162.6 2324.0L139.0 2307.4L149.9 2318.3L125.4 2319.1L154.6 2319.9L135.0 2327.3L150.4 2304.8L148.3 2332.5L154.8 2321.8L148.2 2312.9L135.8 2314.6L165.4 2315.6L142.1 2329.7L153.5 2308.3L139.6 2310.8L154.4 2309.3L158.8 2314.0L129.0 2331.6L157.3 2322.1L158.3 2314.4L151.2 2310.9L132.3 2333.4L160.8 2313.5L141.6 2326.5L161.3 2327.9L150.7 2319.6L134.7 2316.0L137.9 2300.6L161.7 2307.0L150.9 2328.1L155.8 2311.7L153.8 2329.1L161.9 2314.4L156.8 2328.1L145.8 2317.5L150.0 2332.1L174.2 2325.1L134.2 2323.7L142.4 2313.0L141.6 2308.3L155.2 2316.5L157.1 2330.4L142.5 2318.9L152.1 2321.7L148.0 2315.6L139.1 2310.9L157.0 2305.3L131.3 2334.7L152.9 2323.9L132.5 2334.4L142.9 2347.0L129.1 2360.8L148.3 2370.4L160.9 2364.0L161.6 2360.0L140.2 2357.0L129.6 2370.3L139.4 2366.0L140.5 2346.9L153.7 2361.5L143.3 2354.6L145.1 2352.5L161.3 2349.4L129.3 2358.1L145.0 2342.3L144.4 2363.6L148.0 2363.3L136.7 2347.3L154.0 2355.8L135.3 2374.6L150.2 2339.0L164.2 2361.5L133.6 2363.0L144.6 2363.5L144.8 2347.2L142.6 2355.2L148.6 2365.2L154.8 2357.7L141.8 2355.7L156.5 2347.7L148.2 2374.0L129.1 2368.7L144.3 2363.5L140.5 2361.5L148.4 2363.8L132.7 2353.5L164.7 2368.9L141.9 2348.0L139.4 2357.8L154.3 2357.7L139.4 2369.0L150.6 2362.1L162.6 2356.6L135.0 2347.0L144.6 2361.4L153.1 2354.5L134.3 2357.4L146.4 2358.5L150.5 2355.4L148.1 2346.2L130.4 2366.3L142.3 2360.3L148.8 2346.7L142.1 2379.2L146.0 2363.8L155.5 2349.7L135.1 2355.3L165.1 2361.4L166.9 2354.0L151.9 2343.4L144.0 2347.6L137.9 2352.7L133.6 2372.2L137.7 2343.9L145.5 2348.2L130.9 2373.3L149.7 2357.6L152.2 2370.4L168.4 2363.0L149.8 2357.4L146.1 2348.9L143.8 2374.5L164.6 2338.6L152.7 2342.1L147.4 2351.2L142.7 2359.8L144.4 2356.3L158.6 2361.9L143.9 2370.1L130.5 2368.6L183.8 2303.6L188.0 2304.5L196.6 2304.1L194.8 2302.4L188.9 2304.1L191.1 2309.0L189.5 2309.1L193.5 2306.2L189.9 2304.9L194.3 2304.0L194.9 2306.2L187.4 2304.8L188.3 2304.9L184.8 2305.2L195.2 2307.5L198.4 2302.0L180.9 2334.8L190.6 2341.0L183.7 2340.9L225.2 2342.6L174.5 2331.5L223.2 2355.7L183.8 2342.3L195.1 2341.8L188.6 2318.1L201.5 2319.9L208.5 2339.3L235.5 2354.9L208.0 2343.6L196.0 2337.4L174.2 2351.1L216.4 2345.1L173.5 2347.9L186.9 2335.2L205.9 2318.7L210.6 2343.2L201.0 2325.0L229.4 2368.8L196.2 2325.5L173.2 2354.7L178.3 2340.9L175.2 2324.2L198.2 2306.8L211.0 2341.5L205.2 2342.5L198.3 2347.5L216.9 2346.5L211.8 2336.4L196.4 2333.8L185.8 2320.4L192.4 2346.4L188.1 2351.9L176.8 2349.5L213.8 2331.0L188.1 2338.2L188.0 2347.3L220.2 2370.0L212.1 2375.4L190.4 2372.5L219.6 2372.0L197.2 2376.9L187.3 2374.0L201.8 2371.2L211.9 2375.5L188.4 2372.2L195.9 2372.9L198.7 2373.1L204.8 2377.4L221.4 2369.9L213.0 2375.8L204.2 2371.4L224.4 2378.3L195.7 2372.9L212.0 2372.7L199.6 2374.0L151.6 2255.1L186.3 2247.2L178.6 2273.5L142.0 2287.9L145.6 2289.6L150.4 2291.5L164.7 2295.8L109.6 2303.5L106.7 2311.1L80.9 2324.3L222.3 2294.4"/>
<path clip-path="url(#s71)" class="lo" d="M59.39 2338.2C63.36 2338.8 74.89 2340.17 83.25 2341.78C91.61 2343.39 102.35 2346.83 109.55 2347.84C116.76 2348.85 121.24 2348.46 126.47 2347.84C131.7 2347.22 136.14 2345.73 140.93 2344.12C145.73 2342.51 150.83 2339.78 155.21 2338.2C159.6 2336.62 161.67 2335.22 167.24 2334.62C172.81 2334.02 181.46 2334.41 188.66 2334.62C195.86 2334.83 202.47 2335.47 210.46 2335.86C218.44 2336.25 232.22 2336.78 236.58 2336.96"/>
<path clip-path="url(#s72)" class="pt" d="M251.5 2325.1L261.7 2318.6L263.1 2331.0L254.1 2325.2L263.0 2319.0L248.8 2324.0L256.8 2337.6L250.6 2323.0L251.0 2324.1L258.4 2321.9L272.3 2312.0L256.4 2317.8L262.2 2328.7L261.3 2322.3L250.8 2325.6L260.6 2312.3L265.2 2319.7L249.0 2318.1L260.0 2324.3L262.5 2326.5L254.4 2324.8L261.5 2321.8L256.9 2319.0L261.6 2322.1L267.8 2318.1L253.2 2317.2L252.4 2321.3L259.2 2323.8L257.8 2317.4L256.6 2320.0L263.1 2325.3L264.6 2324.3L256.5 2320.8L270.3 2327.7L258.4 2300.2L272.5 2305.4L275.6 2307.0L270.8 2301.8L271.7 2307.5L282.0 2302.6L286.7 2302.5L273.8 2303.3L270.1 2302.0L272.1 2301.1L275.6 2307.8L266.2 2300.4L266.5 2301.2L278.0 2301.2L275.8 2303.5L265.6 2305.7L271.8 2302.4L281.1 2305.0L271.9 2311.5L270.7 2301.4L271.4 2303.2L301.2 2330.4L304.1 2333.3L273.6 2331.1L298.8 2319.6L310.9 2330.8L298.8 2325.0L314.8 2334.5L306.2 2332.3L292.1 2319.5L316.9 2336.7L282.8 2324.6L269.9 2318.5L314.3 2337.6L292.5 2320.5L321.6 2337.0L300.1 2329.3L282.4 2316.3L294.0 2327.7L296.6 2325.8L261.9 2299.1L291.9 2316.4L295.4 2319.9L278.9 2318.0L283.1 2302.9L273.8 2308.8L297.7 2339.5L269.2 2311.6L293.1 2325.0L271.8 2320.7L299.1 2313.2L296.4 2325.9L284.3 2325.6L312.8 2325.3L286.5 2307.3L290.8 2332.3L274.0 2318.0L295.0 2313.8L319.1 2338.8L307.3 2336.1L302.8 2337.6L326.3 2341.0L281.5 2323.8L305.3 2319.0L295.5 2313.9L287.3 2314.4L276.4 2324.3L293.5 2302.9L298.9 2312.6L321.5 2330.5L303.3 2330.0L296.8 2314.3L315.2 2314.3L292.9 2320.2L298.9 2321.6L297.5 2326.7L306.5 2328.5L291.3 2327.3L298.2 2328.9L283.6 2320.7L294.0 2326.8L302.3 2332.1L298.5 2323.9L316.3 2357.4L308.3 2357.7L335.7 2349.7L315.8 2361.3L317.2 2352.0L310.7 2364.6L322.5 2360.6L326.6 2360.3L321.9 2357.7L320.0 2363.3L304.1 2365.0L330.5 2353.7L327.1 2351.7L321.6 2342.5L342.7 2357.6L318.8 2364.1L310.1 2360.1L340.5 2379.2L320.1 2355.6L318.4 2361.1L324.6 2367.5L313.9 2357.3L327.1 2359.0L349.9 2337.8L305.8 2349.8L327.9 2360.2L327.7 2344.1L334.7 2363.2L342.2 2362.5L320.8 2350.3L313.6 2352.7L319.7 2360.1L341.2 2358.7L323.6 2355.2L310.8 2362.2L304.1 2349.5L307.8 2373.5L314.6 2366.6L308.3 2356.6L323.7 2358.4L308.2 2354.4L335.9 2355.6L327.4 2356.3L339.1 2369.1L327.3 2347.7L309.7 2355.1L321.4 2353.2L313.2 2366.5L314.1 2367.3L321.5 2347.6L313.7 2350.2L308.8 2346.4L323.2 2351.1L339.0 2340.3L316.5 2363.9L310.4 2347.2L314.8 2348.3L322.1 2338.8L342.6 2375.0L305.0 2360.5L307.0 2359.5L301.2 2361.0L311.1 2349.0L318.5 2348.8L305.5 2350.5L327.4 2359.2L308.3 2369.4L314.9 2348.8L314.5 2343.5L324.2 2356.9L307.1 2352.1L321.9 2354.0L305.1 2347.7L340.7 2356.0L327.4 2347.3L341.8 2362.9L312.7 2347.6L309.5 2351.9L319.4 2359.4L332.4 2355.7L339.4 2368.4L342.4 2356.6L316.7 2345.6L315.8 2358.8L318.7 2343.1L303.8 2352.7L316.0 2363.3L321.3 2347.6L315.6 2357.9L321.3 2355.1L309.2 2356.9L328.4 2370.5L332.3 2362.5L329.0 2359.1L327.4 2360.6L320.8 2357.3L321.7 2361.2L313.2 2359.9L310.1 2360.7L326.9 2352.3L312.4 2350.7L324.0 2354.3L326.9 2365.4L342.9 2341.4L391.9 2342.3L349.3 2351.5L363.8 2334.0L337.2 2350.5L368.8 2338.4L337.2 2331.2L327.5 2350.0L351.8 2337.7L347.2 2322.5L350.4 2355.4L356.9 2345.0L329.6 2322.8L353.8 2360.8L335.5 2323.1L380.4 2335.8L366.0 2348.7L367.2 2326.0L387.6 2337.3L339.6 2343.5L347.2 2319.0L378.0 2338.3L355.2 2334.8L355.7 2332.3L331.2 2321.9L359.4 2346.6L382.9 2341.7L365.1 2345.0L363.6 2326.3L334.3 2351.6L367.5 2346.2L354.8 2341.7L336.7 2325.5L348.6 2347.3L349.6 2341.7L377.6 2328.5L341.5 2355.8L344.7 2332.8L346.4 2342.6L386.8 2339.8L356.4 2353.0L427.5 2372.4L395.7 2376.9L361.3 2372.7L376.7 2372.8L349.8 2373.7L396.1 2375.2L348.6 2372.0L377.2 2372.7L396.3 2373.3L402.1 2372.2L396.7 2372.6L352.4 2371.9L354.4 2374.6L370.0 2370.9L365.8 2373.2L381.0 2374.6L393.5 2373.6L360.4 2374.9L357.6 2373.0L403.6 2374.0L333.1 2374.6L258.2 2255.1L269.0 2247.2L282.7 2273.5L259.4 2289.1L263.0 2287.9L285.8 2293.9"/>
<path clip-path="url(#s72)" class="lo" d="M248.6 2305.84C252.2 2307.45 263.41 2311.88 270.21 2315.48C277 2319.08 283.77 2323.47 289.38 2327.46C294.98 2331.45 299.46 2335.86 303.84 2339.44C308.23 2343.02 310.11 2346.55 315.68 2348.94C321.26 2351.33 329.68 2352.15 337.29 2353.76C344.9 2355.37 352.54 2356.79 361.34 2358.58C370.14 2360.37 379.72 2362.5 390.09 2364.5C400.46 2366.5 417.96 2369.55 423.54 2370.56"/>
<path clip-path="url(#s73)" class="pt" d="M440.1 2345.6L440.1 2345.4L439.3 2338.2L453.5 2338.5L442.8 2342.2L435.7 2348.7L440.8 2335.2L439.4 2343.9L449.8 2341.9L443.7 2339.2L447.8 2338.7L440.7 2339.2L447.0 2338.6L445.4 2337.4L445.2 2337.7L446.6 2336.5L441.6 2344.9L442.1 2341.0L439.4 2342.5L485.1 2319.0L484.2 2320.3L472.1 2311.0L472.5 2327.7L476.1 2322.1L479.2 2317.9L478.4 2317.2L492.3 2315.9L465.3 2318.6L484.3 2324.3L483.2 2320.5L474.2 2333.4L491.1 2320.0L475.4 2329.6L484.8 2330.9L482.6 2319.7L471.9 2318.9L476.8 2312.3L476.0 2317.6L470.8 2326.0L480.9 2302.8L491.8 2310.1L467.1 2319.3L476.7 2313.9L477.7 2306.6L465.7 2320.6L485.2 2322.1L474.4 2320.2L480.4 2321.3L482.0 2315.6L476.5 2319.3L480.1 2317.3L477.5 2327.0L474.2 2320.7L479.0 2330.7L490.3 2319.8L480.4 2320.7L475.7 2321.8L477.6 2322.4L486.4 2312.8L472.6 2318.3L483.0 2311.5L483.0 2318.9L488.8 2328.7L474.7 2319.3L489.8 2316.8L473.8 2323.0L482.1 2319.7L470.9 2315.6L479.5 2323.0L462.8 2314.9L485.6 2299.5L475.8 2313.9L488.5 2316.1L478.1 2313.4L479.7 2317.5L466.5 2348.4L468.4 2346.0L483.5 2340.9L489.3 2340.9L473.2 2349.6L479.4 2335.0L468.2 2349.3L468.9 2338.9L479.9 2343.0L465.7 2347.6L458.7 2332.8L473.6 2336.2L467.2 2341.9L472.9 2339.0L465.7 2339.0L479.5 2339.1L472.8 2347.9L463.6 2332.6L461.6 2334.2L466.8 2336.5L477.6 2342.6L483.5 2340.4L477.6 2343.2L462.6 2342.7L485.2 2337.4L465.2 2350.3L474.6 2334.8L466.3 2344.5L489.2 2339.3L464.3 2338.4L468.2 2350.7L459.8 2341.8L463.8 2346.2L462.9 2336.0L478.6 2339.4L465.6 2351.5L482.5 2345.8L483.8 2354.7L505.9 2359.7L500.3 2351.2L484.4 2363.0L506.6 2356.3L499.1 2344.6L486.8 2366.6L512.4 2353.6L474.5 2366.1L487.4 2357.8L497.7 2359.1L490.1 2365.1L503.9 2348.1L477.9 2372.7L494.8 2359.9L479.3 2373.9L490.3 2364.0L489.8 2355.5L500.0 2360.7L474.4 2351.9L490.5 2353.3L502.5 2372.6L493.3 2373.3L497.9 2359.5L493.6 2349.7L498.5 2359.3L494.7 2365.4L495.7 2352.7L488.2 2366.2L489.5 2352.8L493.5 2366.9L500.0 2354.6L497.3 2363.7L499.2 2367.8L485.6 2367.4L496.4 2352.4L500.5 2361.2L485.9 2371.0L495.8 2359.7L490.0 2366.6L487.8 2369.1L490.8 2362.9L477.7 2347.4L502.4 2367.1L500.0 2349.6L489.0 2364.2L499.0 2360.3L492.5 2355.3L497.9 2367.5L476.3 2372.7L498.2 2357.0L501.7 2353.4L514.1 2357.3L484.3 2357.2L494.7 2373.8L498.3 2354.9L489.0 2360.9L503.6 2360.2L485.3 2364.0L499.5 2366.2L513.7 2362.5L510.0 2336.9L507.2 2350.0L507.1 2357.9L484.9 2358.3L492.2 2357.9L490.7 2351.5L500.5 2357.3L486.9 2373.7L495.3 2363.1L492.9 2359.2L494.8 2355.7L475.3 2371.1L488.8 2346.6L494.5 2350.1L500.5 2354.5L493.1 2366.3L497.9 2356.5L499.0 2348.0L492.1 2362.8L499.6 2352.4L516.3 2335.5L529.2 2324.2L530.6 2331.1L509.4 2338.7L517.0 2335.8L494.5 2327.7L511.6 2328.1L520.2 2354.3L532.9 2339.4L509.4 2337.2L501.3 2326.4L517.9 2337.9L526.9 2341.8L523.1 2341.4L512.4 2319.5L515.1 2337.9L533.3 2321.8L510.6 2347.0L513.5 2327.6L524.1 2345.2L507.0 2331.9L511.6 2334.2L498.3 2331.9L504.5 2334.2L478.6 2325.0L520.7 2350.0L513.9 2328.3L522.5 2325.7L504.6 2340.2L523.6 2335.1L515.9 2359.0L495.6 2331.4L509.7 2323.8L513.5 2327.8L530.8 2342.4L510.6 2329.5L499.8 2334.5L500.5 2300.6L509.9 2306.0L504.8 2301.8L497.3 2304.2L511.9 2301.3L505.0 2299.8L509.9 2302.9L506.6 2304.7L500.3 2303.2L503.8 2302.7L506.3 2303.0L514.7 2305.9L497.3 2304.6L505.7 2297.6L512.3 2301.1L545.5 2320.2L562.9 2326.7L548.3 2343.4L571.8 2344.3L527.3 2349.4L561.2 2342.8L539.6 2325.7L548.3 2328.1L580.0 2336.5L537.4 2328.8L538.9 2332.0L577.5 2336.0L554.1 2327.3L550.9 2332.3L542.0 2333.9L554.4 2327.9L543.5 2315.4L577.9 2332.2L546.9 2321.3L560.0 2338.3L547.1 2326.1L533.6 2320.1L573.0 2376.2L577.1 2371.1L566.7 2375.4L573.5 2374.0L578.6 2374.7L577.1 2374.6L573.1 2373.0L572.7 2375.1L575.2 2375.4L575.5 2375.8L477.0 2255.1L504.1 2247.2L495.0 2273.5L487.8 2289.1L486.6 2290.3L514.2 2294.4L540.1 2301.6L467.4 2303.0L610.1 2374.8L608.9 2374.8"/>
<path clip-path="url(#s73)" class="lo" d="M435.19 2338.2C438.38 2337.81 447.59 2336.78 454.35 2335.86C461.12 2334.94 470.2 2332.1 475.77 2332.69C481.35 2333.29 484.2 2337.33 487.8 2339.44C491.4 2341.55 493.37 2344.26 497.38 2345.36C501.39 2346.46 506.24 2346.05 511.85 2346.05C517.45 2346.05 524.63 2344.08 531.01 2345.36C537.4 2346.65 543.01 2350.96 550.18 2353.76C557.35 2356.56 564.05 2358.56 574.04 2362.16C584.03 2365.76 604.11 2373.18 610.12 2375.38"/>
<path clip-path="url(#s74)" class="pt" d="M679.3 2304.1L667.4 2311.8L654.2 2310.5L662.2 2308.5L669.2 2314.3L670.5 2323.6L668.5 2310.3L668.9 2306.4L675.3 2314.6L650.8 2305.6L677.2 2302.8L681.5 2310.8L666.0 2317.5L668.1 2306.0L654.5 2308.7L656.8 2315.9L677.7 2307.1L675.6 2316.0L691.4 2313.7L655.8 2311.8L669.6 2315.2L654.5 2313.0L678.9 2313.3L658.3 2308.2L660.5 2312.9L673.3 2308.3L656.2 2302.3L672.4 2309.6L665.3 2319.1L659.4 2313.3L682.5 2311.4L675.9 2302.4L669.2 2303.8L686.0 2308.6L669.8 2318.3L664.2 2302.5L658.6 2307.5L673.2 2314.2L669.4 2318.8L676.7 2312.3L658.3 2311.8L660.0 2306.2L674.9 2303.5L687.4 2313.9L651.1 2308.2L681.9 2308.2L659.8 2306.5L647.4 2299.5L669.1 2312.0L684.0 2315.6L664.1 2319.1L662.8 2310.6L659.4 2313.9L651.0 2310.7L665.4 2315.2L664.6 2313.7L675.9 2317.5L671.2 2324.7L650.2 2295.9L672.9 2309.5L650.1 2336.0L666.0 2334.7L663.4 2334.4L659.5 2340.9L658.6 2335.5L666.7 2329.6L660.9 2328.0L646.9 2340.6L646.5 2335.3L649.6 2334.7L654.4 2337.2L662.3 2339.1L671.3 2328.6L647.5 2343.0L654.8 2331.8L656.1 2343.7L649.7 2333.9L653.7 2328.9L666.4 2341.6L654.0 2334.5L651.7 2335.6L653.1 2332.6L669.6 2331.0L661.1 2340.7L663.6 2336.3L662.6 2332.2L654.6 2334.9L658.1 2337.8L660.7 2342.6L650.4 2334.4L664.5 2342.2L653.9 2333.5L660.7 2334.1L650.9 2332.1L667.9 2333.2L655.0 2340.2L646.4 2337.4L648.2 2342.1L644.1 2333.9L658.4 2330.4L722.0 2321.4L716.0 2333.1L710.8 2333.7L681.9 2339.1L717.6 2330.6L703.6 2345.8L744.9 2308.8L739.5 2325.5L688.0 2346.5L699.0 2343.3L731.3 2329.4L684.3 2326.0L739.7 2332.2L709.9 2321.0L709.4 2334.3L712.4 2322.4L680.7 2334.5L699.0 2345.7L695.8 2307.6L708.0 2327.0L706.5 2317.6L702.9 2325.7L704.4 2335.4L705.3 2325.0L721.0 2331.5L666.2 2331.7L719.7 2318.9L724.1 2313.6L705.0 2334.9L723.1 2332.6L703.6 2339.8L696.1 2332.5L729.5 2329.0L730.2 2334.7L727.4 2337.2L702.9 2344.3L711.0 2341.7L712.4 2326.1L719.6 2328.2L730.5 2327.8L691.7 2307.9L722.0 2321.8L665.1 2324.8L693.4 2326.7L707.4 2336.4L718.3 2330.0L687.3 2328.6L703.2 2333.2L689.0 2335.7L708.5 2335.0L708.3 2333.2L689.2 2340.2L721.5 2320.4L670.6 2337.1L717.7 2328.1L661.4 2333.6L703.3 2336.1L689.4 2301.7L706.0 2343.1L719.4 2330.4L692.4 2338.6L714.8 2329.2L703.9 2332.0L713.0 2335.2L712.7 2326.8L726.4 2330.2L697.3 2337.6L705.0 2363.7L705.3 2363.1L711.8 2365.5L689.2 2366.2L696.6 2359.5L699.0 2362.9L683.4 2371.7L698.9 2346.5L700.2 2362.0L704.6 2358.7L689.9 2357.8L702.8 2359.0L698.0 2369.1L682.7 2361.3L684.5 2353.5L696.2 2363.0L705.0 2360.1L703.7 2367.4L696.7 2360.2L704.0 2350.6L704.4 2357.3L689.2 2350.3L711.9 2357.3L703.4 2358.3L704.6 2346.8L695.5 2369.8L694.7 2364.0L678.6 2371.9L702.3 2365.2L694.9 2351.7L693.7 2359.1L682.5 2367.9L691.4 2361.2L672.7 2358.6L704.3 2365.1L704.6 2364.2L703.1 2353.5L710.0 2363.1L705.5 2360.5L716.7 2357.0L698.0 2368.0L705.7 2366.0L701.2 2371.9L694.6 2360.1L690.9 2358.5L706.0 2360.1L700.6 2362.1L703.6 2357.1L685.8 2365.1L701.9 2357.7L691.5 2358.4L682.2 2347.2L708.8 2363.2L696.4 2361.2L683.3 2371.8L697.9 2363.3L703.4 2355.8L696.2 2363.9L672.2 2355.5L695.9 2367.5L703.6 2345.9L699.7 2363.7L700.7 2369.2L704.8 2368.9L698.3 2363.7L722.2 2357.0L676.0 2351.4L712.8 2361.8L707.7 2364.8L691.8 2362.3L692.6 2363.3L706.6 2362.8L702.5 2367.3L736.2 2344.6L727.9 2354.8L768.1 2347.6L734.7 2344.6L760.3 2358.7L756.3 2346.4L746.2 2348.6L749.2 2348.0L727.1 2351.8L755.4 2356.4L722.9 2361.9L752.7 2349.7L752.8 2347.1L755.5 2352.1L736.4 2353.7L777.0 2350.2L749.7 2345.4L742.3 2340.4L736.9 2350.7L754.0 2352.8L767.3 2371.5L784.1 2374.4L784.2 2372.9L791.7 2375.5L769.6 2373.1L764.6 2374.6L771.3 2370.4L764.6 2375.8L780.8 2372.6L758.7 2370.4L767.5 2372.4L781.6 2373.7L785.2 2373.9L778.5 2375.6L766.5 2372.2L800.0 2374.8L783.7 2372.2L760.9 2376.1L768.7 2371.9L624.4 2301.6L647.2 2255.1L655.6 2247.2L665.2 2273.5L649.6 2294.4L684.3 2289.1L687.9 2289.1L691.5 2287.9L689.1 2301.6"/>
<path clip-path="url(#s74)" class="lo" d="M624.4 2310.66C628 2311.46 639.21 2313.48 646.01 2315.48C652.8 2317.48 659.57 2319.86 665.18 2322.64C670.78 2325.42 675.26 2328.95 679.64 2332.14C684.03 2335.33 685.91 2338.98 691.48 2341.78C697.06 2344.58 706.29 2346.14 713.09 2348.94C719.89 2351.74 725.46 2355.78 732.26 2358.58C739.05 2361.38 746.25 2363.56 753.86 2365.74C761.47 2367.92 770.34 2369.87 777.92 2371.66C785.49 2373.45 795.77 2375.68 799.34 2376.48"/>
<path clip-path="url(#s75)" class="pt" d="M827.5 2339.4L824.3 2361.3L823.5 2366.5L832.1 2359.8L820.1 2350.4L821.2 2337.5L848.3 2329.2L829.3 2343.2L829.9 2343.4L821.6 2356.6L819.9 2353.0L842.1 2333.3L822.5 2349.8L822.2 2355.2L826.9 2344.9L823.0 2333.2L835.7 2354.4L852.1 2341.1L835.6 2326.3L864.2 2330.2L866.9 2346.5L865.1 2342.8L855.7 2335.7L835.9 2332.4L864.3 2332.1L867.9 2343.8L846.6 2333.2L860.1 2331.4L849.6 2334.4L845.3 2336.6L861.3 2336.0L852.6 2339.7L857.8 2347.8L850.3 2338.9L860.3 2343.7L863.5 2332.4L858.6 2334.5L853.7 2340.8L854.2 2339.9L846.6 2353.6L871.9 2347.9L862.2 2335.0L865.4 2336.0L865.1 2335.8L847.1 2349.8L856.9 2341.8L865.0 2336.4L860.7 2340.3L856.7 2345.3L863.1 2341.6L854.9 2341.6L882.8 2346.5L844.5 2338.3L870.3 2341.5L857.7 2333.3L855.0 2332.7L830.3 2324.3L874.1 2346.2L844.5 2341.4L851.8 2336.3L874.0 2346.4L856.1 2334.7L850.4 2348.1L860.2 2337.2L858.6 2343.0L850.9 2368.8L848.4 2366.8L831.1 2359.3L850.2 2365.1L846.8 2362.1L849.8 2364.7L849.8 2361.8L856.3 2357.0L858.4 2364.2L869.5 2361.6L853.3 2365.3L852.2 2363.4L866.2 2357.3L847.9 2364.4L849.4 2358.5L854.2 2358.0L836.3 2364.4L851.3 2368.5L848.4 2361.2L845.7 2368.0L849.8 2361.0L859.2 2363.3L854.4 2359.9L832.8 2358.2L851.1 2355.1L853.9 2362.1L848.3 2364.2L828.6 2355.6L851.6 2365.5L859.5 2360.1L863.4 2359.3L852.2 2361.6L856.4 2362.0L845.7 2368.3L859.3 2360.0L829.7 2358.0L849.6 2303.2L852.2 2309.7L852.5 2310.8L846.9 2304.1L845.1 2320.2L851.3 2312.3L845.7 2313.1L846.0 2312.7L846.6 2308.6L853.6 2312.9L854.4 2313.1L854.5 2313.3L883.7 2322.8L884.4 2365.9L912.7 2340.5L896.3 2349.4L872.7 2319.0L895.3 2326.9L879.2 2337.2L873.7 2308.6L878.4 2344.1L893.7 2328.7L866.2 2319.9L859.5 2339.4L872.8 2297.5L875.8 2342.2L890.9 2320.5L881.7 2349.7L910.1 2348.9L882.0 2333.3L886.7 2332.8L890.8 2335.3L879.2 2327.8L888.2 2311.4L868.7 2356.4L882.3 2333.4L883.7 2339.3L884.6 2327.4L884.2 2330.8L878.5 2341.7L896.0 2338.7L895.2 2325.0L877.1 2338.2L876.2 2332.7L879.7 2341.4L862.1 2353.0L890.8 2362.1L869.7 2330.1L891.7 2345.0L911.9 2337.0L889.2 2320.2L896.2 2315.4L882.4 2331.0L886.0 2351.9L883.0 2318.7L876.9 2338.1L880.8 2347.8L880.2 2347.5L884.7 2365.1L891.9 2358.0L910.0 2363.1L889.3 2314.5L902.6 2327.1L881.8 2321.0L893.5 2325.8L894.3 2345.7L879.4 2322.2L908.9 2295.9L918.1 2305.0L925.3 2305.1L931.5 2302.9L922.0 2306.5L923.6 2316.7L913.9 2311.2L947.0 2311.8L921.3 2310.5L915.8 2309.6L930.7 2316.4L919.0 2309.8L926.5 2314.8L941.3 2308.3L913.6 2312.3L931.5 2311.1L924.6 2307.1L916.7 2309.3L914.3 2317.4L905.9 2312.7L909.3 2311.9L915.4 2310.5L937.3 2316.3L907.0 2307.8L904.5 2305.5L909.5 2308.6L910.4 2324.0L928.3 2308.4L919.0 2307.1L909.6 2307.6L926.1 2305.7L921.3 2306.0L921.2 2314.8L918.7 2308.5L916.8 2316.1L927.1 2310.9L924.7 2304.5L938.2 2314.9L915.6 2314.3L910.9 2304.1L921.9 2308.8L929.0 2312.2L918.7 2350.1L908.3 2363.8L922.9 2355.6L906.2 2354.5L913.5 2366.2L918.9 2347.4L917.9 2368.2L903.6 2362.8L929.8 2362.2L905.0 2354.6L920.1 2366.0L919.6 2366.0L908.9 2361.3L915.0 2346.9L908.7 2363.9L905.2 2356.0L908.7 2366.9L920.7 2352.7L918.4 2358.6L926.9 2366.9L916.8 2361.3L905.5 2354.3L932.6 2359.1L905.8 2363.3L947.9 2330.6L945.4 2337.7L968.8 2340.3L949.2 2320.9L949.3 2346.4L924.2 2308.8L947.4 2346.5L973.1 2327.7L967.5 2338.5L953.8 2354.9L951.4 2363.6L945.6 2323.9L934.8 2335.6L941.7 2311.3L944.1 2333.3L953.5 2318.1L956.8 2352.7L945.9 2316.3L949.7 2344.7L936.0 2352.0L945.0 2329.7L954.0 2356.4L929.5 2309.1L945.1 2343.2L943.9 2333.7L943.9 2325.9L943.3 2317.3L952.7 2327.7L937.6 2311.6L941.7 2344.3L945.8 2342.8L953.9 2316.7L954.4 2345.9L942.9 2329.7L970.1 2374.0L948.6 2375.5L942.9 2374.0L970.7 2372.8L977.6 2374.6L978.2 2373.8L965.1 2373.0L944.4 2375.1L979.2 2373.8L948.3 2374.3L964.8 2373.3L971.5 2374.1L890.0 2255.1L913.2 2247.2L923.5 2273.5L887.6 2289.1L890.0 2290.3L910.4 2295.8L965.5 2294.4"/>
<path clip-path="url(#s75)" class="lo" d="M813.24 2356.1C816.84 2355.5 828.05 2353.71 834.85 2352.52C841.64 2351.33 847.63 2350.73 854.01 2348.94C860.4 2347.15 866.76 2343.96 873.18 2341.78C879.6 2339.6 886.18 2337.65 892.53 2335.86C898.89 2334.07 905.75 2331.84 911.32 2331.04C916.9 2330.24 920.34 2329.25 925.98 2331.04C931.62 2332.83 938.76 2337.99 945.15 2341.78C951.53 2345.57 957.52 2349.97 964.31 2353.76C971.11 2357.55 982.32 2362.71 985.92 2364.5"/>
<path clip-path="url(#s76)" class="pt" d="M998.8 2346.4L997.9 2336.2L1003.3 2344.5L1013.0 2333.9L1001.4 2348.6L1013.3 2342.4L1002.2 2341.0L1005.6 2337.5L1009.9 2338.1L1000.4 2344.5L1009.8 2343.1L1007.2 2335.2L1011.2 2344.0L1010.9 2340.2L1020.3 2332.1L1001.6 2346.9L1009.4 2335.4L1013.4 2334.2L1051.8 2306.7L1063.4 2313.6L1047.8 2317.2L1037.3 2316.3L1062.5 2309.6L1058.8 2317.7L1047.1 2314.6L1043.4 2310.8L1047.0 2310.3L1056.3 2313.8L1058.2 2318.2L1044.4 2306.9L1044.4 2323.5L1063.1 2316.2L1034.5 2312.1L1055.9 2309.5L1071.1 2315.1L1066.9 2309.4L1054.4 2315.2L1057.7 2316.8L1058.4 2304.4L1063.8 2320.6L1062.5 2310.9L1074.7 2296.4L1060.3 2316.3L1068.2 2308.2L1051.0 2326.9L1053.1 2308.6L1039.9 2298.7L1048.8 2315.2L1063.4 2319.5L1076.1 2314.7L1074.7 2316.9L1059.8 2309.0L1084.7 2326.8L1047.4 2308.6L1055.8 2321.9L1079.1 2313.7L1063.4 2313.9L1051.8 2305.5L1051.8 2319.4L1073.3 2310.2L1058.9 2310.7L1056.8 2315.0L1073.7 2319.2L1054.8 2313.7L1058.5 2305.7L1065.3 2309.3L1078.8 2284.9L1053.2 2301.3L1053.1 2318.9L1058.3 2315.0L1060.5 2315.7L1054.1 2310.4L1046.0 2306.4L1064.0 2318.8L1076.1 2302.6L1072.1 2314.0L1058.5 2309.4L1044.6 2315.4L1069.1 2320.3L1068.3 2302.9L1050.6 2303.8L1045.3 2305.9L1071.3 2311.0L1060.5 2314.5L1071.6 2316.3L1060.7 2307.7L1059.4 2314.7L1072.9 2290.6L1059.7 2315.4L1064.6 2314.1L1033.3 2352.2L1046.5 2349.4L1046.8 2356.7L1042.3 2348.5L1056.7 2344.9L1045.2 2342.7L1032.0 2347.8L1040.6 2336.5L1055.8 2343.0L1041.5 2340.4L1036.8 2348.7L1049.8 2343.6L1042.6 2352.7L1055.1 2339.0L1043.4 2354.8L1055.4 2347.7L1046.0 2343.4L1058.3 2348.2L1036.5 2341.3L1034.0 2345.5L1053.9 2342.0L1050.2 2355.5L1049.7 2353.8L1039.1 2360.2L1036.1 2357.8L1042.0 2345.5L1038.6 2348.9L1036.4 2346.8L1040.0 2336.5L1036.7 2352.2L1051.4 2349.1L1054.7 2337.0L1043.0 2338.8L1045.0 2343.9L1055.5 2350.2L1041.3 2349.8L1048.0 2344.1L1040.8 2350.1L1052.5 2348.6L1035.7 2348.6L1058.7 2346.0L1051.8 2339.4L1041.5 2346.8L1048.8 2349.5L1045.1 2349.3L1046.7 2339.7L1053.2 2371.7L1059.7 2366.3L1068.0 2356.5L1061.8 2360.9L1071.5 2368.0L1052.8 2363.5L1071.1 2362.9L1066.4 2357.0L1073.2 2365.5L1060.1 2367.7L1052.9 2363.4L1054.4 2356.9L1054.8 2371.6L1068.9 2366.7L1066.7 2356.0L1065.3 2356.2L1066.5 2360.7L1065.1 2365.2L1065.2 2361.9L1063.6 2368.2L1064.3 2363.0L1073.0 2359.0L1066.0 2355.0L1059.2 2363.9L1076.5 2357.2L1058.2 2369.1L1077.3 2355.3L1057.5 2358.1L1060.8 2369.0L1061.9 2362.8L1067.8 2367.2L1053.6 2365.3L1068.3 2359.2L1053.9 2376.9L1066.4 2354.8L1068.7 2356.0L1061.7 2366.2L1072.3 2366.8L1066.4 2361.1L1047.3 2358.6L1061.8 2362.5L1066.6 2363.1L1066.0 2362.3L1061.6 2364.1L1073.6 2362.2L1063.1 2365.8L1066.2 2355.7L1061.0 2370.1L1060.3 2361.9L1058.9 2361.8L1061.1 2363.3L1061.6 2356.7L1071.7 2363.8L1080.9 2347.5L1081.2 2343.4L1090.3 2347.0L1084.4 2354.0L1087.5 2347.6L1093.4 2343.5L1079.9 2339.9L1081.9 2342.6L1091.5 2349.4L1083.2 2351.0L1078.9 2356.4L1084.2 2347.5L1086.6 2345.6L1089.4 2348.8L1081.9 2347.3L1087.5 2351.1L1088.8 2340.0L1079.7 2343.0L1077.1 2348.3L1080.3 2349.7L1082.9 2348.7L1090.3 2344.7L1082.0 2348.4L1084.5 2346.3L1083.6 2347.5L1095.9 2345.2L1084.7 2348.8L1085.7 2344.6L1091.2 2349.7L1080.9 2346.7L1083.3 2346.4L1083.5 2343.6L1089.4 2345.1L1083.7 2308.0L1081.1 2302.0L1090.8 2301.1L1096.5 2298.2L1084.0 2302.0L1096.5 2303.6L1088.2 2302.4L1093.0 2301.8L1085.1 2306.8L1081.4 2300.2L1089.7 2300.0L1099.1 2301.9L1094.3 2303.2L1132.3 2310.3L1123.6 2339.9L1125.9 2340.2L1102.0 2337.3L1089.3 2354.5L1116.1 2311.9L1103.3 2350.9L1118.8 2338.7L1118.9 2351.0L1108.1 2342.5L1112.2 2339.0L1117.5 2327.2L1112.4 2331.4L1124.0 2326.8L1121.0 2329.9L1092.8 2355.0L1121.4 2337.6L1113.9 2332.1L1104.4 2323.9L1124.8 2344.3L1124.9 2336.0L1084.9 2358.1L1117.3 2341.1L1093.8 2351.9L1111.7 2338.0L1087.4 2356.8L1126.9 2336.5L1125.0 2313.5L1106.5 2343.7L1109.9 2330.0L1103.5 2344.0L1111.2 2346.7L1117.2 2321.5L1116.3 2372.4L1130.1 2373.7L1126.1 2373.7L1125.9 2374.0L1124.8 2371.8L1113.7 2375.4L1120.8 2373.9L1124.5 2373.0L1127.8 2374.1L1128.4 2373.8L1138.1 2375.4L1048.6 2255.1L1080.5 2247.2L1074.5 2273.5L1039.8 2289.1L1043.4 2290.3L1060.6 2295.8L1116.5 2294.4L1174.0 2375.3L1029.0 2324.5"/>
<path clip-path="url(#s76)" class="lo" d="M1001.52 2336.96C1004.9 2336.96 1015.64 2337.44 1021.81 2336.96C1027.98 2336.48 1033.33 2333.66 1038.53 2334.07C1043.73 2334.48 1048.21 2337.56 1053 2339.44C1057.79 2341.32 1062.08 2345.57 1067.28 2345.36C1072.48 2345.15 1079.78 2339.6 1084.19 2338.2C1088.61 2336.8 1088.98 2335.97 1093.77 2336.96C1098.57 2337.95 1104.95 2340.72 1112.94 2344.12C1120.93 2347.52 1131.32 2351.95 1141.69 2357.34C1152.06 2362.73 1169.56 2373.29 1175.14 2376.48"/>
<path clip-path="url(#s81)" class="pt" d="M66.9 2492.5L79.8 2481.4L72.9 2476.9L87.7 2480.5L64.5 2478.8L69.1 2490.2L85.7 2486.4L56.8 2482.6L69.7 2481.4L56.8 2482.7L57.7 2481.7L61.2 2480.2L56.8 2477.0L69.1 2484.8L83.0 2485.8L70.7 2482.9L59.4 2482.2L80.8 2486.2L92.2 2478.9L67.7 2488.7L120.2 2494.2L125.9 2494.4L123.0 2498.5L110.9 2492.2L123.4 2495.3L119.5 2503.6L107.6 2484.8L120.8 2491.6L105.7 2496.4L118.0 2498.5L104.8 2485.2L117.7 2488.3L125.0 2497.3L117.6 2494.3L107.7 2487.1L130.1 2494.9L110.1 2489.9L126.2 2485.2L104.3 2492.7L122.7 2487.6L108.9 2493.8L128.6 2492.5L115.4 2498.6L112.5 2495.8L126.6 2495.8L112.7 2506.8L101.2 2490.5L111.0 2498.4L125.7 2481.9L106.9 2485.3L134.7 2493.9L120.7 2490.4L103.8 2489.1L111.8 2484.8L121.8 2493.8L102.3 2487.1L120.0 2495.6L112.9 2499.1L117.4 2495.8L109.8 2487.0L115.9 2492.0L112.2 2485.4L105.2 2490.7L122.6 2495.2L116.2 2504.5L105.0 2492.4L126.4 2490.4L119.4 2485.7L131.3 2491.3L139.6 2498.2L151.6 2484.5L154.7 2499.7L136.2 2500.8L131.1 2487.2L148.7 2481.0L142.3 2499.1L151.0 2498.7L168.8 2499.0L140.3 2489.5L154.3 2494.1L155.7 2498.8L142.6 2481.8L153.3 2494.6L139.5 2483.6L140.3 2486.2L168.6 2490.1L131.0 2493.2L133.3 2495.5L135.0 2482.2L139.8 2493.6L139.1 2495.9L153.8 2488.6L138.1 2492.8L156.8 2493.9L134.1 2499.4L168.2 2497.9L146.2 2497.1L126.3 2499.6L150.3 2503.1L141.8 2502.8L146.3 2478.9L154.2 2496.0L155.4 2492.4L154.6 2493.2L151.2 2486.8L137.9 2490.1L139.1 2501.7L160.1 2491.9L157.5 2492.0L142.1 2507.3L145.1 2476.9L124.4 2503.3L157.6 2481.2L148.9 2485.3L153.4 2486.5L150.7 2494.1L165.9 2493.2L145.8 2496.9L155.3 2497.5L138.0 2480.4L137.3 2506.7L136.2 2496.6L155.2 2493.2L148.2 2492.0L136.7 2495.7L136.8 2485.0L138.0 2493.0L142.2 2498.3L151.3 2494.0L167.8 2498.4L152.5 2496.5L165.8 2501.2L158.0 2489.5L136.8 2486.1L134.8 2506.5L150.1 2495.9L150.5 2497.1L157.7 2492.1L156.9 2477.0L130.6 2492.2L131.1 2482.7L153.5 2498.1L150.7 2454.2L159.1 2456.5L157.4 2464.2L151.1 2468.0L151.4 2461.0L140.4 2470.8L151.5 2452.3L151.7 2453.2L136.4 2470.4L140.3 2458.2L134.0 2446.1L146.3 2455.6L140.5 2453.1L125.7 2457.5L147.9 2462.1L149.6 2458.8L127.6 2465.8L121.7 2478.0L126.7 2450.0L140.3 2464.2L146.6 2459.9L135.4 2456.7L159.8 2464.7L126.5 2479.3L138.3 2449.9L124.7 2447.8L147.2 2461.4L139.5 2463.5L139.7 2458.5L119.7 2463.4L147.9 2467.2L126.5 2464.0L141.3 2470.1L146.1 2461.2L157.1 2455.3L150.0 2450.1L159.6 2450.2L120.8 2467.0L131.3 2457.4L164.7 2457.4L149.4 2466.9L144.2 2454.4L135.3 2467.7L153.4 2457.0L157.3 2467.0L159.9 2464.9L153.0 2462.3L156.6 2462.0L150.9 2463.2L144.7 2465.6L159.4 2469.0L158.5 2467.6L146.7 2467.2L162.2 2465.9L148.1 2461.2L157.1 2456.0L155.1 2460.3L154.6 2460.2L160.3 2467.6L152.9 2461.1L155.2 2457.9L172.2 2488.4L187.0 2486.9L220.6 2476.8L214.5 2459.8L199.7 2486.1L194.3 2492.1L193.9 2466.1L203.7 2486.2L192.5 2487.3L202.6 2479.5L178.5 2470.5L214.4 2486.7L174.7 2499.7L192.3 2467.9L190.7 2479.6L207.9 2488.6L177.4 2486.2L178.1 2474.0L191.7 2478.8L202.3 2471.7L200.0 2486.9L178.7 2483.4L188.8 2481.8L180.4 2481.8L218.9 2486.1L194.0 2483.4L186.5 2480.4L202.9 2490.9L156.4 2471.0L181.0 2490.2L185.7 2489.8L209.4 2485.7L210.7 2469.0L220.5 2492.9L201.8 2480.4L232.7 2491.0L188.1 2483.0L214.9 2435.1L211.8 2426.8L203.2 2429.2L210.6 2432.3L209.6 2429.3L224.0 2430.1L230.5 2436.0L214.0 2427.2L205.4 2436.0L208.4 2440.5L184.5 2425.7L199.3 2430.4L185.7 2426.3L213.6 2427.4L222.3 2438.4L223.7 2422.6L228.5 2441.0L195.9 2434.8L209.4 2430.9L210.1 2436.2L203.3 2435.1L214.2 2427.6L192.2 2437.0L187.7 2433.3L195.5 2511.9L223.2 2512.2L190.3 2510.9L204.4 2508.9L197.1 2513.2L204.6 2512.0L198.5 2509.5L200.8 2510.1L203.4 2508.8L225.4 2513.2L198.4 2508.8L196.7 2511.4L177.5 2513.0L201.2 2511.5L194.7 2512.6L204.1 2511.4L187.0 2509.0L151.6 2391.4L186.3 2386.6L178.6 2402.4L165.2 2424.4L109.6 2432.1L106.7 2445.5L80.9 2477.1"/>
<path clip-path="url(#s81)" class="lo" d="M59.39 2481.82C63.36 2482.44 75.29 2484.32 83.25 2485.54C91.2 2486.76 99.13 2488.34 107.11 2489.12C115.1 2489.9 123.96 2491.02 131.16 2490.22C138.37 2489.42 143.94 2486.3 150.33 2484.3C156.72 2482.3 163.11 2479.64 169.49 2478.24C175.88 2476.84 182.27 2477.09 188.66 2475.9C195.05 2474.71 202.22 2472.69 207.83 2471.08C213.43 2469.47 217.5 2467.66 222.29 2466.26C227.09 2464.86 234.2 2463.28 236.58 2462.68"/>
<path clip-path="url(#s82)" class="pt" d="M268.1 2432.5L277.8 2431.4L276.2 2436.0L270.3 2435.1L274.1 2430.6L271.6 2435.2L269.8 2430.1L267.9 2426.8L269.2 2420.3L267.2 2427.5L264.4 2428.7L271.9 2424.2L275.6 2429.1L270.3 2432.0L281.4 2430.0L273.9 2420.9L280.8 2429.3L275.1 2431.8L276.2 2419.6L270.5 2423.1L270.0 2425.7L275.7 2432.9L265.3 2434.2L256.8 2465.5L265.8 2467.6L257.3 2463.7L258.7 2471.1L258.0 2465.0L255.5 2459.8L249.5 2473.5L250.4 2474.1L252.3 2474.3L262.5 2466.1L261.8 2466.8L264.2 2460.5L253.2 2464.5L259.2 2467.7L254.2 2467.9L251.1 2465.0L257.3 2471.3L265.8 2465.1L270.4 2459.5L257.6 2473.1L265.0 2466.3L261.7 2464.2L258.9 2461.2L264.4 2465.7L247.5 2464.7L251.7 2473.1L268.1 2461.0L262.0 2466.7L261.1 2464.2L295.2 2465.5L295.6 2467.3L285.5 2459.5L288.0 2468.4L296.0 2464.4L286.7 2462.0L292.6 2469.1L297.0 2463.9L304.3 2464.8L287.7 2469.9L295.2 2459.5L309.2 2464.9L290.5 2466.5L288.6 2467.3L300.4 2457.4L291.1 2454.0L284.8 2463.5L288.4 2471.0L286.8 2467.7L287.5 2468.5L295.5 2458.9L295.3 2460.3L294.2 2462.7L288.9 2466.0L282.2 2464.0L290.7 2458.5L290.3 2433.6L312.8 2431.7L292.9 2436.1L292.6 2451.0L294.1 2439.7L306.7 2441.4L299.2 2441.8L287.9 2436.3L282.1 2432.9L298.0 2439.3L292.4 2438.6L299.6 2435.6L295.1 2437.4L297.4 2441.6L294.6 2453.6L303.7 2439.9L299.1 2434.6L293.3 2436.4L283.7 2438.2L300.8 2443.0L301.7 2438.6L285.2 2439.5L288.1 2438.6L314.7 2493.4L308.3 2499.7L312.8 2489.8L325.4 2499.7L310.5 2492.4L314.9 2481.2L302.1 2488.2L324.0 2491.1L312.5 2491.2L327.1 2492.0L307.4 2496.2L311.2 2493.0L297.8 2488.8L309.2 2499.4L305.0 2501.9L307.6 2492.0L329.6 2504.9L325.3 2482.0L306.4 2481.9L320.3 2489.8L336.3 2500.6L328.2 2501.6L325.6 2481.7L321.7 2497.5L334.8 2494.2L315.2 2491.3L333.2 2496.5L312.9 2503.3L318.1 2489.5L337.5 2503.2L317.8 2486.2L295.8 2495.1L307.1 2485.8L307.7 2491.9L338.9 2491.8L297.6 2492.3L298.9 2507.4L309.5 2490.3L317.7 2490.7L323.7 2498.5L316.6 2497.4L318.4 2493.2L303.5 2493.3L331.3 2490.5L315.8 2487.5L308.7 2502.6L328.1 2497.7L321.0 2486.7L298.2 2498.1L313.8 2489.3L310.8 2487.8L326.6 2485.2L337.7 2478.8L298.8 2498.5L318.0 2485.2L332.5 2510.0L304.2 2494.7L341.5 2508.6L319.9 2488.8L310.4 2494.6L312.4 2488.2L308.9 2487.1L281.3 2496.1L316.7 2479.5L334.8 2495.2L302.5 2492.1L304.6 2498.9L305.2 2497.9L304.9 2488.1L324.8 2492.8L333.5 2483.2L328.9 2503.2L310.2 2499.1L317.9 2499.5L309.5 2493.7L325.6 2499.1L289.8 2497.2L303.7 2485.0L310.8 2481.5L339.4 2503.6L308.1 2493.9L309.8 2493.4L308.3 2490.2L326.8 2487.9L313.0 2499.2L302.1 2499.3L324.3 2487.5L314.7 2505.1L306.0 2492.7L338.1 2504.4L293.8 2492.6L330.1 2487.8L312.5 2498.1L314.3 2487.3L322.1 2497.8L335.7 2486.2L325.1 2501.3L316.8 2496.4L329.1 2502.5L298.8 2501.9L296.6 2488.5L320.1 2494.5L311.1 2490.5L335.5 2508.9L324.6 2485.3L330.0 2496.7L292.0 2497.5L328.3 2495.0L317.8 2493.8L319.5 2500.2L312.2 2507.3L333.2 2467.3L355.0 2455.2L329.1 2462.9L333.6 2469.4L314.1 2485.0L342.4 2462.8L355.0 2460.5L332.7 2457.4L333.0 2475.8L321.2 2453.8L323.4 2470.4L348.9 2468.9L344.7 2476.1L335.2 2463.7L328.2 2469.3L322.7 2461.2L320.8 2473.5L324.0 2469.9L329.4 2469.9L332.7 2461.1L313.9 2451.0L325.8 2463.1L322.9 2483.5L331.6 2483.9L339.7 2472.8L340.3 2480.7L316.3 2454.0L336.0 2462.4L312.6 2448.1L341.4 2480.3L346.6 2464.2L325.5 2465.4L336.0 2459.9L367.4 2486.4L376.6 2485.9L330.8 2484.1L374.9 2484.5L367.3 2493.0L351.7 2493.4L365.6 2490.6L370.2 2479.6L338.5 2487.6L352.9 2491.4L373.3 2482.7L341.9 2491.6L365.1 2484.0L374.3 2484.0L347.6 2488.6L362.7 2479.9L372.5 2495.3L333.5 2483.2L325.5 2481.8L366.9 2491.2L374.2 2514.6L373.3 2513.0L381.1 2514.2L408.9 2510.2L378.0 2513.5L372.1 2514.4L391.9 2510.0L381.9 2514.5L400.7 2512.2L365.5 2513.0L409.9 2511.9L414.0 2512.9L380.7 2514.2L394.9 2514.0L407.9 2512.0L400.9 2510.4L363.8 2514.0L373.7 2512.0L258.2 2391.4L269.0 2386.6L282.7 2402.4L253.4 2447.2L259.4 2444.8"/>
<path clip-path="url(#s82)" class="lo" d="M248.6 2451.94C251.39 2453.34 260.13 2457.36 265.32 2460.34C270.52 2463.32 274.97 2467.04 279.79 2469.84C284.61 2472.64 289.47 2474.34 294.26 2477.14C299.05 2479.94 303.72 2484.25 308.54 2486.64C313.36 2489.03 317.59 2490.27 323.2 2491.46C328.8 2492.65 335.03 2492.61 342.17 2493.8C349.32 2494.99 358.05 2496.81 366.04 2498.62C374.02 2500.43 380.51 2502.68 390.09 2504.68C399.67 2506.68 417.96 2509.61 423.54 2510.6"/>
<path clip-path="url(#s83)" class="pt" d="M432.8 2481.9L438.8 2482.3L435.4 2487.1L438.4 2472.2L442.4 2482.7L434.9 2482.3L432.6 2481.1L439.1 2477.3L433.7 2477.2L441.4 2484.4L439.7 2487.6L436.1 2477.0L443.1 2480.8L437.2 2491.1L432.6 2481.9L432.6 2474.1L437.6 2476.8L437.4 2481.7L436.5 2472.0L491.0 2466.2L469.8 2460.5L480.6 2463.7L478.5 2471.1L471.3 2480.2L485.5 2459.9L467.0 2456.1L479.6 2462.3L465.9 2474.1L486.6 2468.3L490.0 2463.4L479.0 2463.6L490.2 2459.9L466.8 2472.4L469.1 2465.9L470.9 2453.6L488.3 2463.9L488.0 2459.2L467.9 2468.7L472.1 2462.8L475.2 2471.2L463.1 2461.8L484.0 2476.1L490.4 2465.7L477.0 2474.3L479.1 2467.7L475.9 2464.8L488.2 2467.3L481.6 2463.3L477.2 2467.1L464.0 2463.9L461.1 2459.5L468.6 2457.3L470.3 2459.8L461.5 2468.4L477.3 2468.2L471.5 2464.0L469.2 2464.6L471.0 2456.5L485.0 2463.9L480.7 2468.5L493.7 2461.7L470.6 2455.5L495.3 2465.2L480.8 2458.9L474.4 2459.3L490.5 2470.5L462.2 2475.7L470.8 2464.0L479.5 2461.2L486.1 2471.0L483.9 2488.4L487.2 2498.9L493.6 2493.0L472.1 2485.8L493.1 2481.7L496.1 2484.8L525.7 2493.6L488.5 2491.5L506.2 2488.6L488.0 2497.2L471.9 2495.4L502.3 2502.9L474.0 2487.4L501.6 2498.9L505.5 2488.4L488.1 2503.9L486.5 2495.5L499.6 2496.7L487.8 2496.5L510.9 2496.9L466.2 2487.7L507.4 2495.3L487.5 2495.6L520.2 2488.8L481.3 2485.3L501.4 2486.8L487.6 2495.7L507.8 2487.5L488.4 2499.2L511.6 2493.1L490.4 2481.5L477.5 2501.9L487.2 2490.1L491.0 2496.8L491.2 2491.0L492.3 2494.2L494.1 2484.6L479.5 2486.7L483.0 2488.7L477.3 2497.5L508.6 2487.7L495.1 2494.8L493.2 2503.8L509.1 2480.6L485.4 2498.5L501.8 2481.6L519.3 2497.6L468.9 2483.8L509.7 2502.4L470.2 2494.7L500.0 2497.4L480.2 2490.0L470.0 2488.9L514.1 2492.7L487.8 2493.5L507.6 2489.7L491.6 2494.4L507.3 2474.9L470.1 2495.7L474.8 2498.0L495.2 2501.8L477.4 2492.9L483.0 2497.1L497.4 2488.6L481.6 2495.0L477.4 2489.1L493.0 2490.1L496.7 2490.8L514.3 2487.7L473.6 2484.3L491.0 2484.6L504.3 2498.2L516.0 2490.1L513.9 2494.3L473.0 2487.3L484.1 2500.8L500.1 2484.8L496.1 2488.0L473.7 2496.9L498.4 2499.0L505.9 2489.5L487.4 2483.0L488.3 2487.3L487.1 2494.1L493.8 2478.8L491.6 2497.3L505.5 2502.1L491.1 2490.2L503.5 2498.3L472.0 2490.1L501.6 2486.4L513.7 2497.5L505.0 2483.9L476.1 2489.7L503.5 2481.8L484.8 2502.8L499.4 2478.1L480.2 2496.7L493.7 2487.5L495.8 2491.4L475.0 2498.9L481.3 2501.4L510.2 2487.6L522.8 2496.6L490.5 2486.5L511.1 2499.1L491.7 2490.6L498.5 2485.8L506.2 2440.0L503.8 2428.8L507.3 2439.0L520.0 2433.7L501.5 2428.6L509.8 2432.8L501.1 2430.3L504.9 2433.1L508.7 2434.6L503.8 2430.2L511.7 2424.8L501.4 2425.4L513.0 2442.6L519.9 2435.9L500.9 2430.9L505.7 2467.7L502.4 2436.4L504.5 2433.7L513.0 2459.5L508.6 2477.4L504.0 2472.8L504.3 2467.3L504.3 2457.1L511.9 2458.1L500.1 2465.2L505.6 2435.3L511.0 2466.6L504.3 2469.4L512.2 2455.8L511.7 2459.2L505.4 2466.5L507.4 2474.7L508.7 2462.9L505.0 2470.2L525.6 2487.8L535.8 2480.4L534.7 2479.2L525.3 2469.7L528.2 2479.9L520.6 2478.1L543.6 2474.0L534.4 2487.3L552.6 2480.1L527.1 2484.7L543.2 2477.0L531.2 2484.7L529.5 2479.3L537.6 2475.5L531.4 2481.8L526.4 2481.6L539.0 2478.6L522.7 2481.7L535.8 2482.9L535.5 2479.2L522.5 2475.1L522.1 2480.8L531.9 2484.6L548.0 2485.8L515.5 2483.6L557.9 2454.2L554.1 2451.5L538.0 2450.2L553.1 2459.1L569.4 2441.9L541.1 2461.4L542.7 2436.2L548.6 2464.7L537.9 2438.3L554.1 2457.7L564.2 2444.7L539.4 2443.1L549.8 2467.1L552.0 2466.1L565.1 2460.4L482.2 2441.1L486.0 2441.9L475.7 2439.1L492.9 2438.2L480.0 2441.2L478.8 2443.0L475.8 2437.5L471.4 2431.2L485.6 2451.2L492.2 2429.5L478.9 2435.4L485.9 2428.8L484.2 2439.7L476.5 2443.1L472.5 2442.3L489.9 2432.5L481.8 2432.0L486.5 2445.1L486.0 2427.4L574.4 2511.2L564.5 2512.6L567.4 2512.5L564.7 2512.8L560.5 2514.5L569.3 2511.9L557.0 2514.4L567.7 2511.6L556.2 2514.7L568.3 2511.4L477.0 2391.4L504.1 2386.6L495.0 2402.4L540.1 2419.6L610.1 2513.0L477.0 2513.0"/>
<path clip-path="url(#s83)" class="lo" d="M435.19 2484.3C438.38 2483.82 447.18 2482.12 454.35 2481.41C461.52 2480.7 471.04 2479.16 478.21 2480.03C485.39 2480.9 489.39 2485.54 497.38 2486.64C505.37 2487.74 519.33 2485.84 526.13 2486.64C532.92 2487.44 533.36 2489.46 538.15 2491.46C542.95 2493.46 548.9 2496.42 554.88 2498.62C560.86 2500.82 564.84 2502.09 574.04 2504.68C583.25 2507.27 604.11 2512.6 610.12 2514.18"/>
<path clip-path="url(#s84)" class="pt" d="M668.6 2429.2L690.8 2426.9L670.0 2420.9L655.3 2426.5L670.3 2435.5L668.4 2426.1L658.3 2422.5L665.7 2427.5L678.5 2427.2L646.4 2430.9L667.6 2429.3L673.4 2433.2L655.1 2422.5L659.4 2433.5L672.0 2431.5L646.0 2431.0L676.8 2423.2L685.0 2428.9L666.6 2432.8L658.2 2423.3L676.3 2424.5L653.8 2430.5L656.6 2424.4L668.9 2460.2L649.7 2470.0L640.3 2461.4L675.8 2470.5L663.3 2471.5L649.9 2471.9L655.1 2458.5L651.3 2467.3L662.1 2473.7L670.9 2468.6L663.5 2476.7L654.3 2472.3L648.6 2466.7L652.8 2463.0L665.1 2456.0L667.0 2468.3L647.7 2466.9L656.6 2459.2L658.5 2473.8L654.5 2462.9L663.6 2464.0L660.9 2465.9L639.5 2467.9L658.6 2453.1L645.4 2460.9L666.5 2458.9L663.7 2455.6L655.5 2453.3L663.2 2464.4L653.8 2466.6L660.6 2463.3L656.3 2452.7L669.1 2468.4L669.8 2457.6L655.3 2458.8L660.0 2473.0L652.4 2453.4L666.9 2459.1L663.6 2480.0L655.1 2464.8L657.6 2469.4L671.7 2468.3L653.2 2468.1L661.8 2456.0L645.5 2470.8L659.9 2464.0L663.4 2464.4L644.9 2463.3L660.0 2460.2L653.8 2459.1L654.8 2454.0L658.5 2462.7L651.2 2497.1L666.5 2482.7L650.3 2488.0L666.4 2491.0L654.4 2490.9L658.2 2490.3L657.2 2498.6L660.4 2489.4L632.0 2494.8L658.2 2491.0L654.3 2492.2L655.2 2492.3L651.8 2493.5L660.6 2491.0L644.4 2493.7L650.5 2489.9L654.8 2489.6L665.4 2486.0L647.9 2489.9L651.4 2498.7L652.1 2489.3L640.2 2489.7L667.3 2489.0L658.9 2493.6L655.2 2489.1L665.1 2491.3L661.6 2490.1L645.8 2491.5L650.8 2496.0L646.7 2498.0L649.6 2498.3L637.6 2493.2L716.0 2502.8L669.5 2500.3L715.1 2495.6L688.5 2500.7L695.1 2487.7L713.1 2499.9L697.7 2491.4L689.4 2492.6L700.6 2489.6L698.9 2494.9L704.2 2485.9L717.2 2492.9L704.1 2493.6L715.7 2493.8L699.1 2504.7L692.2 2480.8L699.5 2497.4L691.6 2508.5L717.0 2485.4L702.3 2480.5L704.5 2489.6L715.4 2473.2L701.8 2477.1L701.2 2488.5L704.8 2495.2L700.9 2488.9L720.1 2497.5L693.1 2494.4L694.8 2485.3L704.6 2480.7L723.4 2484.7L709.4 2491.0L702.9 2481.8L714.4 2488.8L702.9 2497.8L732.5 2490.7L714.2 2489.6L708.2 2495.9L708.8 2503.8L720.3 2489.8L712.5 2488.8L696.2 2487.6L709.4 2487.1L707.3 2494.7L705.9 2499.6L707.1 2490.0L706.2 2491.6L705.2 2481.7L731.3 2483.1L700.7 2488.1L710.3 2490.9L688.1 2489.7L694.4 2487.2L702.2 2493.0L719.4 2474.5L711.9 2485.2L701.9 2488.6L714.8 2490.5L723.4 2495.1L697.9 2490.1L706.3 2489.1L699.4 2495.9L688.2 2504.0L717.4 2487.7L707.2 2485.1L709.0 2485.2L718.6 2491.1L711.4 2496.8L693.1 2480.5L712.9 2491.7L698.2 2480.0L713.6 2493.3L700.0 2490.9L708.8 2478.7L726.9 2479.9L703.6 2499.5L714.3 2484.4L702.0 2486.5L706.9 2491.2L704.8 2503.1L688.2 2482.8L694.3 2487.6L708.3 2490.7L708.3 2495.6L723.1 2491.3L687.7 2502.8L718.6 2489.4L698.4 2490.4L728.9 2485.0L710.3 2492.8L720.7 2479.7L722.3 2495.5L704.0 2499.8L705.1 2488.0L715.4 2502.6L697.8 2480.2L705.1 2473.1L679.9 2446.8L700.6 2454.3L710.5 2467.8L672.5 2446.6L706.9 2458.0L698.3 2457.6L698.7 2458.8L718.2 2450.9L684.0 2449.9L693.1 2452.5L696.0 2454.3L697.9 2456.0L698.1 2452.1L696.3 2456.3L688.9 2453.0L692.1 2440.8L696.4 2459.1L703.7 2460.3L705.4 2462.6L701.5 2464.5L706.8 2466.1L696.2 2459.4L697.2 2463.0L704.0 2454.4L691.5 2458.2L698.5 2446.7L677.5 2446.0L702.2 2452.9L708.2 2449.6L700.6 2456.0L702.7 2462.4L695.7 2458.5L730.8 2494.1L744.6 2489.5L732.6 2493.0L732.1 2486.9L743.9 2491.9L734.7 2495.8L743.0 2502.1L741.2 2495.3L744.4 2490.9L726.9 2485.8L729.1 2494.3L733.9 2490.3L730.2 2480.8L735.7 2494.4L746.6 2489.0L739.8 2497.6L727.3 2485.8L734.1 2492.3L726.5 2485.5L732.2 2498.0L727.4 2489.5L739.9 2501.6L743.8 2502.2L758.1 2513.1L751.9 2512.0L788.9 2512.7L794.9 2511.7L776.7 2509.8L778.6 2512.0L783.5 2512.6L740.8 2511.8L768.3 2512.0L794.7 2512.8L754.3 2513.3L742.5 2511.9L754.1 2511.4L744.3 2514.3L739.5 2511.9L753.7 2512.7L780.5 2512.8L734.2 2511.4L624.4 2447.2L647.2 2391.4L655.6 2386.6L665.2 2402.4L689.1 2419.6L717.9 2432.1L708.3 2439.3L713.1 2439.3L728.7 2470.4L731.1 2469.4"/>
<path clip-path="url(#s84)" class="lo" d="M624.4 2463.92C628 2464.52 639.21 2466.1 646.01 2467.5C652.8 2468.9 659.57 2470.71 665.18 2472.32C670.78 2473.93 674.85 2475.14 679.64 2477.14C684.43 2479.14 689.13 2482.3 693.92 2484.3C698.72 2486.3 702.79 2487.54 708.39 2489.12C714 2490.7 721.17 2492.22 727.56 2493.8C733.95 2495.38 739.55 2496.62 746.72 2498.62C753.9 2500.62 761.82 2502.98 770.59 2505.78C779.36 2508.58 794.54 2513.81 799.34 2515.42"/>
<path clip-path="url(#s85)" class="pt" d="M816.1 2482.0L813.4 2483.4L815.5 2488.9L828.4 2481.7L817.9 2492.0L808.4 2483.1L821.7 2487.8L820.7 2496.3L821.8 2488.2L808.4 2489.7L808.4 2493.8L808.4 2483.7L826.2 2479.6L810.5 2483.4L824.2 2486.5L817.4 2491.4L816.5 2479.7L808.4 2489.0L870.1 2501.1L849.4 2486.1L866.7 2499.7L848.0 2494.6L852.4 2489.2L852.4 2503.8L856.8 2487.0L837.0 2500.9L853.4 2491.6L852.8 2482.1L856.4 2488.3L845.6 2494.3L840.3 2491.5L857.4 2493.7L840.5 2481.6L861.7 2495.5L865.8 2484.4L843.1 2490.1L854.7 2500.6L846.4 2478.2L855.0 2497.5L847.2 2488.3L852.2 2481.1L861.8 2491.3L863.2 2484.6L845.9 2484.6L851.2 2491.7L861.7 2482.6L855.9 2485.0L847.4 2491.7L860.5 2490.2L865.5 2493.4L853.6 2478.5L847.8 2485.7L849.0 2481.0L879.5 2497.7L849.5 2488.1L871.3 2499.3L856.7 2497.7L858.9 2487.8L845.7 2493.2L847.0 2489.1L847.3 2479.4L862.3 2492.7L852.7 2490.6L859.6 2491.8L869.3 2500.7L870.0 2499.6L856.0 2491.6L861.5 2499.2L856.1 2478.9L846.2 2488.2L845.1 2486.5L852.7 2498.0L848.4 2492.4L854.8 2487.3L861.6 2499.0L850.7 2491.7L858.6 2491.3L863.3 2497.5L862.4 2484.3L846.5 2488.1L863.6 2492.9L859.2 2477.8L851.9 2485.9L851.2 2452.1L859.2 2456.2L853.9 2451.9L861.6 2449.9L855.7 2462.7L862.6 2441.7L849.1 2452.5L858.9 2456.7L856.7 2451.4L853.2 2464.1L854.2 2461.3L852.2 2459.9L855.7 2457.3L851.5 2450.3L855.6 2449.6L851.8 2454.9L852.2 2466.7L862.7 2451.1L864.7 2440.7L851.8 2458.5L877.5 2505.7L880.0 2486.6L883.8 2480.9L886.2 2486.0L878.1 2500.9L871.3 2495.4L890.5 2504.6L889.3 2497.3L877.8 2492.3L884.6 2495.3L889.0 2486.6L875.5 2493.1L874.4 2498.0L887.0 2495.6L903.5 2492.2L881.6 2507.1L877.5 2480.1L870.8 2496.0L880.4 2494.2L887.5 2490.8L871.8 2499.3L872.1 2493.6L872.8 2500.1L885.1 2483.4L876.0 2490.8L889.7 2485.9L877.2 2487.0L884.9 2486.3L890.3 2491.4L872.9 2495.0L888.3 2500.5L876.8 2492.2L883.6 2501.5L875.6 2498.7L894.9 2480.7L883.4 2502.1L873.7 2494.2L880.4 2492.9L894.7 2484.3L872.6 2504.0L875.3 2489.8L880.1 2506.8L883.0 2488.0L871.5 2497.9L880.8 2505.7L885.9 2490.9L891.5 2450.3L926.8 2447.9L909.1 2457.1L894.8 2452.2L894.9 2450.3L898.6 2449.7L911.3 2452.9L916.0 2450.1L899.6 2456.6L931.0 2455.2L902.3 2471.6L898.1 2450.7L913.0 2459.4L928.8 2459.7L881.3 2453.0L893.8 2458.7L900.5 2458.1L912.8 2451.8L930.0 2459.9L912.8 2455.8L912.7 2455.8L898.6 2461.9L882.3 2461.3L906.3 2464.4L896.2 2458.6L900.2 2453.6L886.0 2453.9L877.4 2457.2L935.1 2455.3L893.7 2456.0L916.7 2466.4L933.9 2454.1L912.5 2451.1L903.7 2461.6L914.9 2458.8L892.2 2458.5L915.1 2462.2L920.2 2453.9L923.2 2458.0L884.9 2456.8L928.9 2459.7L908.5 2455.9L921.9 2460.4L904.0 2447.2L886.6 2454.8L938.3 2455.8L914.7 2464.6L920.1 2456.5L895.0 2463.5L877.6 2453.8L926.8 2459.7L894.4 2456.9L921.3 2434.4L914.6 2439.3L924.3 2438.5L915.2 2443.2L928.5 2441.2L924.3 2447.3L940.8 2437.0L921.5 2435.9L926.8 2434.8L923.2 2440.5L923.2 2449.8L922.0 2432.9L922.4 2440.9L928.1 2433.7L920.9 2438.5L926.2 2448.1L926.3 2438.6L925.6 2435.5L923.6 2432.5L921.5 2435.5L912.6 2496.0L940.3 2492.7L911.5 2488.3L915.0 2497.5L910.0 2492.4L934.0 2502.5L921.6 2507.7L919.8 2490.2L911.0 2490.4L918.4 2508.3L905.4 2493.1L917.7 2499.3L898.8 2496.4L909.7 2494.1L901.8 2492.9L919.8 2493.0L919.1 2488.1L917.2 2490.1L927.4 2508.1L914.6 2497.3L919.5 2505.5L926.4 2483.9L928.8 2509.5L914.4 2490.7L908.2 2492.3L913.9 2490.3L912.6 2492.6L941.2 2494.3L923.9 2515.0L909.5 2491.1L908.2 2494.4L920.2 2486.2L916.3 2507.2L956.5 2468.8L958.6 2487.8L954.7 2486.4L961.5 2476.1L963.0 2471.2L952.7 2471.0L958.8 2482.5L945.5 2464.9L950.1 2472.4L959.8 2470.4L947.8 2484.9L944.5 2463.5L957.4 2468.9L962.1 2470.9L952.7 2478.7L959.1 2469.8L975.6 2511.7L975.2 2513.9L965.4 2512.5L977.5 2513.5L969.8 2512.7L967.7 2512.2L980.7 2514.0L966.5 2513.3L978.0 2512.9L973.6 2512.3L890.0 2391.4L913.2 2386.6L923.5 2402.4L846.8 2432.1L936.7 2419.6L965.5 2424.4L964.3 2435.2L958.3 2438.8L949.9 2431.6"/>
<path clip-path="url(#s85)" class="lo" d="M813.24 2493.8C816.84 2493.41 828.05 2492.06 834.85 2491.46C841.64 2490.86 847.63 2490.82 854.01 2490.22C860.4 2489.62 866.76 2489.28 873.18 2487.88C879.6 2486.48 886.18 2483.61 892.53 2481.82C898.89 2480.03 905.75 2477.74 911.32 2477.14C916.9 2476.54 921.16 2477.05 925.98 2478.24C930.8 2479.43 934.69 2482.1 940.26 2484.3C945.83 2486.5 951.82 2487.88 959.43 2491.46C967.04 2495.04 981.5 2503.39 985.92 2505.78"/>
<path clip-path="url(#s86)" class="pt" d="M1004.3 2482.0L1001.4 2481.6L1001.4 2481.9L1014.2 2487.1L1005.7 2486.5L1006.2 2484.7L1002.8 2480.9L1014.1 2484.8L998.1 2477.3L1018.0 2489.2L1000.7 2480.1L1006.9 2480.5L1005.2 2484.7L1015.3 2484.9L1003.7 2479.6L1007.3 2486.3L1004.8 2483.2L1006.4 2479.5L1006.0 2484.6L1058.6 2473.4L1043.0 2443.4L1044.8 2453.7L1044.7 2456.2L1050.4 2454.2L1054.7 2451.8L1049.4 2460.0L1046.2 2450.6L1033.2 2432.0L1044.3 2466.2L1034.6 2455.0L1036.5 2458.3L1044.3 2463.0L1039.8 2453.2L1050.4 2458.7L1047.2 2446.6L1035.8 2467.8L1049.3 2447.3L1044.2 2443.9L1050.0 2472.3L1058.2 2456.7L1047.1 2457.9L1043.9 2461.0L1038.5 2456.1L1052.4 2452.7L1042.4 2431.7L1046.0 2445.9L1043.8 2454.0L1040.6 2460.3L1047.3 2431.4L1047.3 2455.6L1054.0 2450.2L1032.3 2456.6L1047.6 2452.4L1048.0 2443.0L1052.3 2496.4L1059.2 2500.3L1055.4 2485.6L1071.5 2496.7L1065.2 2494.3L1040.2 2484.6L1073.0 2498.5L1057.4 2495.9L1072.5 2491.1L1070.2 2494.2L1073.3 2495.6L1048.1 2500.8L1058.0 2493.7L1062.9 2496.3L1076.7 2505.1L1075.4 2492.4L1056.5 2493.5L1063.7 2494.3L1042.9 2511.2L1057.3 2501.3L1062.8 2486.9L1054.3 2501.0L1055.9 2499.4L1053.6 2496.4L1053.5 2489.4L1057.3 2496.0L1064.1 2504.0L1061.2 2497.7L1069.2 2492.5L1050.2 2496.5L1078.8 2485.3L1078.1 2503.3L1082.5 2495.7L1071.2 2486.5L1047.5 2494.8L1054.1 2499.2L1056.0 2483.0L1054.0 2498.6L1050.8 2497.9L1061.0 2498.6L1067.3 2495.7L1055.8 2486.5L1064.8 2493.7L1073.4 2505.2L1052.3 2493.6L1079.5 2502.5L1049.8 2489.0L1059.2 2500.8L1049.2 2492.8L1066.1 2494.8L1067.7 2490.9L1057.0 2476.7L1063.1 2493.8L1064.4 2492.7L1042.2 2490.4L1060.3 2499.5L1090.1 2492.3L1052.7 2497.2L1073.7 2502.1L1057.6 2500.1L1070.4 2495.2L1072.0 2504.9L1072.6 2492.7L1055.0 2499.2L1048.0 2494.2L1047.9 2485.6L1048.2 2505.2L1042.9 2489.4L1080.5 2502.2L1070.1 2495.6L1033.3 2487.1L1036.4 2487.4L1066.0 2489.6L1066.7 2494.6L1054.6 2498.8L1069.4 2498.1L1064.6 2502.0L1066.9 2498.3L1074.5 2499.9L1069.3 2498.5L1054.9 2494.7L1061.0 2505.0L1044.1 2493.7L1054.5 2503.4L1060.4 2496.8L1048.1 2499.2L1069.2 2498.7L1041.7 2498.2L1053.9 2494.7L1071.2 2502.7L1064.0 2495.9L1062.1 2498.4L1057.6 2506.1L1054.8 2484.9L1059.5 2491.9L1052.9 2493.0L1059.8 2503.1L1064.0 2491.6L1044.2 2498.5L1073.5 2502.3L1057.8 2489.5L1066.4 2503.4L1070.7 2493.8L1079.7 2500.6L1077.8 2495.1L1071.2 2499.4L1035.6 2494.6L1062.1 2495.7L1053.7 2494.9L1067.9 2492.0L1056.7 2500.6L1076.7 2503.4L1061.7 2490.9L1061.9 2489.7L1068.7 2496.4L1046.0 2499.3L1058.2 2495.2L1076.4 2499.3L1076.6 2457.9L1079.3 2457.1L1084.6 2466.3L1076.9 2472.7L1073.0 2441.7L1080.9 2468.7L1070.2 2447.7L1066.6 2444.6L1062.8 2448.1L1083.4 2462.1L1057.1 2478.6L1074.7 2454.5L1075.6 2472.2L1074.7 2489.6L1069.6 2448.2L1069.3 2475.2L1057.4 2458.4L1065.3 2461.0L1067.5 2461.2L1076.8 2454.5L1064.3 2454.2L1082.3 2472.5L1055.6 2446.6L1071.4 2451.2L1062.6 2448.7L1060.2 2462.3L1076.4 2460.2L1072.3 2485.3L1074.8 2473.5L1071.0 2467.0L1086.1 2466.3L1056.3 2446.4L1051.6 2444.8L1069.3 2467.6L1068.9 2464.3L1080.8 2470.4L1070.0 2449.2L1069.6 2475.1L1073.0 2455.7L1062.2 2451.7L1084.1 2464.1L1070.6 2453.1L1097.2 2433.1L1087.9 2436.7L1089.0 2432.2L1092.2 2432.1L1098.3 2438.5L1087.9 2432.9L1088.2 2431.5L1086.8 2441.7L1087.7 2431.4L1089.0 2438.4L1093.0 2431.6L1091.0 2436.5L1078.8 2431.7L1101.5 2430.3L1087.2 2429.1L1095.4 2432.9L1087.3 2429.4L1099.5 2468.0L1101.1 2469.3L1110.1 2489.0L1091.6 2471.0L1111.8 2469.3L1122.1 2473.1L1097.7 2472.7L1103.7 2457.0L1107.2 2463.7L1125.3 2469.5L1117.4 2472.7L1104.4 2480.1L1090.6 2470.5L1103.4 2483.0L1109.0 2483.0L1106.2 2470.6L1105.9 2491.0L1104.0 2476.5L1104.5 2485.6L1128.4 2464.9L1091.1 2473.8L1111.0 2480.9L1095.1 2464.6L1114.8 2490.2L1119.8 2475.7L1111.1 2431.9L1128.6 2442.0L1127.0 2442.6L1125.9 2427.7L1110.0 2429.1L1113.6 2432.6L1118.4 2459.0L1108.9 2425.9L1128.4 2442.7L1112.2 2426.8L1113.1 2429.6L1104.1 2422.9L1110.3 2428.7L1108.7 2420.6L1124.7 2510.4L1118.8 2512.8L1127.7 2512.1L1120.5 2513.4L1117.6 2512.2L1128.6 2511.9L1129.7 2509.3L1110.3 2512.4L1124.6 2513.9L1112.7 2513.1L1125.3 2510.7L1048.6 2391.4L1080.5 2386.6L1074.5 2402.4L1060.6 2424.4L1038.1 2432.1L1140.4 2501.0L1174.0 2513.0L1029.0 2477.1"/>
<path clip-path="url(#s86)" class="lo" d="M1000.2 2480.72C1003.8 2480.51 1015.01 2479.69 1021.81 2479.48C1028.6 2479.27 1034.59 2478.08 1040.97 2479.48C1047.36 2480.88 1054.5 2487.08 1060.14 2487.88C1065.78 2488.68 1070.01 2485.91 1074.8 2484.3C1079.59 2482.69 1084.13 2478.65 1088.89 2478.24C1093.65 2477.83 1098.57 2479.62 1103.36 2481.82C1108.15 2484.02 1111.25 2488.06 1117.64 2491.46C1124.03 2494.86 1132.11 2497.82 1141.69 2502.2C1151.27 2506.58 1169.56 2515.17 1175.14 2517.76"/>
<path clip-path="url(#s87)" class="pt" d="M1204.3 2507.3L1210.1 2502.5L1193.0 2507.5L1213.1 2510.6L1192.8 2511.2L1206.0 2504.4L1203.9 2502.2L1203.0 2499.2L1195.6 2509.5L1184.2 2516.2L1205.9 2498.8L1201.7 2505.6L1195.9 2497.6L1198.5 2511.4L1191.5 2513.1L1193.9 2503.3L1195.0 2511.3L1210.6 2494.0L1199.4 2498.9L1217.9 2488.5L1191.7 2506.8L1189.0 2504.5L1213.0 2503.3L1193.3 2508.7L1199.2 2501.9L1193.0 2504.1L1199.9 2496.8L1191.3 2507.6L1209.4 2501.0L1202.5 2508.4L1213.1 2494.7L1200.1 2497.1L1196.7 2507.3L1202.1 2505.1L1196.5 2505.0L1195.6 2507.0L1191.6 2505.7L1210.3 2500.9L1211.6 2504.9L1189.7 2498.6L1194.5 2512.2L1192.0 2500.1L1203.1 2501.2L1185.3 2505.2L1201.3 2501.6L1206.9 2495.7L1190.5 2502.7L1195.4 2507.5L1218.7 2491.3L1191.4 2507.1L1195.0 2509.5L1204.4 2503.8L1209.5 2497.5L1203.5 2500.7L1212.5 2496.2L1197.1 2505.0L1194.1 2499.4L1214.1 2501.0L1194.0 2507.3L1252.0 2490.5L1231.4 2485.2L1245.1 2486.4L1245.5 2483.5L1217.2 2487.4L1221.9 2485.5L1218.0 2479.3L1203.3 2499.6L1252.2 2483.8L1213.6 2492.0L1215.2 2500.3L1214.9 2489.8L1245.8 2483.6L1220.9 2494.2L1211.3 2495.2L1245.9 2489.4L1224.9 2503.4L1233.8 2482.1L1231.8 2495.9L1230.4 2501.5L1220.7 2497.9L1208.7 2494.5L1218.9 2488.0L1224.9 2486.8L1232.3 2484.6L1231.1 2477.6L1241.7 2480.3L1237.3 2471.0L1240.2 2484.7L1238.1 2481.6L1238.3 2478.5L1215.5 2487.4L1225.3 2485.0L1233.0 2485.4L1245.6 2471.1L1241.9 2478.7L1227.7 2484.4L1239.5 2490.5L1219.3 2492.5L1237.6 2476.8L1246.5 2477.1L1246.9 2483.2L1248.4 2488.3L1230.6 2494.2L1230.3 2486.3L1227.8 2493.9L1253.7 2475.5L1214.0 2486.3L1234.2 2490.2L1229.1 2484.9L1233.2 2488.6L1224.7 2478.7L1232.5 2481.1L1228.3 2488.2L1198.4 2490.4L1226.5 2489.3L1220.2 2489.7L1211.6 2493.1L1237.6 2484.6L1237.9 2483.1L1242.5 2491.1L1243.2 2488.7L1213.8 2480.6L1239.7 2480.5L1226.2 2497.4L1221.6 2500.2L1247.7 2482.4L1230.3 2490.3L1234.9 2480.9L1234.5 2488.0L1247.0 2486.7L1239.7 2472.6L1231.3 2479.4L1221.4 2492.6L1249.5 2479.2L1209.8 2495.5L1221.2 2491.2L1238.8 2483.1L1228.3 2488.4L1221.6 2491.6L1228.4 2486.3L1222.3 2483.4L1212.9 2491.3L1259.0 2481.6L1230.0 2484.8L1246.1 2485.0L1208.4 2496.8L1224.8 2490.6L1232.0 2479.2L1227.5 2485.0L1239.1 2483.6L1221.3 2477.7L1248.8 2485.8L1226.9 2488.7L1235.4 2484.3L1210.6 2482.9L1232.7 2496.8L1237.9 2477.7L1243.3 2489.9L1220.5 2491.9L1234.3 2483.0L1227.6 2500.5L1250.8 2480.1L1208.2 2494.3L1217.5 2495.6L1245.7 2489.1L1221.8 2484.5L1226.9 2501.7L1227.0 2481.6L1216.9 2481.3L1243.3 2483.7L1229.2 2484.0L1234.0 2483.2L1242.8 2494.4L1232.0 2483.1L1224.1 2487.8L1232.4 2488.8L1225.9 2478.0L1260.4 2461.4L1260.4 2485.7L1244.7 2472.1L1266.8 2458.0L1257.6 2465.8L1248.9 2465.0L1281.5 2459.5L1272.9 2456.6L1257.0 2467.1L1263.9 2456.5L1256.0 2458.4L1259.0 2474.8L1252.4 2463.2L1253.7 2470.7L1265.0 2460.6L1269.1 2464.8L1260.8 2462.9L1274.9 2462.6L1252.8 2462.3L1256.7 2464.8L1260.5 2464.1L1265.8 2468.4L1266.9 2466.2L1250.9 2471.5L1266.5 2459.8L1260.7 2474.5L1256.9 2470.6L1259.1 2456.3L1250.1 2474.9L1263.6 2477.9L1268.9 2461.1L1269.4 2452.0L1267.1 2453.7L1260.8 2468.0L1269.3 2464.5L1263.6 2467.7L1259.1 2473.6L1263.1 2464.3L1248.7 2466.0L1255.8 2450.8L1253.1 2461.9L1267.5 2467.7L1287.9 2456.1L1272.4 2457.5L1261.9 2464.1L1263.8 2459.8L1261.0 2459.4L1262.6 2460.1L1259.6 2454.5L1271.1 2461.0L1274.2 2454.4L1254.3 2471.3L1278.7 2457.2L1277.1 2453.8L1264.0 2468.1L1276.0 2457.1L1257.6 2464.9L1261.0 2462.0L1265.8 2449.3L1246.4 2465.2L1252.7 2469.6L1264.3 2462.4L1259.8 2460.4L1275.9 2461.4L1265.2 2464.0L1267.6 2458.2L1268.2 2461.8L1265.5 2456.3L1253.2 2471.4L1273.5 2439.6L1281.1 2433.9L1264.9 2441.5L1280.6 2438.2L1285.5 2424.6L1266.6 2443.7L1280.1 2422.8L1282.3 2430.6L1274.2 2433.4L1271.2 2433.6L1297.6 2432.7L1279.1 2440.1L1276.0 2433.4L1281.0 2428.2L1274.2 2432.0L1296.9 2424.9L1270.0 2444.6L1288.6 2427.0L1263.2 2441.3L1267.9 2445.6L1278.4 2436.2L1288.6 2435.4L1263.3 2437.5L1273.0 2445.1L1277.6 2434.8L1256.0 2442.3L1270.5 2439.7L1285.9 2436.4L1292.0 2421.1L1284.1 2428.2L1276.7 2429.7L1281.5 2422.5L1287.8 2438.2L1286.1 2434.0L1281.3 2425.0L1304.1 2444.8L1306.5 2442.4L1326.9 2402.4L1350.9 2391.4L1361.7 2386.6L1243.0 2459.1"/>
<path clip-path="url(#s87)" class="lo" d="M1185.47 2515.42C1188.88 2513.03 1198.56 2505.48 1205.95 2501.1C1213.34 2496.72 1221.83 2493.53 1229.81 2489.12C1237.8 2484.71 1245.88 2480.26 1253.87 2474.66C1261.85 2469.06 1269.74 2462.7 1277.73 2455.52C1285.71 2448.34 1293.79 2439.55 1301.78 2431.56C1309.77 2423.57 1317.25 2415.98 1325.64 2407.6C1334.04 2399.22 1347.72 2385.68 1352.14 2381.3"/>
<path clip-path="url(#s91)" class="pt" d="M79.7 2604.2L70.3 2604.5L70.2 2601.4L81.9 2600.3L74.3 2603.7L72.3 2607.7L74.7 2610.7L72.0 2612.2L72.9 2610.8L81.2 2605.5L69.5 2602.8L69.2 2599.6L70.8 2601.9L85.3 2601.0L80.3 2604.6L80.0 2605.7L69.5 2602.7L80.0 2603.6L120.0 2620.2L121.8 2606.8L115.4 2624.8L101.3 2603.8L124.1 2619.7L120.4 2617.0L110.7 2608.2L113.5 2626.4L105.8 2631.9L109.4 2610.4L125.4 2616.0L121.4 2627.0L117.4 2608.2L131.3 2614.0L112.7 2617.1L120.0 2626.6L102.8 2607.1L119.4 2629.4L119.5 2618.2L103.8 2607.3L112.8 2635.1L136.6 2615.6L124.2 2612.5L111.5 2604.3L107.5 2611.9L123.0 2608.8L104.5 2612.8L115.6 2616.5L115.3 2613.3L111.9 2616.1L127.2 2619.7L123.8 2612.2L105.6 2611.8L114.5 2634.6L118.8 2612.9L126.5 2614.0L125.1 2617.5L124.3 2631.3L148.8 2615.6L155.0 2627.3L155.5 2603.1L155.0 2579.3L154.1 2623.4L142.2 2600.4L155.5 2593.2L145.1 2613.4L150.6 2605.3L135.1 2602.6L140.4 2633.5L147.7 2575.9L154.3 2626.6L147.4 2596.8L153.6 2577.5L146.3 2613.2L128.3 2620.8L134.1 2618.5L141.0 2589.5L158.0 2628.6L156.7 2637.8L118.3 2638.2L139.0 2610.8L169.9 2604.1L149.3 2571.3L153.2 2617.1L142.7 2633.9L133.1 2611.8L145.9 2616.2L147.0 2641.8L124.3 2616.0L167.6 2636.8L117.0 2609.3L153.7 2619.1L146.9 2616.1L150.4 2632.8L150.8 2613.1L144.0 2617.3L147.6 2595.5L140.0 2612.0L123.8 2652.8L144.4 2593.2L150.5 2600.9L143.2 2629.1L140.1 2590.4L146.7 2603.8L139.5 2586.1L171.7 2630.0L137.4 2610.6L136.4 2594.5L152.7 2627.2L127.9 2589.0L148.1 2623.9L138.7 2619.2L137.1 2602.5L149.6 2641.6L131.5 2600.2L131.5 2631.7L143.9 2609.9L139.9 2618.0L148.2 2613.0L159.6 2580.5L148.7 2596.7L145.8 2602.5L165.7 2601.5L155.9 2610.5L131.6 2611.9L155.1 2599.2L156.2 2598.5L151.4 2631.2L154.8 2608.4L148.2 2591.4L136.3 2626.3L146.6 2613.4L132.0 2592.0L115.7 2611.0L146.8 2574.7L141.6 2594.8L127.0 2624.3L127.9 2608.8L155.7 2576.2L141.4 2586.0L157.9 2634.0L125.9 2601.9L145.9 2605.7L157.6 2610.1L150.9 2650.8L146.8 2595.6L152.6 2585.8L161.4 2630.0L152.9 2610.9L132.1 2626.9L152.8 2592.7L136.1 2592.1L141.8 2637.3L145.3 2608.2L141.8 2598.8L150.4 2574.3L145.9 2580.1L146.0 2640.2L163.1 2594.1L149.7 2633.4L167.8 2601.0L143.7 2643.4L156.1 2614.9L145.4 2580.5L138.8 2611.6L143.2 2614.4L148.5 2578.5L161.7 2593.4L147.2 2634.9L145.8 2605.7L158.7 2644.8L158.1 2610.0L158.7 2635.6L130.2 2609.5L123.4 2629.8L117.6 2641.8L157.6 2619.8L147.8 2625.5L158.3 2616.3L130.6 2614.5L151.3 2594.3L129.2 2623.5L138.9 2602.4L142.2 2600.7L136.0 2587.7L171.4 2599.9L154.0 2592.6L147.5 2620.8L169.8 2614.4L125.9 2635.2L138.8 2613.8L134.1 2619.0L139.2 2573.3L146.2 2611.6L153.6 2585.5L162.1 2636.5L153.8 2607.6L168.2 2538.9L196.9 2538.0L204.7 2537.9L199.3 2541.4L175.6 2534.1L166.8 2540.4L175.6 2537.3L172.2 2536.7L198.2 2536.8L178.2 2539.7L183.2 2529.4L174.5 2534.0L181.1 2539.5L173.9 2540.4L198.3 2537.0L182.2 2536.9L182.6 2531.3L162.0 2538.9L205.7 2536.9L178.8 2535.7L187.2 2530.2L197.4 2539.8L203.6 2537.6L202.7 2537.2L174.1 2533.0L209.6 2544.1L191.7 2540.3L183.2 2553.7L197.9 2550.9L191.2 2555.4L187.1 2549.9L196.4 2548.3L228.0 2548.4L204.3 2558.6L216.2 2546.4L182.6 2540.1L191.2 2541.7L225.3 2548.7L195.2 2545.7L182.5 2549.9L213.3 2549.8L191.0 2542.6L191.7 2552.0L202.7 2555.7L186.2 2606.1L181.5 2602.4L165.0 2581.4L183.7 2600.9L182.0 2590.2L178.5 2589.2L187.4 2606.5L187.8 2600.3L185.8 2605.0L181.8 2599.1L180.0 2638.4L189.8 2630.8L183.9 2625.9L179.8 2631.9L227.9 2629.8L208.0 2626.6L186.9 2627.5L201.7 2626.0L180.2 2630.9L181.1 2636.4L188.4 2631.5L229.4 2632.7L187.3 2630.4L180.3 2647.3L208.8 2648.4L209.8 2647.8L196.6 2647.6L230.6 2646.8L191.9 2650.0L186.7 2647.9L204.8 2650.8L216.4 2648.4L194.9 2651.0L219.7 2648.8L181.3 2647.0L181.3 2649.7L230.9 2646.6L225.8 2648.0L192.7 2646.6L234.1 2647.5L198.4 2648.4L73.7 2583.7L80.9 2616.7L88.1 2619.6L60.5 2629.2L59.3 2630.4L207.9 2523.8L230.7 2537.0L216.3 2607.6L222.3 2642.3"/>
<path clip-path="url(#s91)" class="lo" d="M60.51 2607.13C64.3 2607.4 75.48 2607.91 83.25 2608.78C91.02 2609.65 99.91 2610.96 107.11 2612.36C114.31 2613.76 120.83 2616.29 126.47 2617.18C132.1 2618.08 136.14 2618.92 140.93 2617.73C145.73 2616.54 150.83 2613.3 155.21 2610.02C159.6 2606.74 163.26 2601.23 167.24 2598.04C171.22 2594.85 175.51 2592.39 179.08 2590.88C182.65 2589.36 183.87 2590.35 188.66 2588.95C193.45 2587.55 199.84 2585.55 207.83 2582.48C215.81 2579.4 231.78 2572.5 236.58 2570.5"/>
<path clip-path="url(#s92)" class="pt" d="M277.7 2537.8L265.1 2541.2L268.9 2534.4L273.0 2537.1L254.9 2533.2L261.5 2532.0L260.1 2528.3L259.5 2540.9L261.3 2533.7L277.6 2538.1L274.0 2539.5L279.9 2536.3L263.5 2534.9L252.9 2529.1L263.0 2528.1L251.5 2539.8L281.5 2536.6L268.2 2538.5L279.5 2535.6L285.3 2536.3L279.5 2539.9L253.5 2527.1L254.2 2536.5L264.1 2532.7L284.2 2533.5L263.0 2529.6L278.5 2535.5L262.2 2538.0L252.3 2531.7L272.9 2533.5L258.9 2528.8L257.2 2534.1L295.8 2542.3L306.8 2547.7L303.5 2533.3L310.1 2547.7L300.3 2549.8L290.4 2539.6L308.3 2543.5L293.1 2556.4L299.4 2535.4L307.5 2536.5L288.0 2544.2L306.1 2532.8L313.4 2551.8L311.9 2546.6L297.3 2551.4L295.1 2546.1L262.1 2615.0L282.2 2602.6L270.2 2580.8L262.1 2605.3L267.0 2582.3L265.7 2607.3L275.4 2592.5L270.1 2596.7L292.1 2581.8L267.1 2612.2L263.9 2600.6L287.2 2611.9L268.8 2598.4L254.4 2601.1L257.2 2598.4L272.9 2603.4L273.4 2604.2L266.5 2588.7L268.0 2597.7L281.3 2615.9L279.6 2588.5L260.2 2620.3L265.1 2600.9L270.9 2613.1L268.6 2603.2L275.5 2597.6L268.0 2601.5L267.6 2600.2L255.5 2606.1L276.7 2595.5L261.9 2605.2L254.5 2571.4L247.2 2601.5L272.9 2605.1L258.5 2599.8L287.5 2587.3L279.1 2605.4L263.6 2597.8L268.9 2601.3L253.9 2610.6L284.3 2587.7L268.6 2597.8L274.0 2601.8L273.4 2591.1L272.9 2586.5L318.6 2605.9L311.5 2630.8L329.4 2630.7L335.3 2638.4L323.5 2617.5L314.9 2605.4L328.2 2638.5L333.6 2629.8L306.0 2623.2L304.1 2607.4L327.9 2616.3L308.7 2599.2L302.2 2615.4L309.1 2626.6L308.8 2608.9L278.9 2594.0L302.8 2618.3L291.6 2610.1L333.8 2625.8L315.4 2611.1L312.1 2620.5L321.1 2616.9L297.5 2601.0L295.2 2618.8L299.6 2616.7L302.1 2596.8L312.0 2620.6L285.0 2624.1L335.7 2614.5L313.1 2617.3L292.0 2623.3L310.4 2628.3L334.3 2625.1L319.5 2638.9L316.7 2624.8L324.4 2631.5L302.1 2610.8L289.6 2616.8L306.1 2609.4L307.3 2623.7L324.0 2623.1L299.2 2621.1L306.4 2609.3L310.5 2618.4L294.3 2611.9L324.1 2644.9L306.8 2629.4L331.1 2625.8L281.3 2619.0L296.9 2602.3L322.1 2639.9L340.6 2610.6L319.7 2609.5L283.7 2600.2L321.2 2625.6L312.4 2633.3L307.5 2618.4L307.0 2602.2L311.8 2607.7L309.5 2610.4L278.0 2594.9L326.0 2628.1L328.4 2628.6L308.3 2598.4L303.4 2617.7L318.9 2619.3L305.9 2615.6L278.4 2601.8L299.0 2617.5L318.4 2626.0L297.1 2608.8L282.5 2602.0L319.6 2627.1L296.7 2601.4L329.9 2623.0L327.9 2633.8L309.5 2618.2L298.9 2607.9L307.0 2608.0L319.6 2634.1L316.5 2621.4L291.3 2614.1L307.6 2616.6L334.8 2644.1L310.4 2609.3L318.3 2614.8L304.9 2627.5L323.2 2630.4L320.9 2605.8L323.5 2639.1L317.6 2630.5L321.5 2623.0L315.2 2611.0L319.9 2639.0L317.5 2642.5L309.2 2616.8L324.8 2633.1L327.7 2622.7L277.8 2599.3L299.1 2608.1L310.1 2608.3L295.8 2600.5L296.8 2594.7L285.7 2604.0L309.0 2621.7L308.8 2626.1L318.2 2625.8L303.6 2623.7L331.1 2604.9L297.2 2608.8L313.8 2626.1L321.6 2644.1L323.5 2616.6L293.9 2605.5L305.2 2619.7L289.9 2593.8L321.3 2597.2L315.9 2628.6L303.6 2618.1L341.6 2635.3L315.8 2620.4L311.1 2625.2L325.3 2609.0L302.7 2610.5L292.6 2598.9L320.1 2630.1L316.7 2603.7L296.7 2593.6L301.6 2614.8L303.1 2634.3L303.4 2579.1L297.3 2590.7L284.5 2570.8L301.7 2581.6L294.4 2574.9L310.0 2583.1L293.3 2582.2L295.9 2588.3L317.1 2576.2L297.7 2583.8L291.8 2575.3L293.6 2585.2L306.8 2585.8L307.0 2581.0L294.5 2574.8L313.7 2575.0L294.6 2581.9L288.8 2577.2L285.5 2570.9L386.8 2617.0L381.5 2617.1L373.3 2618.8L373.3 2608.6L364.5 2611.6L366.7 2617.3L361.0 2623.5L362.7 2616.1L370.9 2619.0L368.2 2610.9L366.7 2618.0L357.4 2626.4L377.5 2610.5L365.3 2608.6L378.3 2622.6L356.9 2622.6L351.1 2625.3L351.2 2619.0L358.4 2614.7L357.5 2619.7L387.0 2615.4L365.2 2624.3L373.4 2613.4L384.6 2649.4L389.4 2649.9L416.6 2652.6L381.2 2649.1L382.2 2648.4L397.2 2650.2L392.0 2649.5L425.5 2648.1L392.8 2648.6L395.1 2651.0L417.0 2647.9L405.6 2649.5L387.4 2649.5L386.9 2649.5L399.5 2652.2L399.8 2650.1L388.5 2650.8L400.8 2651.0L389.0 2649.8L391.2 2604.5L345.7 2650.2L312.1 2650.2"/>
<path clip-path="url(#s92)" class="lo" d="M248.6 2570.5C251.39 2571.69 259.34 2574.68 265.32 2577.66C271.31 2580.64 279.67 2585.39 284.49 2588.4C289.31 2591.41 291.03 2592.51 294.26 2595.7C297.49 2598.89 300.65 2603.57 303.84 2607.54C307.04 2611.51 309.45 2616.51 313.43 2619.52C317.4 2622.53 322.13 2623.97 327.71 2625.58C333.28 2627.19 339.67 2627.76 346.87 2629.16C354.08 2630.56 362.12 2631.98 370.92 2633.98C379.72 2635.98 390.9 2638.75 399.67 2641.14C408.44 2643.53 419.56 2647.11 423.54 2648.3"/>
<path clip-path="url(#s93)" class="pt" d="M450.3 2596.7L443.8 2608.6L435.4 2604.6L446.5 2601.6L451.3 2605.2L442.5 2601.7L453.8 2605.4L443.6 2603.4L442.5 2599.5L448.2 2595.4L444.9 2602.0L434.8 2605.1L449.0 2603.2L434.6 2602.2L444.2 2607.8L432.6 2604.2L447.9 2607.1L443.8 2605.7L436.1 2603.5L467.8 2538.8L475.5 2544.8L486.3 2533.0L458.5 2553.8L487.2 2542.6L516.0 2543.1L505.9 2535.3L496.3 2540.2L490.2 2534.7L497.4 2553.1L535.1 2526.6L496.0 2551.8L474.2 2533.7L483.1 2553.2L485.3 2532.2L478.1 2539.3L515.7 2540.1L464.0 2555.7L495.3 2550.8L493.1 2534.1L478.4 2533.6L473.2 2554.7L488.2 2535.4L504.3 2536.3L480.4 2542.2L476.2 2537.5L502.4 2540.5L481.6 2543.6L504.7 2549.8L491.9 2549.8L487.1 2533.8L508.4 2548.0L501.7 2548.9L510.6 2547.4L478.9 2579.9L473.5 2582.3L473.8 2587.7L480.6 2598.7L458.5 2600.9L473.4 2584.6L473.4 2582.8L474.5 2596.9L468.3 2600.3L478.2 2577.3L485.6 2581.7L470.1 2582.0L483.0 2577.4L478.3 2579.5L469.5 2579.9L471.7 2594.0L465.6 2580.6L491.4 2590.1L471.1 2594.7L473.1 2577.4L477.2 2595.8L488.0 2590.1L473.9 2597.8L474.5 2576.3L476.1 2584.1L475.6 2589.7L481.7 2596.2L469.7 2585.6L487.2 2583.6L471.6 2576.2L464.4 2584.2L458.0 2607.6L479.1 2576.5L468.2 2585.6L474.5 2588.4L476.0 2599.7L483.6 2580.7L483.6 2575.2L467.8 2594.4L479.7 2591.8L489.8 2632.8L496.4 2623.4L495.0 2622.4L503.7 2640.7L476.0 2600.4L478.1 2607.2L502.6 2614.2L499.1 2605.8L496.4 2626.1L487.5 2624.8L493.0 2638.0L509.1 2624.7L503.3 2625.8L495.6 2614.3L490.8 2630.4L477.4 2600.4L516.5 2627.6L476.8 2616.9L501.3 2617.6L486.9 2611.0L512.4 2615.0L484.8 2618.4L487.0 2617.8L496.7 2612.9L516.1 2636.4L508.4 2634.7L512.7 2632.6L510.1 2641.3L506.0 2623.3L511.6 2643.5L489.0 2620.8L517.6 2628.0L516.4 2621.9L487.0 2614.6L491.4 2606.7L502.1 2637.1L497.5 2624.0L493.1 2630.1L490.2 2634.2L505.4 2635.0L506.1 2645.2L485.8 2611.6L496.4 2622.7L505.3 2628.8L509.3 2643.3L501.0 2621.7L502.4 2630.8L499.1 2629.0L511.5 2628.9L493.6 2629.8L497.2 2636.3L500.6 2640.9L518.6 2640.6L497.7 2608.3L497.3 2634.5L490.9 2616.4L493.5 2618.9L482.3 2624.1L495.0 2611.2L512.2 2631.1L506.9 2628.5L505.0 2644.1L509.7 2618.0L484.0 2618.5L508.5 2625.5L503.1 2633.4L512.0 2642.7L483.7 2621.4L508.0 2643.8L501.1 2636.5L495.6 2627.5L480.2 2617.1L505.4 2630.7L499.1 2631.2L483.7 2598.6L505.6 2636.7L487.5 2610.7L496.5 2616.1L494.7 2620.5L481.4 2607.1L481.9 2612.7L507.9 2642.1L502.6 2618.5L500.9 2634.1L484.5 2617.9L488.5 2610.2L499.4 2620.4L494.6 2638.6L479.7 2611.2L473.7 2608.6L501.1 2619.5L509.7 2617.0L495.0 2621.0L491.6 2613.6L494.7 2630.2L509.7 2627.1L489.2 2609.3L492.6 2606.8L506.7 2633.8L487.0 2614.1L516.5 2633.2L506.7 2606.9L492.3 2606.5L498.9 2601.3L504.4 2641.9L506.4 2623.2L485.0 2611.1L499.1 2628.4L485.7 2619.0L508.1 2644.1L499.6 2615.6L477.7 2604.1L500.0 2624.9L507.6 2624.5L504.8 2627.8L486.1 2622.9L506.3 2638.7L520.3 2650.2L514.9 2622.6L498.6 2623.4L497.4 2614.7L543.2 2630.2L541.4 2620.1L546.6 2626.0L542.3 2635.4L540.8 2627.9L533.1 2628.7L527.2 2630.5L534.1 2625.4L521.6 2627.8L529.5 2629.7L531.5 2630.6L546.7 2629.9L533.4 2624.2L537.0 2620.6L533.3 2629.5L538.6 2625.6L540.3 2622.3L534.1 2631.9L546.0 2628.9L562.9 2546.1L538.5 2552.3L567.1 2538.1L550.2 2545.3L541.6 2539.6L553.4 2540.8L564.4 2546.9L563.6 2543.7L552.1 2545.4L546.5 2549.6L566.8 2534.5L564.2 2545.9L547.5 2551.9L509.7 2590.4L522.7 2608.6L511.9 2613.1L521.9 2605.1L520.5 2599.4L514.1 2602.9L507.3 2605.9L513.4 2592.6L515.3 2585.9L515.4 2588.1L521.6 2587.9L520.1 2594.6L501.9 2602.7L506.0 2594.3L522.2 2593.3L511.8 2592.9L518.8 2601.3L522.7 2599.1L523.1 2603.8L508.8 2603.1L571.4 2651.5L564.8 2649.0L564.0 2651.4L570.0 2651.0L570.3 2652.7L570.5 2649.1L565.0 2651.2L567.5 2652.3L569.3 2652.4L573.8 2652.8L568.1 2651.8L610.1 2650.7L477.0 2650.7L526.2 2648.3L544.9 2648.3L449.5 2583.7L461.5 2616.7L439.9 2629.2L468.6 2633.9L546.5 2604.0L550.1 2607.6"/>
<path clip-path="url(#s93)" class="lo" d="M435.19 2602.86C438.38 2602.65 447.96 2601.83 454.35 2601.62C460.74 2601.41 467.94 2600.22 473.52 2601.62C479.09 2603.02 483.41 2606.62 487.8 2610.02C492.18 2613.42 496.63 2619.41 499.82 2622C503.02 2624.59 502.58 2624.78 506.96 2625.58C511.35 2626.38 520.52 2625.83 526.13 2626.82C531.73 2627.81 534.21 2629.11 540.6 2631.5C546.99 2633.89 554.09 2637.15 564.46 2641.14C574.83 2645.13 596.4 2653.07 602.79 2655.46"/>
<path clip-path="url(#s94)" class="pt" d="M655.8 2538.5L663.6 2539.2L652.6 2538.0L647.0 2537.4L653.3 2547.4L663.1 2545.8L670.5 2539.0L665.2 2522.2L660.1 2531.6L655.1 2532.6L651.1 2547.0L646.2 2538.4L654.2 2553.0L665.6 2528.5L643.2 2537.2L659.6 2546.4L659.3 2540.1L658.2 2530.4L656.2 2541.2L667.6 2521.8L652.1 2535.7L661.5 2524.1L661.5 2539.6L663.9 2541.4L651.8 2534.5L661.4 2544.0L703.3 2552.1L707.2 2552.7L694.9 2541.2L693.2 2547.6L702.7 2552.5L711.0 2547.9L676.0 2547.5L696.9 2541.6L691.4 2548.8L681.3 2544.3L703.0 2541.4L695.9 2548.6L702.0 2546.8L707.7 2535.8L712.7 2553.7L686.3 2548.3L703.7 2555.5L687.2 2549.1L700.4 2541.3L695.5 2550.7L670.0 2607.1L655.3 2599.4L676.5 2613.0L669.1 2601.1L672.4 2605.2L657.8 2611.2L669.9 2621.1L662.5 2601.8L670.0 2609.3L656.0 2592.1L661.9 2595.1L655.8 2595.7L667.1 2604.7L664.3 2601.4L668.7 2603.9L658.5 2611.3L666.9 2610.5L649.7 2601.5L661.5 2619.1L664.8 2597.5L660.8 2599.3L669.1 2601.3L674.2 2613.2L660.1 2612.8L658.5 2612.3L661.7 2602.6L657.9 2593.3L654.0 2605.6L664.4 2608.3L653.8 2602.9L669.9 2617.0L672.1 2604.5L658.0 2609.8L661.7 2604.1L671.3 2610.3L664.9 2612.2L664.2 2608.4L651.8 2605.0L663.7 2598.2L659.7 2595.7L674.7 2618.4L662.6 2594.6L671.0 2597.2L663.9 2609.1L650.1 2604.2L662.7 2609.1L660.8 2610.7L652.4 2604.6L663.0 2605.6L667.1 2611.2L656.4 2611.1L671.0 2619.2L672.2 2609.7L662.8 2599.7L663.9 2611.7L665.0 2607.8L663.3 2592.4L660.6 2596.2L642.6 2611.4L640.5 2581.8L653.1 2585.4L668.4 2583.8L673.3 2585.7L670.1 2570.8L668.9 2572.4L669.6 2579.7L671.8 2582.0L659.4 2577.0L667.6 2589.3L667.0 2590.5L668.9 2580.9L678.5 2580.5L666.7 2584.9L653.6 2584.6L667.0 2575.7L666.8 2574.4L673.5 2585.0L659.4 2579.9L668.3 2567.9L658.6 2581.2L664.4 2580.1L664.3 2584.7L675.2 2587.0L669.5 2579.1L641.3 2579.2L664.6 2578.1L666.8 2584.2L674.7 2573.9L675.8 2568.4L670.2 2580.0L673.3 2579.2L670.1 2586.2L699.0 2623.5L699.2 2642.2L713.0 2607.9L704.8 2615.0L711.2 2626.3L722.4 2602.4L721.8 2640.1L702.7 2642.2L726.9 2621.9L701.2 2632.5L689.1 2607.4L701.7 2617.7L691.7 2621.2L698.1 2631.6L694.1 2611.9L728.0 2626.9L705.0 2620.4L708.2 2626.0L675.4 2625.1L719.1 2645.8L705.9 2616.1L736.1 2627.3L721.4 2631.3L710.8 2616.4L705.6 2629.6L671.3 2622.8L711.6 2632.3L704.6 2616.8L718.6 2643.5L702.5 2622.5L710.5 2631.4L721.1 2625.2L695.9 2614.7L713.6 2612.9L704.3 2623.5L712.3 2619.8L690.6 2602.2L706.8 2619.0L682.4 2620.9L710.9 2634.1L720.4 2610.2L700.8 2604.7L696.0 2613.0L745.1 2638.0L709.1 2622.0L708.7 2628.8L711.0 2634.5L704.2 2621.6L692.4 2617.1L712.6 2639.9L704.2 2615.9L730.3 2623.0L695.5 2611.2L714.9 2632.0L703.4 2628.7L717.9 2620.6L700.9 2620.7L698.5 2630.6L715.0 2641.4L700.7 2620.7L683.2 2624.4L696.9 2621.5L716.9 2633.8L702.5 2623.5L700.6 2608.3L699.1 2613.4L702.3 2617.5L677.7 2624.2L717.5 2640.6L715.0 2632.4L730.4 2631.5L710.8 2622.7L712.0 2621.1L717.6 2608.3L707.5 2606.4L696.2 2635.8L702.8 2613.6L712.8 2627.7L701.7 2632.9L701.6 2628.3L722.0 2613.9L714.8 2599.3L706.4 2618.2L728.3 2629.1L693.3 2626.4L696.4 2629.1L716.1 2626.1L687.9 2622.3L718.2 2614.2L696.1 2615.8L716.4 2633.6L732.2 2624.0L691.6 2627.5L713.5 2645.2L739.1 2627.7L706.7 2636.5L710.8 2621.2L715.5 2642.4L703.4 2618.5L722.6 2616.6L722.8 2614.7L708.7 2628.2L713.8 2627.7L705.6 2645.6L722.2 2602.0L703.7 2616.7L678.3 2622.5L716.1 2610.9L716.4 2612.6L727.0 2624.9L714.2 2626.6L733.4 2633.5L741.0 2628.7L736.8 2626.8L746.8 2632.2L733.8 2632.2L738.0 2629.9L736.3 2633.6L760.4 2635.8L753.8 2631.1L727.5 2631.3L736.5 2627.8L739.1 2629.1L739.0 2632.3L751.6 2631.7L735.9 2627.1L735.9 2630.0L733.1 2630.1L730.6 2629.8L761.1 2648.9L761.0 2649.3L761.8 2650.2L741.7 2648.7L749.8 2653.1L738.1 2648.9L779.0 2648.7L731.6 2649.2L753.5 2647.3L759.3 2652.9L758.2 2649.5L726.0 2649.8L750.3 2650.0L754.5 2649.3L776.4 2649.5L771.2 2649.6L759.7 2653.1L755.4 2650.9L624.4 2538.6L667.6 2523.8L758.6 2604.0L665.2 2650.7"/>
<path clip-path="url(#s94)" class="lo" d="M625.72 2557.28C628.28 2559.28 635.74 2564.67 641.12 2569.26C646.51 2573.85 652.43 2580.02 658.03 2584.82C663.64 2589.62 669.56 2593.84 674.76 2598.04C679.96 2602.24 685.19 2606.83 689.23 2610.02C693.27 2613.21 695.02 2615.18 699 2617.18C702.97 2619.18 707.55 2620.39 713.09 2622C718.63 2623.61 725.46 2624.82 732.26 2626.82C739.05 2628.82 746.66 2631.59 753.86 2633.98C761.07 2636.37 767.89 2638.16 775.47 2641.14C783.05 2644.12 795.36 2650.09 799.34 2651.88"/>
<path clip-path="url(#s95)" class="pt" d="M835.3 2621.0L818.1 2616.2L820.2 2619.6L813.1 2614.2L825.0 2629.1L825.7 2610.0L826.8 2618.8L832.6 2627.5L818.8 2634.1L822.3 2635.2L836.2 2629.0L821.9 2621.7L833.3 2626.4L835.0 2618.0L826.1 2621.6L837.8 2618.4L836.4 2619.7L852.7 2641.4L841.9 2636.9L857.3 2639.8L856.5 2623.6L847.6 2631.0L843.9 2648.2L846.0 2636.3L862.5 2632.7L854.9 2639.2L858.8 2641.0L861.4 2635.3L829.8 2636.5L852.7 2643.4L846.9 2637.5L849.5 2632.0L858.2 2636.4L853.8 2641.7L854.3 2641.6L841.2 2642.5L838.5 2628.1L854.8 2628.5L833.3 2631.7L845.8 2635.6L853.9 2637.9L845.1 2636.5L852.5 2641.5L851.0 2634.3L855.1 2642.8L858.5 2642.5L848.9 2635.1L859.4 2635.4L859.4 2631.3L840.2 2638.9L840.0 2633.0L857.2 2625.1L857.4 2635.9L844.5 2653.2L839.5 2637.3L853.2 2647.4L852.2 2646.4L835.4 2633.7L850.4 2644.0L851.6 2628.9L860.1 2636.5L857.8 2627.8L838.3 2634.3L850.5 2627.8L857.2 2642.9L857.7 2625.5L852.4 2602.4L858.7 2617.6L857.7 2617.2L857.9 2609.5L848.2 2611.6L863.1 2601.9L842.3 2611.0L862.9 2614.4L852.6 2609.2L865.0 2601.6L863.9 2623.9L863.2 2616.4L848.9 2601.4L859.6 2607.9L858.2 2614.1L846.9 2608.5L860.6 2610.1L862.6 2614.2L865.4 2601.3L852.1 2601.0L859.1 2604.9L863.5 2614.6L851.3 2611.9L857.0 2601.3L859.3 2621.3L857.6 2604.1L861.1 2610.8L867.6 2610.2L853.4 2604.2L845.6 2608.9L872.6 2580.2L862.5 2593.7L883.1 2587.7L875.8 2598.5L873.9 2602.4L888.6 2602.3L870.8 2598.3L868.4 2597.8L895.5 2601.7L890.0 2589.3L868.3 2597.4L893.2 2584.2L868.8 2584.5L881.8 2596.1L894.0 2596.2L883.5 2597.9L885.7 2591.8L880.5 2600.2L870.7 2587.1L915.6 2590.4L888.2 2593.8L866.0 2589.4L899.4 2593.4L884.7 2592.9L882.8 2581.0L880.6 2587.8L889.9 2607.6L884.3 2596.4L883.7 2580.4L884.4 2600.7L867.0 2589.1L881.2 2591.5L875.2 2597.3L878.0 2600.2L879.0 2587.2L875.7 2602.7L896.0 2593.4L869.1 2593.6L882.4 2600.9L892.1 2607.5L881.2 2586.9L887.3 2606.7L895.2 2584.8L886.9 2587.2L878.8 2582.7L891.8 2600.7L877.9 2593.5L880.4 2583.8L858.2 2592.6L875.2 2583.3L920.8 2597.3L860.5 2594.4L881.5 2593.6L883.1 2593.5L868.0 2589.7L904.3 2594.4L890.5 2585.0L879.8 2592.5L871.0 2593.6L861.1 2594.1L879.4 2599.4L878.5 2633.1L884.6 2623.1L888.6 2628.5L914.4 2629.2L913.3 2614.0L911.4 2616.5L907.1 2627.7L897.8 2631.8L907.8 2634.8L894.2 2622.3L910.6 2619.1L917.0 2632.8L899.6 2626.7L880.6 2627.2L889.4 2624.9L926.2 2619.1L898.7 2618.5L891.7 2613.8L932.5 2621.9L893.8 2628.5L905.3 2635.5L900.0 2631.4L905.9 2634.7L898.5 2633.7L881.0 2628.6L912.0 2628.6L905.4 2626.2L925.1 2629.6L896.8 2631.6L914.0 2615.3L922.9 2629.5L899.1 2626.8L893.4 2635.4L896.8 2634.2L910.2 2633.7L894.0 2630.9L907.9 2634.6L894.0 2630.2L875.9 2626.8L894.8 2629.0L906.1 2629.8L901.2 2624.8L908.8 2619.2L928.3 2543.4L932.5 2553.7L906.0 2541.6L937.5 2539.2L913.7 2541.5L929.7 2547.1L923.0 2532.9L939.1 2534.8L934.2 2551.5L915.7 2530.9L917.7 2535.9L921.0 2546.5L921.6 2539.1L924.3 2542.3L916.3 2531.7L909.6 2538.3L924.4 2535.9L915.4 2540.6L940.4 2554.3L930.9 2549.9L932.9 2552.0L928.8 2547.1L923.2 2538.1L938.4 2545.7L935.2 2543.9L932.3 2537.6L916.7 2540.7L957.6 2557.5L961.3 2558.8L965.4 2550.7L958.6 2548.6L961.9 2548.7L962.2 2546.4L957.9 2550.8L960.9 2547.3L963.3 2547.1L958.4 2556.0L910.3 2606.2L926.0 2587.0L923.0 2606.0L907.5 2592.7L932.0 2580.5L936.4 2591.0L924.3 2609.6L910.1 2603.3L907.1 2590.6L935.7 2601.2L910.5 2607.8L921.0 2587.6L922.1 2588.5L913.7 2581.1L915.9 2597.4L923.1 2607.8L925.6 2589.7L926.4 2611.7L914.5 2603.6L913.6 2606.7L925.2 2584.2L922.1 2609.6L934.9 2586.6L933.6 2605.0L931.5 2628.4L947.8 2628.0L947.1 2628.9L931.9 2628.0L936.0 2630.1L952.3 2628.1L942.5 2629.7L950.5 2628.0L948.5 2627.4L941.2 2630.3L950.7 2629.8L931.9 2628.6L968.9 2649.7L976.8 2649.9L984.4 2650.2L972.3 2650.5L973.3 2649.6L977.9 2651.4L980.0 2651.4L966.2 2649.7L970.4 2648.8L973.3 2650.6L942.7 2523.8L969.1 2607.6L946.3 2648.3L955.9 2648.3L916.3 2649.5L855.2 2650.7"/>
<path clip-path="url(#s95)" class="lo" d="M813.24 2645.96C817.25 2643.55 830.5 2635.49 837.29 2631.5C844.09 2627.51 848.44 2625.19 854.01 2622C859.59 2618.81 865.13 2615.16 870.74 2612.36C876.34 2609.56 881.64 2607.2 887.65 2605.2C893.66 2603.2 900.83 2600.98 906.81 2600.38C912.8 2599.78 918.4 2600.01 923.54 2601.62C928.67 2603.23 931.65 2606.23 937.63 2610.02C943.61 2613.81 951.38 2618.76 959.43 2624.34C967.47 2629.92 981.5 2640.29 985.92 2643.48"/>
<path clip-path="url(#s96)" class="pt" d="M1011.5 2606.5L1009.3 2609.3L1018.8 2601.8L1015.7 2610.2L1003.6 2605.6L1016.4 2606.1L1000.0 2600.2L1003.5 2607.3L1012.3 2604.8L1015.1 2606.6L1009.7 2608.1L1016.1 2608.0L1008.7 2608.2L1009.3 2609.9L1006.7 2606.3L1010.1 2607.7L1090.1 2539.2L1081.1 2544.3L1082.7 2545.9L1048.6 2549.1L1069.1 2537.8L1083.1 2558.5L1095.4 2541.1L1089.0 2538.8L1079.1 2544.9L1083.5 2537.5L1081.5 2545.9L1086.1 2551.8L1076.7 2546.3L1085.8 2552.6L1077.4 2549.7L1068.9 2546.0L1077.2 2544.2L1099.7 2533.6L1085.6 2545.7L1074.5 2553.1L1085.0 2539.6L1077.7 2542.4L1077.6 2557.0L1078.4 2545.1L1093.2 2539.8L1080.4 2534.0L1093.1 2543.4L1071.3 2546.7L1076.2 2556.7L1112.3 2551.4L1115.1 2550.0L1122.2 2557.3L1107.0 2555.3L1125.1 2551.5L1114.7 2540.5L1117.1 2554.6L1118.5 2556.7L1112.7 2553.7L1118.0 2537.5L1124.5 2546.1L1113.3 2552.4L1113.5 2547.3L1046.6 2589.8L1053.2 2577.1L1036.3 2602.3L1036.6 2598.9L1045.6 2598.2L1041.7 2582.5L1038.1 2600.9L1032.2 2603.2L1050.5 2598.8L1035.9 2612.5L1055.8 2592.0L1047.8 2583.6L1040.7 2575.5L1040.0 2612.1L1043.8 2597.2L1055.3 2617.3L1030.1 2581.6L1055.4 2582.1L1048.7 2601.3L1046.1 2583.6L1050.7 2593.9L1036.6 2580.5L1045.4 2584.7L1041.5 2597.2L1037.7 2609.4L1041.1 2605.5L1046.9 2586.5L1029.5 2592.0L1038.0 2584.6L1056.2 2606.8L1032.1 2587.6L1043.4 2594.2L1051.9 2595.5L1038.7 2602.7L1030.3 2582.5L1037.9 2602.3L1053.8 2599.5L1039.8 2593.9L1043.1 2600.8L1045.7 2597.3L1043.0 2580.1L1046.4 2596.3L1043.1 2593.1L1047.5 2573.5L1053.2 2600.0L1050.5 2594.5L1045.4 2583.8L1048.7 2574.9L1053.8 2578.9L1035.8 2585.4L1051.2 2588.8L1042.8 2575.5L1044.1 2612.0L1042.8 2579.3L1054.8 2583.5L1048.1 2586.2L1052.9 2602.6L1043.3 2597.4L1024.8 2587.1L1046.4 2612.3L1055.5 2579.1L1053.3 2595.9L1048.7 2593.3L1046.0 2592.3L1040.8 2590.7L1053.3 2599.8L1071.2 2645.8L1061.0 2617.4L1065.4 2624.5L1072.1 2635.3L1067.2 2624.8L1069.4 2634.9L1069.5 2620.2L1066.6 2626.5L1065.5 2635.5L1068.3 2638.5L1069.3 2622.8L1080.6 2635.2L1071.8 2638.7L1058.7 2635.4L1073.4 2624.7L1071.0 2636.2L1077.9 2629.0L1078.4 2637.8L1065.3 2617.5L1074.2 2615.3L1075.9 2625.1L1061.6 2637.7L1078.3 2624.5L1070.2 2622.0L1057.8 2635.5L1063.5 2603.7L1083.4 2619.6L1074.1 2632.1L1077.7 2629.6L1076.3 2633.8L1060.3 2633.5L1070.5 2647.6L1064.6 2631.0L1094.4 2633.0L1066.5 2634.5L1093.6 2615.2L1066.6 2620.5L1065.2 2610.8L1081.4 2632.9L1068.2 2634.8L1068.0 2613.4L1065.9 2615.8L1057.4 2631.8L1073.0 2629.9L1074.9 2622.0L1067.7 2639.9L1059.3 2619.6L1074.7 2628.6L1074.9 2635.9L1069.1 2647.4L1080.2 2614.8L1069.7 2632.1L1064.7 2627.8L1068.2 2633.8L1052.4 2631.1L1075.4 2613.4L1072.9 2621.6L1061.7 2642.3L1069.6 2612.9L1088.3 2626.8L1077.9 2634.7L1063.2 2626.4L1077.3 2619.3L1070.4 2621.9L1073.6 2627.4L1075.2 2633.1L1073.7 2643.9L1064.6 2635.5L1078.6 2625.2L1059.8 2634.7L1084.7 2640.2L1075.2 2642.0L1063.5 2624.0L1068.8 2633.3L1062.4 2633.4L1063.4 2624.0L1079.8 2621.1L1068.1 2628.4L1072.7 2623.4L1061.8 2620.3L1070.1 2632.5L1080.2 2618.9L1077.4 2629.4L1067.3 2621.8L1070.6 2625.6L1070.1 2641.1L1067.1 2615.3L1075.9 2623.8L1068.0 2638.3L1081.7 2626.5L1061.2 2638.8L1074.0 2627.3L1054.6 2600.9L1083.3 2608.4L1064.1 2591.3L1068.3 2602.0L1057.7 2599.7L1073.7 2605.2L1083.1 2597.1L1063.2 2598.3L1064.7 2595.3L1066.1 2590.9L1080.8 2594.1L1066.8 2595.1L1074.5 2589.1L1074.7 2587.1L1079.9 2606.0L1074.7 2592.6L1059.4 2600.3L1075.5 2597.8L1071.9 2593.4L1081.1 2593.5L1069.2 2593.6L1074.6 2592.1L1059.5 2601.1L1077.3 2590.9L1077.8 2600.1L1068.3 2591.6L1071.2 2602.4L1076.3 2606.4L1081.3 2597.8L1070.1 2589.4L1084.5 2609.0L1078.3 2592.4L1083.0 2606.5L1104.9 2623.2L1105.3 2612.0L1098.9 2615.2L1104.3 2610.3L1100.9 2623.1L1110.2 2621.3L1102.2 2623.8L1105.3 2618.5L1088.6 2624.4L1092.0 2619.7L1107.4 2613.6L1095.3 2618.9L1109.0 2624.4L1106.0 2617.5L1093.5 2618.2L1101.0 2618.0L1108.4 2617.8L1106.1 2621.7L1107.8 2620.9L1109.4 2621.9L1121.1 2648.8L1119.9 2649.0L1118.9 2649.7L1134.0 2649.4L1139.6 2648.8L1121.7 2648.6L1127.8 2649.2L1123.2 2649.9L1138.6 2649.1L1116.0 2649.6L1128.3 2649.6L1014.6 2583.7L1029.0 2616.7L1003.8 2629.2L1037.4 2633.9L1120.1 2607.6L1140.4 2642.3L1174.0 2650.7L1092.5 2523.8"/>
<path clip-path="url(#s96)" class="lo" d="M1001.52 2605.2C1004.9 2604.99 1015.64 2604.35 1021.81 2603.96C1027.98 2603.57 1033.33 2601.85 1038.53 2602.86C1043.73 2603.87 1048.58 2607.63 1053 2610.02C1057.42 2612.41 1060.64 2615.99 1065.03 2617.18C1069.41 2618.37 1074.52 2617.39 1079.31 2617.18C1084.1 2616.97 1089.39 2614.75 1093.77 2615.94C1098.16 2617.13 1100.82 2621.33 1105.61 2624.34C1110.4 2627.35 1115.73 2630.38 1122.52 2633.98C1129.32 2637.58 1139.22 2642.17 1146.39 2645.96C1153.56 2649.75 1162.36 2654.91 1165.55 2656.7"/>
<path clip-path="url(#s97)" class="pt" d="M1188.8 2654.2L1201.3 2620.2L1199.4 2624.5L1195.6 2629.4L1193.8 2635.4L1196.5 2645.1L1203.8 2612.3L1190.4 2644.0L1198.0 2641.9L1199.5 2640.6L1197.0 2628.7L1197.4 2638.8L1210.9 2627.3L1192.9 2641.4L1206.2 2631.6L1207.1 2637.9L1191.7 2639.3L1213.6 2630.4L1203.6 2644.8L1184.2 2646.1L1206.2 2632.5L1208.1 2631.9L1202.3 2648.2L1198.3 2635.6L1193.0 2640.9L1201.7 2631.3L1201.2 2631.2L1185.5 2634.9L1187.4 2637.9L1222.0 2619.7L1195.3 2636.9L1219.3 2619.8L1211.8 2623.3L1192.6 2630.1L1197.8 2633.8L1214.7 2628.8L1199.7 2632.1L1184.2 2640.6L1197.8 2630.0L1199.6 2626.6L1207.8 2617.9L1206.1 2637.0L1196.8 2626.1L1191.0 2647.0L1214.0 2612.2L1194.1 2650.4L1190.6 2642.9L1203.6 2613.5L1193.2 2639.5L1196.5 2642.4L1195.2 2629.9L1197.5 2644.8L1200.4 2637.8L1212.4 2624.9L1188.9 2650.6L1202.6 2629.6L1201.9 2643.1L1194.9 2626.0L1200.7 2620.4L1188.6 2641.9L1207.0 2636.0L1186.4 2641.2L1203.9 2636.6L1204.7 2633.8L1225.8 2621.1L1189.5 2636.2L1202.9 2628.6L1219.7 2626.5L1211.4 2627.7L1196.0 2627.8L1203.0 2630.9L1209.3 2629.3L1197.7 2633.4L1196.0 2641.2L1194.5 2636.0L1193.5 2624.2L1191.6 2649.9L1229.5 2599.3L1228.6 2604.5L1239.9 2632.8L1241.2 2596.4L1222.3 2584.3L1236.9 2629.5L1205.7 2629.0L1210.9 2618.9L1236.2 2629.3L1232.8 2612.5L1233.2 2623.7L1226.1 2622.9L1226.6 2622.6L1220.5 2625.9L1223.0 2605.7L1225.8 2602.5L1228.0 2628.3L1227.9 2612.7L1229.7 2618.5L1216.6 2618.5L1233.4 2630.6L1224.0 2615.8L1228.5 2618.7L1219.9 2635.9L1234.2 2615.7L1217.7 2632.1L1231.4 2595.1L1225.9 2617.3L1210.0 2620.1L1232.7 2638.2L1235.7 2613.4L1217.1 2621.1L1221.5 2606.7L1218.1 2622.8L1218.5 2620.9L1231.3 2611.8L1225.3 2609.1L1231.4 2605.0L1232.2 2594.4L1230.5 2615.1L1218.2 2602.3L1234.1 2604.0L1214.9 2625.2L1225.3 2628.9L1213.6 2607.2L1237.3 2627.4L1232.8 2622.4L1225.3 2633.2L1236.6 2624.8L1211.6 2621.4L1227.7 2612.3L1240.8 2598.6L1226.6 2628.8L1232.1 2599.9L1226.6 2612.7L1233.1 2635.1L1228.0 2593.6L1214.6 2614.4L1224.8 2615.4L1225.4 2604.6L1235.6 2623.8L1218.3 2613.1L1231.2 2623.2L1224.4 2635.1L1225.7 2618.7L1228.8 2600.3L1225.1 2605.1L1222.7 2630.2L1235.6 2601.4L1224.5 2630.9L1234.8 2608.6L1224.9 2625.3L1228.4 2621.6L1226.0 2623.1L1225.3 2612.1L1220.9 2608.7L1244.5 2612.1L1242.4 2598.1L1235.2 2625.7L1231.4 2626.3L1219.8 2614.9L1216.1 2617.4L1224.2 2623.5L1242.6 2598.8L1222.3 2619.9L1230.9 2598.7L1232.2 2616.1L1231.7 2632.1L1241.0 2614.4L1217.8 2609.2L1229.2 2635.1L1241.6 2629.6L1246.2 2618.5L1227.2 2612.3L1263.2 2601.0L1269.0 2600.8L1259.7 2601.6L1258.4 2615.3L1271.2 2605.0L1282.6 2604.9L1260.1 2606.4L1255.1 2607.9L1253.5 2599.1L1257.7 2599.8L1263.0 2600.2L1256.9 2601.7L1252.7 2604.8L1253.4 2615.8L1257.9 2578.6L1264.2 2617.1L1255.0 2614.5L1245.2 2610.8L1260.7 2607.7L1254.7 2595.5L1248.1 2599.6L1254.5 2591.2L1260.4 2570.3L1265.7 2600.2L1265.4 2626.3L1258.8 2602.5L1248.3 2606.3L1267.8 2587.0L1251.0 2598.3L1258.8 2593.6L1271.2 2604.9L1252.6 2591.9L1269.0 2610.4L1259.3 2585.2L1255.4 2590.8L1275.0 2600.5L1270.3 2608.5L1255.1 2579.4L1267.3 2617.4L1253.9 2593.9L1259.4 2581.3L1256.6 2586.7L1263.5 2609.9L1252.0 2593.6L1253.2 2588.1L1268.8 2594.0L1256.1 2588.8L1248.8 2595.4L1267.4 2602.8L1256.7 2586.9L1254.2 2594.3L1255.7 2591.8L1253.1 2603.2L1257.0 2581.2L1259.7 2595.2L1266.0 2600.7L1268.9 2595.5L1251.1 2609.3L1262.5 2609.1L1250.2 2580.6L1261.5 2602.5L1260.7 2609.8L1253.0 2593.3L1270.5 2611.0L1264.3 2602.8L1254.2 2613.0L1254.0 2596.5L1257.6 2592.2L1275.3 2551.2L1273.8 2528.4L1264.0 2550.0L1272.1 2548.0L1271.2 2538.6L1263.4 2549.8L1277.9 2539.4L1254.4 2549.4L1289.4 2527.7L1276.3 2536.4L1285.8 2545.8L1268.4 2546.3L1283.1 2529.2L1274.0 2540.0L1261.1 2541.0L1272.4 2546.2L1250.6 2534.0L1258.8 2549.9L1257.9 2546.4L1286.7 2540.3L1259.7 2546.5L1269.9 2540.1L1250.8 2553.6L1268.2 2541.4L1291.0 2529.2L1258.9 2553.2L1268.5 2538.9L1276.1 2532.6L1258.7 2553.8L1274.6 2536.2L1271.8 2551.6L1254.7 2552.4L1267.8 2536.2L1270.0 2535.7L1255.8 2549.4L1262.0 2538.2L1292.3 2534.3L1229.8 2558.5L1243.0 2553.7L1296.9 2554.9L1326.9 2537.0L1361.7 2537.0L1350.9 2584.9L1296.9 2611.2L1275.4 2635.1L1287.4 2632.8L1304.1 2576.5L1306.5 2575.3L1302.9 2582.5"/>
<path clip-path="url(#s97)" class="lo" d="M1185.47 2651.88C1188.88 2648.9 1198.56 2640.15 1205.95 2633.98C1213.34 2627.81 1221.83 2620.83 1229.81 2614.84C1237.8 2608.85 1245.88 2604.44 1253.87 2598.04C1261.85 2591.64 1270.56 2583.6 1277.73 2576.42C1284.9 2569.24 1289.69 2561.71 1296.89 2554.94C1304.1 2548.17 1312.96 2541.79 1320.95 2535.8C1328.93 2529.81 1340.83 2521.8 1344.81 2519"/>
<path clip-path="url(#s98)" class="pt" d="M1392.9 2625.3L1381.5 2647.9L1383.2 2650.7L1389.4 2634.7L1386.6 2633.5L1378.1 2642.9L1395.9 2625.8L1392.8 2628.4L1382.5 2639.4L1383.2 2635.9L1396.1 2639.1L1391.2 2635.2L1383.8 2634.4L1377.2 2627.3L1376.6 2642.8L1378.4 2643.3L1391.0 2639.5L1385.2 2644.4L1382.4 2647.7L1388.5 2638.1L1388.9 2638.8L1391.8 2623.0L1384.6 2637.3L1372.2 2642.7L1383.7 2625.8L1380.6 2644.4L1387.9 2626.0L1376.8 2644.7L1384.6 2639.7L1372.1 2648.1L1395.3 2633.6L1391.1 2637.2L1391.4 2635.8L1395.2 2639.0L1383.0 2641.6L1381.3 2642.1L1385.6 2640.0L1387.3 2630.4L1380.4 2639.9L1395.7 2636.1L1388.9 2635.8L1379.5 2640.6L1373.3 2648.4L1394.8 2635.4L1397.6 2637.9L1385.9 2645.7L1383.6 2653.6L1390.3 2636.4L1387.4 2632.9L1386.0 2632.4L1394.3 2624.0L1380.1 2643.5L1379.3 2641.9L1372.1 2650.2L1393.9 2633.9L1379.3 2632.0L1376.1 2653.2L1374.1 2648.5L1397.5 2633.8L1386.5 2628.7L1387.3 2634.2L1378.7 2641.9L1388.5 2634.8L1375.7 2641.0L1397.0 2613.8L1408.9 2604.6L1401.1 2601.7L1412.0 2609.0L1416.5 2606.3L1410.6 2597.0L1407.2 2609.4L1400.3 2611.3L1412.2 2606.7L1418.1 2600.8L1401.5 2602.3L1409.2 2599.9L1421.3 2601.5L1405.7 2599.0L1403.1 2604.0L1397.9 2599.5L1399.8 2610.4L1405.0 2609.9L1407.9 2621.0L1400.9 2606.5L1404.8 2612.6L1400.6 2609.2L1406.9 2602.8L1411.9 2592.4L1400.1 2612.2L1399.2 2604.5L1396.4 2603.9L1420.3 2600.5L1399.4 2599.7L1401.0 2611.7L1403.1 2604.7L1402.8 2608.3L1413.6 2610.4L1402.4 2601.4L1400.4 2590.4L1407.5 2595.9L1408.2 2597.2L1407.0 2611.4L1407.7 2615.9L1410.1 2604.2L1404.7 2611.2L1407.7 2609.8L1397.5 2611.5L1392.5 2609.7L1401.6 2605.0L1399.2 2604.8L1393.9 2610.4L1399.1 2609.2L1418.0 2616.6L1393.6 2596.1L1400.1 2606.7L1409.6 2617.9L1399.3 2607.3L1400.6 2609.4L1410.7 2601.2L1399.6 2609.8L1404.7 2603.8L1412.7 2597.4L1403.3 2612.5L1391.2 2604.3L1400.5 2605.4L1408.2 2598.5L1406.7 2597.7L1403.9 2610.6L1404.5 2608.2L1411.9 2626.5L1404.8 2598.8L1402.9 2610.1L1414.2 2617.4L1408.3 2599.5L1420.5 2603.1L1404.4 2604.5L1402.4 2600.6L1405.5 2593.3L1402.7 2601.2L1409.6 2606.2L1425.4 2610.4L1416.6 2607.2L1407.2 2608.1L1449.4 2616.8L1448.9 2600.4L1432.4 2603.7L1444.1 2598.0L1438.2 2599.3L1426.0 2593.3L1437.3 2592.0L1447.1 2605.1L1455.4 2582.3L1443.8 2591.0L1429.6 2577.8L1441.6 2607.9L1433.0 2608.7L1419.1 2604.1L1449.9 2606.9L1439.8 2568.0L1440.8 2594.3L1432.8 2600.4L1430.1 2582.4L1424.6 2621.4L1424.7 2588.3L1436.3 2575.7L1436.5 2602.4L1447.6 2595.6L1440.4 2610.4L1431.9 2589.0L1434.6 2585.7L1430.4 2594.4L1433.7 2603.0L1441.9 2595.8L1430.7 2572.4L1445.9 2606.0L1450.3 2599.3L1436.9 2576.5L1441.5 2585.0L1426.6 2587.6L1427.3 2590.0L1438.1 2605.2L1425.6 2628.4L1455.0 2600.8L1434.9 2582.3L1426.0 2587.9L1437.7 2611.9L1424.3 2592.4L1446.0 2593.6L1448.3 2593.2L1445.9 2613.7L1428.9 2585.7L1450.9 2612.9L1433.9 2582.4L1437.9 2602.1L1442.0 2580.5L1442.6 2597.9L1431.2 2610.7L1430.6 2577.2L1438.2 2614.0L1430.4 2610.6L1441.4 2607.6L1433.1 2609.7L1452.0 2582.2L1433.9 2611.0L1434.7 2582.6L1422.2 2626.4L1426.1 2590.6L1479.8 2535.3L1490.3 2538.5L1476.9 2533.1L1485.3 2537.3L1488.9 2540.5L1485.2 2527.5L1486.8 2542.1L1491.7 2538.2L1468.0 2535.1L1479.5 2528.8L1481.2 2536.4L1482.8 2540.2L1475.6 2534.9L1468.4 2531.9L1481.3 2531.8L1481.1 2533.0L1491.2 2537.1L1481.2 2533.7L1475.7 2535.7L1480.2 2532.8L1474.5 2527.3L1472.8 2532.7L1477.5 2537.3L1482.9 2537.8L1473.0 2536.1L1489.0 2535.4L1484.6 2531.9L1482.2 2538.7L1472.0 2529.2L1483.2 2534.8L1490.3 2537.9L1486.4 2537.8L1439.0 2556.9L1441.3 2554.4L1456.0 2551.2L1445.6 2552.5L1444.1 2550.5L1445.4 2552.6L1443.7 2551.2L1446.5 2548.1L1440.0 2556.7L1446.9 2554.5L1453.7 2549.4L1441.9 2557.0L1456.0 2549.4L1456.1 2615.1L1460.7 2611.8L1456.6 2619.2L1457.6 2614.2L1458.4 2617.1L1461.5 2620.5L1452.9 2614.8L1465.6 2619.4L1455.5 2612.9L1458.0 2613.3L1458.8 2618.2L1459.3 2609.9L1463.7 2614.2L1461.3 2612.9L1454.5 2615.8L1456.2 2614.9L1459.9 2616.0L1459.0 2617.4L1455.5 2615.4L1435.9 2529.8L1440.7 2537.0L1459.9 2559.7L1476.7 2560.9L1483.9 2558.5L1497.1 2554.9L1504.3 2541.8L1528.2 2537.0L1549.8 2537.0L1543.8 2584.9L1497.1 2611.2L1468.3 2635.1L1487.5 2632.8L1433.6 2635.1L1469.5 2576.5L1473.1 2576.5L1461.1 2582.5L1465.9 2593.2"/>
<path clip-path="url(#s98)" class="lo" d="M1373.56 2651.88C1375.97 2649.29 1383.23 2641.3 1388.03 2636.32C1392.82 2631.34 1397.11 2626.38 1402.31 2622C1407.51 2617.62 1413.2 2613.62 1419.22 2610.02C1425.23 2606.42 1433.15 2603.57 1438.38 2600.38C1443.61 2597.19 1446.56 2594.87 1450.6 2590.88C1454.64 2586.89 1458.21 2581.61 1462.62 2576.42C1467.04 2571.23 1471.89 2565.73 1477.09 2559.76C1482.29 2553.79 1487.08 2547.41 1493.81 2540.62C1500.55 2533.83 1513.54 2522.6 1517.49 2519"/>
</svg></body></html>
